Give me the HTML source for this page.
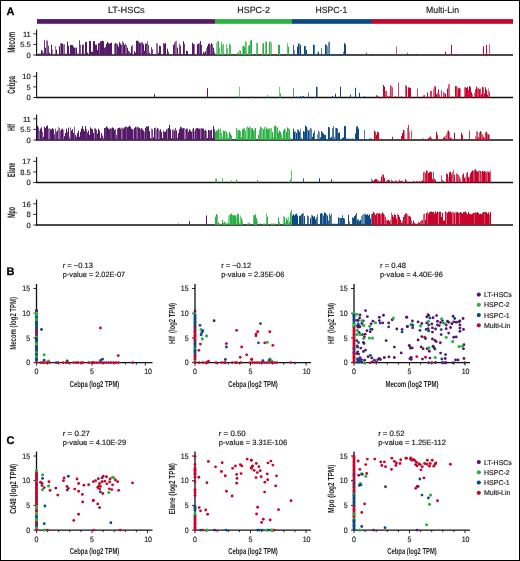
<!DOCTYPE html>
<html><head><meta charset="utf-8"><style>
html,body{margin:0;padding:0;background:#fff;}
svg{display:block;will-change:transform;}
text{font-family:"Liberation Sans",sans-serif;text-rendering:geometricPrecision;}
</style></head><body>
<svg width="520" height="561" viewBox="0 0 520 561" xmlns="http://www.w3.org/2000/svg" font-family="Liberation Sans, sans-serif">
<rect width="520" height="561" fill="#fff"/>
<rect x="0" y="0" width="520" height="1" fill="#000"/><rect x="0" y="560" width="520" height="1" fill="#000"/><rect x="0" y="0" width="1" height="561" fill="#000"/><rect x="519" y="0" width="1" height="561" fill="#000"/>
<text x="6.6" y="14.9" font-size="11" font-weight="bold" fill="#000" stroke="#000" stroke-width="0.25">A</text>
<text x="6.5" y="275.3" font-size="11" font-weight="bold" fill="#000" stroke="#000" stroke-width="0.25">B</text>
<text x="6.5" y="443.6" font-size="11" font-weight="bold" fill="#000" stroke="#000" stroke-width="0.25">C</text>
<rect x="37" y="19.1" width="178" height="4.7" fill="#56196a"/>
<rect x="215" y="19.1" width="77" height="4.7" fill="#2ab142"/>
<rect x="292" y="19.1" width="80" height="4.7" fill="#0a4984"/>
<rect x="372" y="19.1" width="141" height="4.7" fill="#c6052d"/>
<text x="107.9" y="13.4" font-size="9" text-anchor="start" font-weight="normal" textLength="36.85" lengthAdjust="spacingAndGlyphs" fill="#231f20" stroke="#231f20" stroke-width="0.18" >LT-HSCs</text>
<text x="237.25" y="13.4" font-size="9" text-anchor="start" font-weight="normal" textLength="32.75" lengthAdjust="spacingAndGlyphs" fill="#231f20" stroke="#231f20" stroke-width="0.18" >HSPC-2</text>
<text x="315.6" y="13.4" font-size="9" text-anchor="start" font-weight="normal" textLength="31.65" lengthAdjust="spacingAndGlyphs" fill="#231f20" stroke="#231f20" stroke-width="0.18" >HSPC-1</text>
<text x="426" y="13.4" font-size="9" text-anchor="start" font-weight="normal" textLength="33" lengthAdjust="spacingAndGlyphs" fill="#231f20" stroke="#231f20" stroke-width="0.18" >Multi-Lin</text>
<line x1="36.6" y1="29.6" x2="36.6" y2="55.6" stroke="#111" stroke-width="1.1"/>
<line x1="36" y1="55.0" x2="513" y2="55.0" stroke="#111" stroke-width="1.5"/>
<line x1="33.3" y1="33.8" x2="36.6" y2="33.8" stroke="#111" stroke-width="0.9"/>
<text transform="translate(30.8,36.5) scale(1.0,1)" font-size="7.6" text-anchor="end" fill="#231f20" stroke="#231f20" stroke-width="0.18">11</text>
<line x1="33.3" y1="44.4" x2="36.6" y2="44.4" stroke="#111" stroke-width="0.9"/>
<text transform="translate(30.8,47.1) scale(1.0,1)" font-size="7.6" text-anchor="end" fill="#231f20" stroke="#231f20" stroke-width="0.18">5.5</text>
<line x1="33.3" y1="55.0" x2="36.6" y2="55.0" stroke="#111" stroke-width="0.9"/>
<text transform="translate(30.8,57.7) scale(1.0,1)" font-size="7.6" text-anchor="end" fill="#231f20" stroke="#231f20" stroke-width="0.18">0</text>
<text transform="translate(15.1,42.4) rotate(-90)" font-size="10.8" font-weight="bold" text-anchor="middle" textLength="20.8" lengthAdjust="spacingAndGlyphs" fill="#231f20" font-family="Liberation Sans, sans-serif">Mecom</text>
<line x1="36.6" y1="72.1" x2="36.6" y2="98.1" stroke="#111" stroke-width="1.1"/>
<line x1="36" y1="97.5" x2="513" y2="97.5" stroke="#111" stroke-width="1.5"/>
<line x1="33.3" y1="76.3" x2="36.6" y2="76.3" stroke="#111" stroke-width="0.9"/>
<text transform="translate(30.8,79.0) scale(1.0,1)" font-size="7.6" text-anchor="end" fill="#231f20" stroke="#231f20" stroke-width="0.18">10</text>
<line x1="33.3" y1="86.89999999999999" x2="36.6" y2="86.89999999999999" stroke="#111" stroke-width="0.9"/>
<text transform="translate(30.8,89.6) scale(1.0,1)" font-size="7.6" text-anchor="end" fill="#231f20" stroke="#231f20" stroke-width="0.18">5</text>
<line x1="33.3" y1="97.5" x2="36.6" y2="97.5" stroke="#111" stroke-width="0.9"/>
<text transform="translate(30.8,100.2) scale(1.0,1)" font-size="7.6" text-anchor="end" fill="#231f20" stroke="#231f20" stroke-width="0.18">0</text>
<text transform="translate(15.1,84.9) rotate(-90)" font-size="10.8" font-weight="bold" text-anchor="middle" textLength="17.8" lengthAdjust="spacingAndGlyphs" fill="#231f20" font-family="Liberation Sans, sans-serif">Cebpa</text>
<line x1="36.6" y1="114.6" x2="36.6" y2="140.6" stroke="#111" stroke-width="1.1"/>
<line x1="36" y1="140.0" x2="513" y2="140.0" stroke="#111" stroke-width="1.5"/>
<line x1="33.3" y1="118.8" x2="36.6" y2="118.8" stroke="#111" stroke-width="0.9"/>
<text transform="translate(30.8,121.5) scale(1.0,1)" font-size="7.6" text-anchor="end" fill="#231f20" stroke="#231f20" stroke-width="0.18">11</text>
<line x1="33.3" y1="129.4" x2="36.6" y2="129.4" stroke="#111" stroke-width="0.9"/>
<text transform="translate(30.8,132.1) scale(1.0,1)" font-size="7.6" text-anchor="end" fill="#231f20" stroke="#231f20" stroke-width="0.18">5.5</text>
<line x1="33.3" y1="140.0" x2="36.6" y2="140.0" stroke="#111" stroke-width="0.9"/>
<text transform="translate(30.8,142.7) scale(1.0,1)" font-size="7.6" text-anchor="end" fill="#231f20" stroke="#231f20" stroke-width="0.18">0</text>
<text transform="translate(15.1,127.4) rotate(-90)" font-size="10.8" font-weight="bold" text-anchor="middle" textLength="6.8" lengthAdjust="spacingAndGlyphs" fill="#231f20" font-family="Liberation Sans, sans-serif">Hlf</text>
<line x1="36.6" y1="157.1" x2="36.6" y2="183.1" stroke="#111" stroke-width="1.1"/>
<line x1="36" y1="182.5" x2="513" y2="182.5" stroke="#111" stroke-width="1.5"/>
<line x1="33.3" y1="161.3" x2="36.6" y2="161.3" stroke="#111" stroke-width="0.9"/>
<text transform="translate(30.8,164.0) scale(1.0,1)" font-size="7.6" text-anchor="end" fill="#231f20" stroke="#231f20" stroke-width="0.18">17</text>
<line x1="33.3" y1="171.9" x2="36.6" y2="171.9" stroke="#111" stroke-width="0.9"/>
<text transform="translate(30.8,174.6) scale(1.0,1)" font-size="7.6" text-anchor="end" fill="#231f20" stroke="#231f20" stroke-width="0.18">8.5</text>
<line x1="33.3" y1="182.5" x2="36.6" y2="182.5" stroke="#111" stroke-width="0.9"/>
<text transform="translate(30.8,185.2) scale(1.0,1)" font-size="7.6" text-anchor="end" fill="#231f20" stroke="#231f20" stroke-width="0.18">0</text>
<text transform="translate(15.1,169.9) rotate(-90)" font-size="10.8" font-weight="bold" text-anchor="middle" textLength="14.3" lengthAdjust="spacingAndGlyphs" fill="#231f20" font-family="Liberation Sans, sans-serif">Elane</text>
<line x1="36.6" y1="199.6" x2="36.6" y2="225.6" stroke="#111" stroke-width="1.1"/>
<line x1="36" y1="225.0" x2="513" y2="225.0" stroke="#111" stroke-width="1.5"/>
<line x1="33.3" y1="203.8" x2="36.6" y2="203.8" stroke="#111" stroke-width="0.9"/>
<text transform="translate(30.8,206.5) scale(1.0,1)" font-size="7.6" text-anchor="end" fill="#231f20" stroke="#231f20" stroke-width="0.18">16</text>
<line x1="33.3" y1="214.4" x2="36.6" y2="214.4" stroke="#111" stroke-width="0.9"/>
<text transform="translate(30.8,217.1) scale(1.0,1)" font-size="7.6" text-anchor="end" fill="#231f20" stroke="#231f20" stroke-width="0.18">8</text>
<line x1="33.3" y1="225.0" x2="36.6" y2="225.0" stroke="#111" stroke-width="0.9"/>
<text transform="translate(30.8,227.7) scale(1.0,1)" font-size="7.6" text-anchor="end" fill="#231f20" stroke="#231f20" stroke-width="0.18">0</text>
<text transform="translate(15.1,212.4) rotate(-90)" font-size="10.8" font-weight="bold" text-anchor="middle" textLength="10.8" lengthAdjust="spacingAndGlyphs" fill="#231f20" font-family="Liberation Sans, sans-serif">Mpo</text>
<line x1="36.5" y1="284.0" x2="36.5" y2="363.1" stroke="#111" stroke-width="1.3"/>
<line x1="36.0" y1="362.6" x2="152.5" y2="362.6" stroke="#111" stroke-width="1.4"/>
<line x1="33.5" y1="362.6" x2="36.5" y2="362.6" stroke="#111" stroke-width="0.9"/>
<text transform="translate(30.1,365.35) scale(0.9,1)" font-size="7.8" text-anchor="end" fill="#231f20" stroke="#231f20" stroke-width="0.18">0</text>
<line x1="33.5" y1="337.90000000000003" x2="36.5" y2="337.90000000000003" stroke="#111" stroke-width="0.9"/>
<text transform="translate(30.1,340.65000000000003) scale(0.9,1)" font-size="7.8" text-anchor="end" fill="#231f20" stroke="#231f20" stroke-width="0.18">5</text>
<line x1="33.5" y1="313.20000000000005" x2="36.5" y2="313.20000000000005" stroke="#111" stroke-width="0.9"/>
<text transform="translate(30.1,315.95000000000005) scale(0.9,1)" font-size="7.8" text-anchor="end" fill="#231f20" stroke="#231f20" stroke-width="0.18">10</text>
<line x1="33.5" y1="288.5" x2="36.5" y2="288.5" stroke="#111" stroke-width="0.9"/>
<text transform="translate(30.1,291.25) scale(0.9,1)" font-size="7.8" text-anchor="end" fill="#231f20" stroke="#231f20" stroke-width="0.18">15</text>
<line x1="36.5" y1="362.6" x2="36.5" y2="365.6" stroke="#111" stroke-width="0.9"/>
<text transform="translate(36.5,374.3) scale(0.9,1)" font-size="7.8" text-anchor="middle" fill="#231f20" stroke="#231f20" stroke-width="0.18">0</text>
<line x1="47.6" y1="362.6" x2="47.6" y2="364.6" stroke="#111" stroke-width="0.9"/>
<line x1="58.7" y1="362.6" x2="58.7" y2="364.6" stroke="#111" stroke-width="0.9"/>
<line x1="69.8" y1="362.6" x2="69.8" y2="364.6" stroke="#111" stroke-width="0.9"/>
<line x1="80.9" y1="362.6" x2="80.9" y2="364.6" stroke="#111" stroke-width="0.9"/>
<line x1="92.0" y1="362.6" x2="92.0" y2="365.6" stroke="#111" stroke-width="0.9"/>
<text transform="translate(92.0,374.3) scale(0.9,1)" font-size="7.8" text-anchor="middle" fill="#231f20" stroke="#231f20" stroke-width="0.18">5</text>
<line x1="103.1" y1="362.6" x2="103.1" y2="364.6" stroke="#111" stroke-width="0.9"/>
<line x1="114.2" y1="362.6" x2="114.2" y2="364.6" stroke="#111" stroke-width="0.9"/>
<line x1="125.3" y1="362.6" x2="125.3" y2="364.6" stroke="#111" stroke-width="0.9"/>
<line x1="136.39999999999998" y1="362.6" x2="136.39999999999998" y2="364.6" stroke="#111" stroke-width="0.9"/>
<line x1="145.3" y1="362.6" x2="145.3" y2="365.6" stroke="#111" stroke-width="0.9"/>
<text transform="translate(148.1,374.3) scale(0.9,1)" font-size="7.8" text-anchor="middle" fill="#231f20" stroke="#231f20" stroke-width="0.18">10</text>
<text x="94.5" y="386.5" font-size="8.6" text-anchor="middle" font-weight="bold" textLength="49.5" lengthAdjust="spacingAndGlyphs" fill="#231f20" >Cebpa (log2 TPM)</text>
<text transform="translate(16.3,323.4) rotate(-90)" font-size="8.8" font-weight="bold" text-anchor="middle" textLength="52.6" lengthAdjust="spacingAndGlyphs" fill="#231f20" font-family="Liberation Sans, sans-serif">Mecom (log2 TPM)</text>
<text x="62.7" y="268.20000000000005" font-size="7.6" text-anchor="start" font-weight="normal" textLength="30.2" lengthAdjust="spacingAndGlyphs" fill="#231f20" stroke="#231f20" stroke-width="0.18" >r = −0.13</text>
<text x="62.7" y="277.20000000000005" font-size="7.6" text-anchor="start" font-weight="normal" textLength="62.4" lengthAdjust="spacingAndGlyphs" fill="#231f20" stroke="#231f20" stroke-width="0.18" >p-value = 2.02E-07</text>
<line x1="195" y1="284.0" x2="195" y2="363.1" stroke="#111" stroke-width="1.3"/>
<line x1="194.5" y1="362.6" x2="311" y2="362.6" stroke="#111" stroke-width="1.4"/>
<line x1="192" y1="362.6" x2="195" y2="362.6" stroke="#111" stroke-width="0.9"/>
<text transform="translate(188.6,365.35) scale(0.9,1)" font-size="7.8" text-anchor="end" fill="#231f20" stroke="#231f20" stroke-width="0.18">0</text>
<line x1="192" y1="337.90000000000003" x2="195" y2="337.90000000000003" stroke="#111" stroke-width="0.9"/>
<text transform="translate(188.6,340.65000000000003) scale(0.9,1)" font-size="7.8" text-anchor="end" fill="#231f20" stroke="#231f20" stroke-width="0.18">5</text>
<line x1="192" y1="313.20000000000005" x2="195" y2="313.20000000000005" stroke="#111" stroke-width="0.9"/>
<text transform="translate(188.6,315.95000000000005) scale(0.9,1)" font-size="7.8" text-anchor="end" fill="#231f20" stroke="#231f20" stroke-width="0.18">10</text>
<line x1="192" y1="288.5" x2="195" y2="288.5" stroke="#111" stroke-width="0.9"/>
<text transform="translate(188.6,291.25) scale(0.9,1)" font-size="7.8" text-anchor="end" fill="#231f20" stroke="#231f20" stroke-width="0.18">15</text>
<line x1="195.0" y1="362.6" x2="195.0" y2="365.6" stroke="#111" stroke-width="0.9"/>
<text transform="translate(195.0,374.3) scale(0.9,1)" font-size="7.8" text-anchor="middle" fill="#231f20" stroke="#231f20" stroke-width="0.18">0</text>
<line x1="206.1" y1="362.6" x2="206.1" y2="364.6" stroke="#111" stroke-width="0.9"/>
<line x1="217.2" y1="362.6" x2="217.2" y2="364.6" stroke="#111" stroke-width="0.9"/>
<line x1="228.3" y1="362.6" x2="228.3" y2="364.6" stroke="#111" stroke-width="0.9"/>
<line x1="239.4" y1="362.6" x2="239.4" y2="364.6" stroke="#111" stroke-width="0.9"/>
<line x1="250.5" y1="362.6" x2="250.5" y2="365.6" stroke="#111" stroke-width="0.9"/>
<text transform="translate(250.5,374.3) scale(0.9,1)" font-size="7.8" text-anchor="middle" fill="#231f20" stroke="#231f20" stroke-width="0.18">5</text>
<line x1="261.6" y1="362.6" x2="261.6" y2="364.6" stroke="#111" stroke-width="0.9"/>
<line x1="272.7" y1="362.6" x2="272.7" y2="364.6" stroke="#111" stroke-width="0.9"/>
<line x1="283.8" y1="362.6" x2="283.8" y2="364.6" stroke="#111" stroke-width="0.9"/>
<line x1="294.9" y1="362.6" x2="294.9" y2="364.6" stroke="#111" stroke-width="0.9"/>
<line x1="306.0" y1="362.6" x2="306.0" y2="365.6" stroke="#111" stroke-width="0.9"/>
<text transform="translate(306.6,374.3) scale(0.9,1)" font-size="7.8" text-anchor="middle" fill="#231f20" stroke="#231f20" stroke-width="0.18">10</text>
<text x="253" y="386.5" font-size="8.6" text-anchor="middle" font-weight="bold" textLength="49.5" lengthAdjust="spacingAndGlyphs" fill="#231f20" >Cebpa (log2 TPM)</text>
<text transform="translate(174.8,323.4) rotate(-90)" font-size="8.8" font-weight="bold" text-anchor="middle" textLength="41" lengthAdjust="spacingAndGlyphs" fill="#231f20" font-family="Liberation Sans, sans-serif">Hlf (log2 TPM)</text>
<text x="221.15" y="268.20000000000005" font-size="7.6" text-anchor="start" font-weight="normal" textLength="30.1" lengthAdjust="spacingAndGlyphs" fill="#231f20" stroke="#231f20" stroke-width="0.18" >r = −0.12</text>
<text x="221.15" y="277.20000000000005" font-size="7.6" text-anchor="start" font-weight="normal" textLength="63.2" lengthAdjust="spacingAndGlyphs" fill="#231f20" stroke="#231f20" stroke-width="0.18" >p-value = 2.35E-06</text>
<line x1="354.0" y1="284.0" x2="354.0" y2="363.1" stroke="#111" stroke-width="1.3"/>
<line x1="353.5" y1="362.6" x2="470.0" y2="362.6" stroke="#111" stroke-width="1.4"/>
<line x1="351.0" y1="362.6" x2="354.0" y2="362.6" stroke="#111" stroke-width="0.9"/>
<text transform="translate(347.6,365.35) scale(0.9,1)" font-size="7.8" text-anchor="end" fill="#231f20" stroke="#231f20" stroke-width="0.18">0</text>
<line x1="351.0" y1="337.90000000000003" x2="354.0" y2="337.90000000000003" stroke="#111" stroke-width="0.9"/>
<text transform="translate(347.6,340.65000000000003) scale(0.9,1)" font-size="7.8" text-anchor="end" fill="#231f20" stroke="#231f20" stroke-width="0.18">5</text>
<line x1="351.0" y1="313.20000000000005" x2="354.0" y2="313.20000000000005" stroke="#111" stroke-width="0.9"/>
<text transform="translate(347.6,315.95000000000005) scale(0.9,1)" font-size="7.8" text-anchor="end" fill="#231f20" stroke="#231f20" stroke-width="0.18">10</text>
<line x1="351.0" y1="288.5" x2="354.0" y2="288.5" stroke="#111" stroke-width="0.9"/>
<text transform="translate(347.6,291.25) scale(0.9,1)" font-size="7.8" text-anchor="end" fill="#231f20" stroke="#231f20" stroke-width="0.18">15</text>
<line x1="354.0" y1="362.6" x2="354.0" y2="365.6" stroke="#111" stroke-width="0.9"/>
<text transform="translate(354.0,374.3) scale(0.9,1)" font-size="7.8" text-anchor="middle" fill="#231f20" stroke="#231f20" stroke-width="0.18">0</text>
<line x1="365.1" y1="362.6" x2="365.1" y2="364.6" stroke="#111" stroke-width="0.9"/>
<line x1="376.2" y1="362.6" x2="376.2" y2="364.6" stroke="#111" stroke-width="0.9"/>
<line x1="387.3" y1="362.6" x2="387.3" y2="364.6" stroke="#111" stroke-width="0.9"/>
<line x1="398.4" y1="362.6" x2="398.4" y2="364.6" stroke="#111" stroke-width="0.9"/>
<line x1="409.5" y1="362.6" x2="409.5" y2="365.6" stroke="#111" stroke-width="0.9"/>
<text transform="translate(409.5,374.3) scale(0.9,1)" font-size="7.8" text-anchor="middle" fill="#231f20" stroke="#231f20" stroke-width="0.18">5</text>
<line x1="420.6" y1="362.6" x2="420.6" y2="364.6" stroke="#111" stroke-width="0.9"/>
<line x1="431.7" y1="362.6" x2="431.7" y2="364.6" stroke="#111" stroke-width="0.9"/>
<line x1="442.8" y1="362.6" x2="442.8" y2="364.6" stroke="#111" stroke-width="0.9"/>
<line x1="453.9" y1="362.6" x2="453.9" y2="364.6" stroke="#111" stroke-width="0.9"/>
<line x1="465.0" y1="362.6" x2="465.0" y2="365.6" stroke="#111" stroke-width="0.9"/>
<text transform="translate(465.6,374.3) scale(0.9,1)" font-size="7.8" text-anchor="middle" fill="#231f20" stroke="#231f20" stroke-width="0.18">10</text>
<text x="412.0" y="386.5" font-size="8.6" text-anchor="middle" font-weight="bold" textLength="53.1" lengthAdjust="spacingAndGlyphs" fill="#231f20" >Mecom (log2 TPM)</text>
<text transform="translate(333.8,323.4) rotate(-90)" font-size="8.8" font-weight="bold" text-anchor="middle" textLength="41" lengthAdjust="spacingAndGlyphs" fill="#231f20" font-family="Liberation Sans, sans-serif">Hlf (log2 TPM)</text>
<text x="380" y="268.20000000000005" font-size="7.6" text-anchor="start" font-weight="normal" textLength="26" lengthAdjust="spacingAndGlyphs" fill="#231f20" stroke="#231f20" stroke-width="0.18" >r = 0.48</text>
<text x="380" y="277.20000000000005" font-size="7.6" text-anchor="start" font-weight="normal" textLength="62.8" lengthAdjust="spacingAndGlyphs" fill="#231f20" stroke="#231f20" stroke-width="0.18" >p-value = 4.40E-96</text>
<circle cx="478.8" cy="294.6" r="2.1" fill="#56196a"/>
<text x="484" y="297.0" font-size="7" text-anchor="start" font-weight="normal" fill="#231f20" stroke="#231f20" stroke-width="0.18" >LT-HSCs</text>
<circle cx="478.8" cy="304.85" r="2.1" fill="#2ab142"/>
<text x="484" y="307.25" font-size="7" text-anchor="start" font-weight="normal" fill="#231f20" stroke="#231f20" stroke-width="0.18" >HSPC-2</text>
<circle cx="478.8" cy="315.1" r="2.1" fill="#0a4984"/>
<text x="484" y="317.5" font-size="7" text-anchor="start" font-weight="normal" fill="#231f20" stroke="#231f20" stroke-width="0.18" >HSPC-1</text>
<circle cx="478.8" cy="325.35" r="2.1" fill="#c6052d"/>
<text x="484" y="327.75" font-size="7" text-anchor="start" font-weight="normal" fill="#231f20" stroke="#231f20" stroke-width="0.18" >Multi-Lin</text>
<line x1="36.5" y1="451.5" x2="36.5" y2="530.6" stroke="#111" stroke-width="1.3"/>
<line x1="36.0" y1="530.1" x2="152.5" y2="530.1" stroke="#111" stroke-width="1.4"/>
<line x1="33.5" y1="530.1" x2="36.5" y2="530.1" stroke="#111" stroke-width="0.9"/>
<text transform="translate(30.1,532.85) scale(0.9,1)" font-size="7.8" text-anchor="end" fill="#231f20" stroke="#231f20" stroke-width="0.18">0</text>
<line x1="33.5" y1="505.40000000000003" x2="36.5" y2="505.40000000000003" stroke="#111" stroke-width="0.9"/>
<text transform="translate(30.1,508.15000000000003) scale(0.9,1)" font-size="7.8" text-anchor="end" fill="#231f20" stroke="#231f20" stroke-width="0.18">5</text>
<line x1="33.5" y1="480.70000000000005" x2="36.5" y2="480.70000000000005" stroke="#111" stroke-width="0.9"/>
<text transform="translate(30.1,483.45000000000005) scale(0.9,1)" font-size="7.8" text-anchor="end" fill="#231f20" stroke="#231f20" stroke-width="0.18">10</text>
<line x1="33.5" y1="456.0" x2="36.5" y2="456.0" stroke="#111" stroke-width="0.9"/>
<text transform="translate(30.1,458.75) scale(0.9,1)" font-size="7.8" text-anchor="end" fill="#231f20" stroke="#231f20" stroke-width="0.18">15</text>
<line x1="36.5" y1="530.1" x2="36.5" y2="533.1" stroke="#111" stroke-width="0.9"/>
<text transform="translate(36.5,541.8000000000001) scale(0.9,1)" font-size="7.8" text-anchor="middle" fill="#231f20" stroke="#231f20" stroke-width="0.18">0</text>
<line x1="47.6" y1="530.1" x2="47.6" y2="532.1" stroke="#111" stroke-width="0.9"/>
<line x1="58.7" y1="530.1" x2="58.7" y2="532.1" stroke="#111" stroke-width="0.9"/>
<line x1="69.8" y1="530.1" x2="69.8" y2="532.1" stroke="#111" stroke-width="0.9"/>
<line x1="80.9" y1="530.1" x2="80.9" y2="532.1" stroke="#111" stroke-width="0.9"/>
<line x1="92.0" y1="530.1" x2="92.0" y2="533.1" stroke="#111" stroke-width="0.9"/>
<text transform="translate(92.0,541.8000000000001) scale(0.9,1)" font-size="7.8" text-anchor="middle" fill="#231f20" stroke="#231f20" stroke-width="0.18">5</text>
<line x1="103.1" y1="530.1" x2="103.1" y2="532.1" stroke="#111" stroke-width="0.9"/>
<line x1="114.2" y1="530.1" x2="114.2" y2="532.1" stroke="#111" stroke-width="0.9"/>
<line x1="125.3" y1="530.1" x2="125.3" y2="532.1" stroke="#111" stroke-width="0.9"/>
<line x1="136.39999999999998" y1="530.1" x2="136.39999999999998" y2="532.1" stroke="#111" stroke-width="0.9"/>
<line x1="147.5" y1="530.1" x2="147.5" y2="533.1" stroke="#111" stroke-width="0.9"/>
<text transform="translate(148.1,541.8000000000001) scale(0.9,1)" font-size="7.8" text-anchor="middle" fill="#231f20" stroke="#231f20" stroke-width="0.18">10</text>
<text x="94.5" y="554.0" font-size="8.6" text-anchor="middle" font-weight="bold" textLength="49.5" lengthAdjust="spacingAndGlyphs" fill="#231f20" >Cebpa (log2 TPM)</text>
<text transform="translate(16.3,488.8) rotate(-90)" font-size="8.8" font-weight="bold" text-anchor="middle" textLength="50" lengthAdjust="spacingAndGlyphs" fill="#231f20" font-family="Liberation Sans, sans-serif">Cd48 (log2 TPM)</text>
<text x="62.7" y="435.70000000000005" font-size="7.6" text-anchor="start" font-weight="normal" textLength="27.4" lengthAdjust="spacingAndGlyphs" fill="#231f20" stroke="#231f20" stroke-width="0.18" >r = 0.27</text>
<text x="62.7" y="444.70000000000005" font-size="7.6" text-anchor="start" font-weight="normal" textLength="63.4" lengthAdjust="spacingAndGlyphs" fill="#231f20" stroke="#231f20" stroke-width="0.18" >p-value = 4.10E-29</text>
<line x1="195" y1="451.5" x2="195" y2="530.6" stroke="#111" stroke-width="1.3"/>
<line x1="194.5" y1="530.1" x2="311" y2="530.1" stroke="#111" stroke-width="1.4"/>
<line x1="192" y1="530.1" x2="195" y2="530.1" stroke="#111" stroke-width="0.9"/>
<text transform="translate(188.6,532.85) scale(0.9,1)" font-size="7.8" text-anchor="end" fill="#231f20" stroke="#231f20" stroke-width="0.18">0</text>
<line x1="192" y1="505.40000000000003" x2="195" y2="505.40000000000003" stroke="#111" stroke-width="0.9"/>
<text transform="translate(188.6,508.15000000000003) scale(0.9,1)" font-size="7.8" text-anchor="end" fill="#231f20" stroke="#231f20" stroke-width="0.18">5</text>
<line x1="192" y1="480.70000000000005" x2="195" y2="480.70000000000005" stroke="#111" stroke-width="0.9"/>
<text transform="translate(188.6,483.45000000000005) scale(0.9,1)" font-size="7.8" text-anchor="end" fill="#231f20" stroke="#231f20" stroke-width="0.18">10</text>
<line x1="192" y1="456.0" x2="195" y2="456.0" stroke="#111" stroke-width="0.9"/>
<text transform="translate(188.6,458.75) scale(0.9,1)" font-size="7.8" text-anchor="end" fill="#231f20" stroke="#231f20" stroke-width="0.18">15</text>
<line x1="195.0" y1="530.1" x2="195.0" y2="533.1" stroke="#111" stroke-width="0.9"/>
<text transform="translate(195.0,541.8000000000001) scale(0.9,1)" font-size="7.8" text-anchor="middle" fill="#231f20" stroke="#231f20" stroke-width="0.18">0</text>
<line x1="206.1" y1="530.1" x2="206.1" y2="532.1" stroke="#111" stroke-width="0.9"/>
<line x1="217.2" y1="530.1" x2="217.2" y2="532.1" stroke="#111" stroke-width="0.9"/>
<line x1="228.3" y1="530.1" x2="228.3" y2="532.1" stroke="#111" stroke-width="0.9"/>
<line x1="239.4" y1="530.1" x2="239.4" y2="532.1" stroke="#111" stroke-width="0.9"/>
<line x1="250.5" y1="530.1" x2="250.5" y2="533.1" stroke="#111" stroke-width="0.9"/>
<text transform="translate(250.5,541.8000000000001) scale(0.9,1)" font-size="7.8" text-anchor="middle" fill="#231f20" stroke="#231f20" stroke-width="0.18">5</text>
<line x1="261.6" y1="530.1" x2="261.6" y2="532.1" stroke="#111" stroke-width="0.9"/>
<line x1="272.7" y1="530.1" x2="272.7" y2="532.1" stroke="#111" stroke-width="0.9"/>
<line x1="283.8" y1="530.1" x2="283.8" y2="532.1" stroke="#111" stroke-width="0.9"/>
<line x1="294.9" y1="530.1" x2="294.9" y2="532.1" stroke="#111" stroke-width="0.9"/>
<line x1="306.0" y1="530.1" x2="306.0" y2="533.1" stroke="#111" stroke-width="0.9"/>
<text transform="translate(306.6,541.8000000000001) scale(0.9,1)" font-size="7.8" text-anchor="middle" fill="#231f20" stroke="#231f20" stroke-width="0.18">10</text>
<text x="253" y="554.0" font-size="8.6" text-anchor="middle" font-weight="bold" textLength="49.5" lengthAdjust="spacingAndGlyphs" fill="#231f20" >Cebpa (log2 TPM)</text>
<text transform="translate(174.8,488.8) rotate(-90)" font-size="8.8" font-weight="bold" text-anchor="middle" textLength="51.6" lengthAdjust="spacingAndGlyphs" fill="#231f20" font-family="Liberation Sans, sans-serif">Elane (log2 TPM)</text>
<text x="218.8" y="435.70000000000005" font-size="7.6" text-anchor="start" font-weight="normal" textLength="26.9" lengthAdjust="spacingAndGlyphs" fill="#231f20" stroke="#231f20" stroke-width="0.18" >r = 0.50</text>
<text x="218.8" y="444.70000000000005" font-size="7.6" text-anchor="start" font-weight="normal" textLength="68.3" lengthAdjust="spacingAndGlyphs" fill="#231f20" stroke="#231f20" stroke-width="0.18" >p-value = 3.31E-106</text>
<line x1="354.0" y1="451.5" x2="354.0" y2="530.6" stroke="#111" stroke-width="1.3"/>
<line x1="353.5" y1="530.1" x2="470.0" y2="530.1" stroke="#111" stroke-width="1.4"/>
<line x1="351.0" y1="530.1" x2="354.0" y2="530.1" stroke="#111" stroke-width="0.9"/>
<text transform="translate(347.6,532.85) scale(0.9,1)" font-size="7.8" text-anchor="end" fill="#231f20" stroke="#231f20" stroke-width="0.18">0</text>
<line x1="351.0" y1="505.40000000000003" x2="354.0" y2="505.40000000000003" stroke="#111" stroke-width="0.9"/>
<text transform="translate(347.6,508.15000000000003) scale(0.9,1)" font-size="7.8" text-anchor="end" fill="#231f20" stroke="#231f20" stroke-width="0.18">5</text>
<line x1="351.0" y1="480.70000000000005" x2="354.0" y2="480.70000000000005" stroke="#111" stroke-width="0.9"/>
<text transform="translate(347.6,483.45000000000005) scale(0.9,1)" font-size="7.8" text-anchor="end" fill="#231f20" stroke="#231f20" stroke-width="0.18">10</text>
<line x1="351.0" y1="456.0" x2="354.0" y2="456.0" stroke="#111" stroke-width="0.9"/>
<text transform="translate(347.6,458.75) scale(0.9,1)" font-size="7.8" text-anchor="end" fill="#231f20" stroke="#231f20" stroke-width="0.18">15</text>
<line x1="354.0" y1="530.1" x2="354.0" y2="533.1" stroke="#111" stroke-width="0.9"/>
<text transform="translate(354.0,541.8000000000001) scale(0.9,1)" font-size="7.8" text-anchor="middle" fill="#231f20" stroke="#231f20" stroke-width="0.18">0</text>
<line x1="365.1" y1="530.1" x2="365.1" y2="532.1" stroke="#111" stroke-width="0.9"/>
<line x1="376.2" y1="530.1" x2="376.2" y2="532.1" stroke="#111" stroke-width="0.9"/>
<line x1="387.3" y1="530.1" x2="387.3" y2="532.1" stroke="#111" stroke-width="0.9"/>
<line x1="398.4" y1="530.1" x2="398.4" y2="532.1" stroke="#111" stroke-width="0.9"/>
<line x1="409.5" y1="530.1" x2="409.5" y2="533.1" stroke="#111" stroke-width="0.9"/>
<text transform="translate(409.5,541.8000000000001) scale(0.9,1)" font-size="7.8" text-anchor="middle" fill="#231f20" stroke="#231f20" stroke-width="0.18">5</text>
<line x1="420.6" y1="530.1" x2="420.6" y2="532.1" stroke="#111" stroke-width="0.9"/>
<line x1="431.7" y1="530.1" x2="431.7" y2="532.1" stroke="#111" stroke-width="0.9"/>
<line x1="442.8" y1="530.1" x2="442.8" y2="532.1" stroke="#111" stroke-width="0.9"/>
<line x1="453.9" y1="530.1" x2="453.9" y2="532.1" stroke="#111" stroke-width="0.9"/>
<line x1="465.0" y1="530.1" x2="465.0" y2="533.1" stroke="#111" stroke-width="0.9"/>
<text transform="translate(465.6,541.8000000000001) scale(0.9,1)" font-size="7.8" text-anchor="middle" fill="#231f20" stroke="#231f20" stroke-width="0.18">10</text>
<text x="412.0" y="554.0" font-size="8.6" text-anchor="middle" font-weight="bold" textLength="49.5" lengthAdjust="spacingAndGlyphs" fill="#231f20" >Cebpa (log2 TPM)</text>
<text transform="translate(333.8,488.8) rotate(-90)" font-size="8.8" font-weight="bold" text-anchor="middle" textLength="48.3" lengthAdjust="spacingAndGlyphs" fill="#231f20" font-family="Liberation Sans, sans-serif">Mpo (log2 TPM)</text>
<text x="378.15" y="435.70000000000005" font-size="7.6" text-anchor="start" font-weight="normal" textLength="26.5" lengthAdjust="spacingAndGlyphs" fill="#231f20" stroke="#231f20" stroke-width="0.18" >r = 0.52</text>
<text x="378.15" y="444.70000000000005" font-size="7.6" text-anchor="start" font-weight="normal" textLength="67.8" lengthAdjust="spacingAndGlyphs" fill="#231f20" stroke="#231f20" stroke-width="0.18" >p-value = 1.25E-112</text>
<circle cx="478.8" cy="462.1" r="2.1" fill="#56196a"/>
<text x="484" y="464.5" font-size="7" text-anchor="start" font-weight="normal" fill="#231f20" stroke="#231f20" stroke-width="0.18" >LT-HSCs</text>
<circle cx="478.8" cy="472.35" r="2.1" fill="#2ab142"/>
<text x="484" y="474.75" font-size="7" text-anchor="start" font-weight="normal" fill="#231f20" stroke="#231f20" stroke-width="0.18" >HSPC-2</text>
<circle cx="478.8" cy="482.6" r="2.1" fill="#0a4984"/>
<text x="484" y="485.0" font-size="7" text-anchor="start" font-weight="normal" fill="#231f20" stroke="#231f20" stroke-width="0.18" >HSPC-1</text>
<circle cx="478.8" cy="492.85" r="2.1" fill="#c6052d"/>
<text x="484" y="495.25" font-size="7" text-anchor="start" font-weight="normal" fill="#231f20" stroke="#231f20" stroke-width="0.18" >Multi-Lin</text>
<rect x="38" y="53.70" width="1" height="1.30" fill="#56196a" opacity="1.00"/>
<rect x="39" y="53.70" width="1" height="1.30" fill="#56196a" opacity="0.82"/>
<rect x="40" y="53.70" width="1" height="1.30" fill="#56196a" opacity="0.86"/>
<rect x="41" y="50.20" width="1" height="4.80" fill="#56196a" opacity="1.00"/>
<rect x="42" y="50.70" width="1" height="4.30" fill="#56196a" opacity="0.76"/>
<rect x="43" y="52.70" width="1" height="2.30" fill="#56196a" opacity="0.71"/>
<rect x="44" y="40.20" width="1" height="14.80" fill="#56196a" opacity="0.88"/>
<rect x="45" y="47.70" width="1" height="7.30" fill="#56196a" opacity="1.00"/>
<rect x="46" y="40.20" width="1" height="14.80" fill="#56196a" opacity="0.57"/>
<rect x="47" y="40.70" width="1" height="14.30" fill="#56196a" opacity="0.78"/>
<rect x="48" y="45.70" width="1" height="9.30" fill="#56196a" opacity="0.84"/>
<rect x="49" y="52.70" width="1" height="2.30" fill="#56196a" opacity="1.00"/>
<rect x="51" y="44.70" width="1" height="10.30" fill="#56196a" opacity="1.00"/>
<rect x="52" y="49.70" width="1" height="5.30" fill="#56196a" opacity="0.56"/>
<rect x="55" y="46.20" width="1" height="8.80" fill="#56196a" opacity="0.61"/>
<rect x="56" y="49.70" width="1" height="5.30" fill="#56196a" opacity="1.00"/>
<rect x="59" y="46.20" width="1" height="8.80" fill="#56196a" opacity="1.00"/>
<rect x="60" y="43.20" width="1" height="11.80" fill="#56196a" opacity="0.60"/>
<rect x="61" y="43.20" width="1" height="11.80" fill="#56196a" opacity="1.00"/>
<rect x="62" y="43.70" width="1" height="11.30" fill="#56196a" opacity="1.00"/>
<rect x="63" y="44.30" width="1" height="10.70" fill="#56196a" opacity="0.58"/>
<rect x="64" y="44.30" width="1" height="10.70" fill="#56196a" opacity="0.74"/>
<rect x="65" y="53.70" width="1" height="1.30" fill="#56196a" opacity="0.84"/>
<rect x="66" y="53.70" width="1" height="1.30" fill="#56196a" opacity="0.65"/>
<rect x="67" y="41.70" width="1" height="13.30" fill="#56196a" opacity="1.00"/>
<rect x="68" y="45.70" width="1" height="9.30" fill="#56196a" opacity="1.00"/>
<rect x="69" y="53.70" width="1" height="1.30" fill="#56196a" opacity="0.89"/>
<rect x="70" y="44.95" width="1" height="10.05" fill="#56196a" opacity="1.00"/>
<rect x="71" y="44.95" width="1" height="10.05" fill="#56196a" opacity="1.00"/>
<rect x="72" y="44.95" width="1" height="10.05" fill="#56196a" opacity="1.00"/>
<rect x="73" y="46.70" width="1" height="8.30" fill="#56196a" opacity="1.00"/>
<rect x="74" y="47.70" width="1" height="7.30" fill="#56196a" opacity="1.00"/>
<rect x="75" y="47.70" width="1" height="7.30" fill="#56196a" opacity="0.64"/>
<rect x="76" y="47.70" width="1" height="7.30" fill="#56196a" opacity="1.00"/>
<rect x="77" y="53.70" width="1" height="1.30" fill="#56196a" opacity="1.00"/>
<rect x="78" y="53.70" width="1" height="1.30" fill="#56196a" opacity="1.00"/>
<rect x="79" y="40.20" width="1" height="14.80" fill="#56196a" opacity="0.88"/>
<rect x="80" y="44.70" width="1" height="10.30" fill="#56196a" opacity="0.73"/>
<rect x="81" y="53.70" width="1" height="1.30" fill="#56196a" opacity="0.79"/>
<rect x="82" y="44.70" width="1" height="10.30" fill="#56196a" opacity="1.00"/>
<rect x="83" y="44.70" width="1" height="10.30" fill="#56196a" opacity="0.82"/>
<rect x="84" y="53.70" width="1" height="1.30" fill="#56196a" opacity="0.83"/>
<rect x="85" y="42.10" width="1" height="12.90" fill="#56196a" opacity="1.00"/>
<rect x="86" y="42.10" width="1" height="12.90" fill="#56196a" opacity="1.00"/>
<rect x="87" y="52.70" width="1" height="2.30" fill="#56196a" opacity="1.00"/>
<rect x="88" y="53.70" width="1" height="1.30" fill="#56196a" opacity="0.57"/>
<rect x="89" y="40.95" width="1" height="14.05" fill="#56196a" opacity="1.00"/>
<rect x="90" y="40.95" width="1" height="14.05" fill="#56196a" opacity="1.00"/>
<rect x="91" y="51.70" width="1" height="3.30" fill="#56196a" opacity="1.00"/>
<rect x="92" y="51.70" width="1" height="3.30" fill="#56196a" opacity="1.00"/>
<rect x="93" y="41.20" width="1" height="13.80" fill="#56196a" opacity="1.00"/>
<rect x="94" y="41.20" width="1" height="13.80" fill="#56196a" opacity="1.00"/>
<rect x="95" y="44.70" width="1" height="10.30" fill="#56196a" opacity="1.00"/>
<rect x="96" y="44.70" width="1" height="10.30" fill="#56196a" opacity="1.00"/>
<rect x="97" y="49.95" width="1" height="5.05" fill="#56196a" opacity="1.00"/>
<rect x="98" y="43.10" width="1" height="11.90" fill="#56196a" opacity="1.00"/>
<rect x="99" y="43.10" width="1" height="11.90" fill="#56196a" opacity="0.76"/>
<rect x="100" y="41.20" width="1" height="13.80" fill="#56196a" opacity="1.00"/>
<rect x="101" y="41.20" width="1" height="13.80" fill="#56196a" opacity="1.00"/>
<rect x="102" y="40.70" width="1" height="14.30" fill="#56196a" opacity="1.00"/>
<rect x="103" y="41.20" width="1" height="13.80" fill="#56196a" opacity="1.00"/>
<rect x="104" y="47.70" width="1" height="7.30" fill="#56196a" opacity="1.00"/>
<rect x="105" y="46.70" width="1" height="8.30" fill="#56196a" opacity="0.90"/>
<rect x="106" y="43.70" width="1" height="11.30" fill="#56196a" opacity="1.00"/>
<rect x="107" y="41.70" width="1" height="13.30" fill="#56196a" opacity="1.00"/>
<rect x="108" y="43.10" width="1" height="11.90" fill="#56196a" opacity="1.00"/>
<rect x="109" y="43.70" width="1" height="11.30" fill="#56196a" opacity="1.00"/>
<rect x="110" y="43.10" width="1" height="11.90" fill="#56196a" opacity="1.00"/>
<rect x="111" y="42.70" width="1" height="12.30" fill="#56196a" opacity="1.00"/>
<rect x="114" y="43.70" width="1" height="11.30" fill="#56196a" opacity="0.61"/>
<rect x="115" y="43.10" width="1" height="11.90" fill="#56196a" opacity="1.00"/>
<rect x="116" y="43.45" width="1" height="11.55" fill="#56196a" opacity="0.73"/>
<rect x="117" y="44.30" width="1" height="10.70" fill="#56196a" opacity="1.00"/>
<rect x="118" y="46.70" width="1" height="8.30" fill="#56196a" opacity="1.00"/>
<rect x="119" y="42.20" width="1" height="12.80" fill="#56196a" opacity="1.00"/>
<rect x="120" y="43.70" width="1" height="11.30" fill="#56196a" opacity="1.00"/>
<rect x="121" y="44.95" width="1" height="10.05" fill="#56196a" opacity="0.85"/>
<rect x="122" y="40.95" width="1" height="14.05" fill="#56196a" opacity="0.64"/>
<rect x="123" y="42.70" width="1" height="12.30" fill="#56196a" opacity="1.00"/>
<rect x="124" y="44.95" width="1" height="10.05" fill="#56196a" opacity="1.00"/>
<rect x="125" y="43.70" width="1" height="11.30" fill="#56196a" opacity="0.74"/>
<rect x="126" y="44.95" width="1" height="10.05" fill="#56196a" opacity="0.67"/>
<rect x="127" y="47.70" width="1" height="7.30" fill="#56196a" opacity="1.00"/>
<rect x="128" y="50.70" width="1" height="4.30" fill="#56196a" opacity="0.89"/>
<rect x="129" y="51.70" width="1" height="3.30" fill="#56196a" opacity="0.83"/>
<rect x="130" y="52.70" width="1" height="2.30" fill="#56196a" opacity="0.81"/>
<rect x="131" y="46.20" width="1" height="8.80" fill="#56196a" opacity="1.00"/>
<rect x="132" y="44.95" width="1" height="10.05" fill="#56196a" opacity="0.67"/>
<rect x="134" y="51.20" width="1" height="3.80" fill="#56196a" opacity="1.00"/>
<rect x="135" y="52.70" width="1" height="2.30" fill="#56196a" opacity="1.00"/>
<rect x="136" y="40.70" width="1" height="14.30" fill="#56196a" opacity="1.00"/>
<rect x="137" y="40.70" width="1" height="14.30" fill="#56196a" opacity="1.00"/>
<rect x="138" y="41.20" width="1" height="13.80" fill="#56196a" opacity="0.88"/>
<rect x="139" y="42.70" width="1" height="12.30" fill="#56196a" opacity="1.00"/>
<rect x="140" y="43.10" width="1" height="11.90" fill="#56196a" opacity="0.90"/>
<rect x="141" y="41.70" width="1" height="13.30" fill="#56196a" opacity="0.68"/>
<rect x="142" y="42.70" width="1" height="12.30" fill="#56196a" opacity="1.00"/>
<rect x="143" y="44.30" width="1" height="10.70" fill="#56196a" opacity="1.00"/>
<rect x="144" y="50.70" width="1" height="4.30" fill="#56196a" opacity="1.00"/>
<rect x="145" y="43.70" width="1" height="11.30" fill="#56196a" opacity="1.00"/>
<rect x="146" y="43.45" width="1" height="11.55" fill="#56196a" opacity="0.87"/>
<rect x="147" y="41.20" width="1" height="13.80" fill="#56196a" opacity="0.72"/>
<rect x="148" y="44.95" width="1" height="10.05" fill="#56196a" opacity="0.83"/>
<rect x="149" y="52.70" width="1" height="2.30" fill="#56196a" opacity="1.00"/>
<rect x="151" y="47.20" width="1" height="7.80" fill="#56196a" opacity="0.87"/>
<rect x="152" y="49.30" width="1" height="5.70" fill="#56196a" opacity="0.81"/>
<rect x="156" y="43.10" width="1" height="11.90" fill="#56196a" opacity="0.61"/>
<rect x="157" y="43.45" width="1" height="11.55" fill="#56196a" opacity="0.67"/>
<rect x="158" y="52.70" width="1" height="2.30" fill="#56196a" opacity="0.89"/>
<rect x="159" y="45.70" width="1" height="9.30" fill="#56196a" opacity="1.00"/>
<rect x="160" y="46.20" width="1" height="8.80" fill="#56196a" opacity="1.00"/>
<rect x="163" y="43.10" width="1" height="11.90" fill="#56196a" opacity="0.80"/>
<rect x="164" y="43.70" width="1" height="11.30" fill="#56196a" opacity="1.00"/>
<rect x="165" y="43.10" width="1" height="11.90" fill="#56196a" opacity="1.00"/>
<rect x="167" y="48.70" width="1" height="6.30" fill="#56196a" opacity="1.00"/>
<rect x="168" y="51.70" width="1" height="3.30" fill="#56196a" opacity="0.83"/>
<rect x="173" y="44.95" width="1" height="10.05" fill="#56196a" opacity="1.00"/>
<rect x="174" y="42.70" width="1" height="12.30" fill="#56196a" opacity="0.89"/>
<rect x="175" y="41.20" width="1" height="13.80" fill="#56196a" opacity="0.67"/>
<rect x="176" y="40.70" width="1" height="14.30" fill="#56196a" opacity="0.60"/>
<rect x="177" y="47.70" width="1" height="7.30" fill="#56196a" opacity="1.00"/>
<rect x="179" y="43.70" width="1" height="11.30" fill="#56196a" opacity="0.78"/>
<rect x="180" y="45.70" width="1" height="9.30" fill="#56196a" opacity="0.88"/>
<rect x="183" y="41.20" width="1" height="13.80" fill="#56196a" opacity="1.00"/>
<rect x="184" y="43.70" width="1" height="11.30" fill="#56196a" opacity="0.84"/>
<rect x="186" y="50.70" width="1" height="4.30" fill="#56196a" opacity="1.00"/>
<rect x="187" y="51.20" width="1" height="3.80" fill="#56196a" opacity="1.00"/>
<rect x="192" y="42.70" width="1" height="12.30" fill="#56196a" opacity="1.00"/>
<rect x="193" y="44.30" width="1" height="10.70" fill="#56196a" opacity="1.00"/>
<rect x="194" y="44.30" width="1" height="10.70" fill="#56196a" opacity="0.64"/>
<rect x="197" y="44.30" width="1" height="10.70" fill="#56196a" opacity="1.00"/>
<rect x="198" y="43.70" width="1" height="11.30" fill="#56196a" opacity="1.00"/>
<rect x="199" y="43.10" width="1" height="11.90" fill="#56196a" opacity="0.67"/>
<rect x="200" y="41.20" width="1" height="13.80" fill="#56196a" opacity="1.00"/>
<rect x="201" y="44.95" width="1" height="10.05" fill="#56196a" opacity="0.87"/>
<rect x="203" y="51.70" width="1" height="3.30" fill="#56196a" opacity="1.00"/>
<rect x="204" y="52.70" width="1" height="2.30" fill="#56196a" opacity="0.73"/>
<rect x="205" y="51.20" width="1" height="3.80" fill="#56196a" opacity="1.00"/>
<rect x="206" y="48.10" width="1" height="6.90" fill="#56196a" opacity="0.56"/>
<rect x="207" y="46.20" width="1" height="8.80" fill="#56196a" opacity="1.00"/>
<rect x="208" y="43.70" width="1" height="11.30" fill="#56196a" opacity="1.00"/>
<rect x="209" y="43.70" width="1" height="11.30" fill="#56196a" opacity="1.00"/>
<rect x="210" y="44.95" width="1" height="10.05" fill="#56196a" opacity="0.61"/>
<rect x="211" y="43.10" width="1" height="11.90" fill="#56196a" opacity="1.00"/>
<rect x="212" y="44.30" width="1" height="10.70" fill="#56196a" opacity="0.74"/>
<rect x="213" y="47.70" width="1" height="7.30" fill="#56196a" opacity="1.00"/>
<rect x="214" y="51.70" width="1" height="3.30" fill="#56196a" opacity="0.74"/>
<rect x="216" y="42.70" width="1" height="12.30" fill="#2ab142" opacity="0.59"/>
<rect x="217" y="40.70" width="1" height="14.30" fill="#2ab142" opacity="0.64"/>
<rect x="218" y="41.20" width="1" height="13.80" fill="#2ab142" opacity="1.00"/>
<rect x="219" y="47.70" width="1" height="7.30" fill="#2ab142" opacity="0.73"/>
<rect x="221" y="41.70" width="1" height="13.30" fill="#2ab142" opacity="0.82"/>
<rect x="222" y="44.70" width="1" height="10.30" fill="#2ab142" opacity="0.71"/>
<rect x="223" y="43.70" width="1" height="11.30" fill="#2ab142" opacity="0.73"/>
<rect x="226" y="44.30" width="1" height="10.70" fill="#2ab142" opacity="0.79"/>
<rect x="227" y="48.10" width="1" height="6.90" fill="#2ab142" opacity="0.74"/>
<rect x="229" y="43.70" width="1" height="11.30" fill="#2ab142" opacity="0.88"/>
<rect x="230" y="44.95" width="1" height="10.05" fill="#2ab142" opacity="0.86"/>
<rect x="237" y="51.70" width="1" height="3.30" fill="#2ab142" opacity="0.64"/>
<rect x="238" y="52.70" width="1" height="2.30" fill="#2ab142" opacity="0.88"/>
<rect x="239" y="49.95" width="1" height="5.05" fill="#2ab142" opacity="0.60"/>
<rect x="240" y="50.70" width="1" height="4.30" fill="#2ab142" opacity="1.00"/>
<rect x="242" y="46.20" width="1" height="8.80" fill="#2ab142" opacity="0.58"/>
<rect x="243" y="45.70" width="1" height="9.30" fill="#2ab142" opacity="1.00"/>
<rect x="244" y="46.70" width="1" height="8.30" fill="#2ab142" opacity="1.00"/>
<rect x="245" y="41.20" width="1" height="13.80" fill="#2ab142" opacity="0.82"/>
<rect x="246" y="41.70" width="1" height="13.30" fill="#2ab142" opacity="0.60"/>
<rect x="248" y="45.70" width="1" height="9.30" fill="#2ab142" opacity="0.78"/>
<rect x="249" y="44.95" width="1" height="10.05" fill="#2ab142" opacity="1.00"/>
<rect x="250" y="40.70" width="1" height="14.30" fill="#2ab142" opacity="0.89"/>
<rect x="251" y="39.95" width="1" height="15.05" fill="#2ab142" opacity="1.00"/>
<rect x="256" y="42.70" width="1" height="12.30" fill="#2ab142" opacity="0.69"/>
<rect x="257" y="43.10" width="1" height="11.90" fill="#2ab142" opacity="0.90"/>
<rect x="262" y="43.70" width="1" height="11.30" fill="#2ab142" opacity="0.61"/>
<rect x="263" y="43.10" width="1" height="11.90" fill="#2ab142" opacity="1.00"/>
<rect x="265" y="41.70" width="1" height="13.30" fill="#2ab142" opacity="0.67"/>
<rect x="266" y="41.70" width="1" height="13.30" fill="#2ab142" opacity="1.00"/>
<rect x="269" y="41.70" width="1" height="13.30" fill="#2ab142" opacity="1.00"/>
<rect x="270" y="40.95" width="1" height="14.05" fill="#2ab142" opacity="0.56"/>
<rect x="271" y="42.70" width="1" height="12.30" fill="#2ab142" opacity="0.70"/>
<rect x="278" y="44.95" width="1" height="10.05" fill="#2ab142" opacity="1.00"/>
<rect x="279" y="44.95" width="1" height="10.05" fill="#2ab142" opacity="1.00"/>
<rect x="287" y="43.10" width="1" height="11.90" fill="#2ab142" opacity="0.73"/>
<rect x="288" y="46.70" width="1" height="8.30" fill="#2ab142" opacity="1.00"/>
<rect x="293" y="44.95" width="1" height="10.05" fill="#0a4984" opacity="0.83"/>
<rect x="294" y="49.95" width="1" height="5.05" fill="#0a4984" opacity="0.59"/>
<rect x="297" y="46.70" width="1" height="8.30" fill="#0a4984" opacity="1.00"/>
<rect x="298" y="43.45" width="1" height="11.55" fill="#0a4984" opacity="1.00"/>
<rect x="299" y="43.45" width="1" height="11.55" fill="#0a4984" opacity="0.64"/>
<rect x="300" y="44.95" width="1" height="10.05" fill="#0a4984" opacity="1.00"/>
<rect x="304" y="45.95" width="1" height="9.05" fill="#0a4984" opacity="1.00"/>
<rect x="305" y="46.20" width="1" height="8.80" fill="#0a4984" opacity="0.84"/>
<rect x="306" y="49.95" width="1" height="5.05" fill="#0a4984" opacity="1.00"/>
<rect x="313" y="44.70" width="1" height="10.30" fill="#0a4984" opacity="1.00"/>
<rect x="314" y="44.95" width="1" height="10.05" fill="#0a4984" opacity="0.75"/>
<rect x="317" y="52.70" width="1" height="2.30" fill="#0a4984" opacity="0.58"/>
<rect x="318" y="51.70" width="1" height="3.30" fill="#0a4984" opacity="1.00"/>
<rect x="321" y="48.10" width="1" height="6.90" fill="#0a4984" opacity="0.70"/>
<rect x="325" y="44.30" width="1" height="10.70" fill="#0a4984" opacity="1.00"/>
<rect x="326" y="44.95" width="1" height="10.05" fill="#0a4984" opacity="0.77"/>
<rect x="327" y="46.20" width="1" height="8.80" fill="#0a4984" opacity="0.58"/>
<rect x="328" y="42.20" width="1" height="12.80" fill="#0a4984" opacity="0.57"/>
<rect x="329" y="41.70" width="1" height="13.30" fill="#0a4984" opacity="0.71"/>
<rect x="330" y="54.50" width="1" height="0.50" fill="#0a4984" opacity="1.00"/>
<rect x="331" y="54.50" width="1" height="0.50" fill="#0a4984" opacity="0.87"/>
<rect x="332" y="54.50" width="1" height="0.50" fill="#0a4984" opacity="1.00"/>
<rect x="333" y="54.50" width="1" height="0.50" fill="#0a4984" opacity="1.00"/>
<rect x="334" y="54.50" width="1" height="0.50" fill="#0a4984" opacity="1.00"/>
<rect x="335" y="54.50" width="1" height="0.50" fill="#0a4984" opacity="1.00"/>
<rect x="336" y="54.50" width="1" height="0.50" fill="#0a4984" opacity="1.00"/>
<rect x="337" y="54.50" width="1" height="0.50" fill="#0a4984" opacity="1.00"/>
<rect x="338" y="54.50" width="1" height="0.50" fill="#0a4984" opacity="1.00"/>
<rect x="339" y="54.50" width="1" height="0.50" fill="#0a4984" opacity="1.00"/>
<rect x="340" y="54.50" width="1" height="0.50" fill="#0a4984" opacity="1.00"/>
<rect x="341" y="54.50" width="1" height="0.50" fill="#0a4984" opacity="1.00"/>
<rect x="342" y="54.50" width="1" height="0.50" fill="#0a4984" opacity="0.65"/>
<rect x="343" y="51.70" width="1" height="3.30" fill="#0a4984" opacity="0.61"/>
<rect x="344" y="43.10" width="1" height="11.90" fill="#0a4984" opacity="1.00"/>
<rect x="345" y="44.30" width="1" height="10.70" fill="#0a4984" opacity="1.00"/>
<rect x="346" y="54.60" width="1" height="0.40" fill="#0a4984" opacity="1.00"/>
<rect x="348" y="54.60" width="1" height="0.40" fill="#0a4984" opacity="1.00"/>
<rect x="350" y="54.60" width="1" height="0.40" fill="#0a4984" opacity="0.74"/>
<rect x="352" y="54.60" width="1" height="0.40" fill="#0a4984" opacity="1.00"/>
<rect x="354" y="54.60" width="1" height="0.40" fill="#0a4984" opacity="0.88"/>
<rect x="356" y="54.60" width="1" height="0.40" fill="#0a4984" opacity="1.00"/>
<rect x="358" y="54.60" width="1" height="0.40" fill="#0a4984" opacity="0.70"/>
<rect x="366" y="52.70" width="1" height="2.30" fill="#0a4984" opacity="0.84"/>
<rect x="371" y="53.90" width="1" height="1.10" fill="#0a4984" opacity="1.00"/>
<rect x="372" y="53.90" width="1" height="1.10" fill="#c6052d" opacity="0.79"/>
<rect x="396" y="46.45" width="1" height="8.55" fill="#c6052d" opacity="0.67"/>
<rect x="407" y="52.70" width="1" height="2.30" fill="#c6052d" opacity="0.80"/>
<rect x="416" y="53.70" width="1" height="1.30" fill="#c6052d" opacity="0.69"/>
<rect x="445" y="51.70" width="1" height="3.30" fill="#c6052d" opacity="1.00"/>
<rect x="451" y="44.95" width="1" height="10.05" fill="#c6052d" opacity="1.00"/>
<rect x="483" y="46.20" width="1" height="8.80" fill="#c6052d" opacity="1.00"/>
<rect x="486" y="44.95" width="1" height="10.05" fill="#c6052d" opacity="1.00"/>
<rect x="489" y="44.30" width="1" height="10.70" fill="#c6052d" opacity="0.64"/>
<rect x="154" y="94.25" width="1" height="3.25" fill="#56196a" opacity="1.00"/>
<rect x="207" y="88.25" width="1" height="9.25" fill="#56196a" opacity="1.00"/>
<rect x="237" y="96.25" width="1" height="1.25" fill="#2ab142" opacity="0.85"/>
<rect x="239" y="86.75" width="1" height="10.75" fill="#2ab142" opacity="0.65"/>
<rect x="251" y="96.25" width="1" height="1.25" fill="#2ab142" opacity="1.00"/>
<rect x="267" y="95.25" width="1" height="2.25" fill="#2ab142" opacity="1.00"/>
<rect x="270" y="96.25" width="1" height="1.25" fill="#2ab142" opacity="0.61"/>
<rect x="279" y="86.75" width="1" height="10.75" fill="#2ab142" opacity="0.64"/>
<rect x="280" y="93.25" width="1" height="4.25" fill="#2ab142" opacity="0.89"/>
<rect x="293" y="88.25" width="1" height="9.25" fill="#0a4984" opacity="0.64"/>
<rect x="296" y="96.25" width="1" height="1.25" fill="#0a4984" opacity="0.66"/>
<rect x="300" y="96.25" width="1" height="1.25" fill="#0a4984" opacity="1.00"/>
<rect x="302" y="96.25" width="1" height="1.25" fill="#0a4984" opacity="1.00"/>
<rect x="303" y="96.25" width="1" height="1.25" fill="#0a4984" opacity="1.00"/>
<rect x="308" y="92.50" width="1" height="5.00" fill="#0a4984" opacity="0.73"/>
<rect x="316" y="86.65" width="1" height="10.85" fill="#0a4984" opacity="1.00"/>
<rect x="317" y="87.00" width="1" height="10.50" fill="#0a4984" opacity="0.55"/>
<rect x="332" y="96.00" width="1" height="1.50" fill="#0a4984" opacity="1.00"/>
<rect x="335" y="93.75" width="1" height="3.75" fill="#0a4984" opacity="1.00"/>
<rect x="340" y="86.65" width="1" height="10.85" fill="#0a4984" opacity="1.00"/>
<rect x="350" y="94.50" width="1" height="3.00" fill="#0a4984" opacity="1.00"/>
<rect x="355" y="87.85" width="1" height="9.65" fill="#0a4984" opacity="1.00"/>
<rect x="359" y="92.85" width="1" height="4.65" fill="#0a4984" opacity="1.00"/>
<rect x="364" y="96.25" width="1" height="1.25" fill="#0a4984" opacity="1.00"/>
<rect x="376" y="95.00" width="1" height="2.50" fill="#c6052d" opacity="0.74"/>
<rect x="377" y="95.75" width="1" height="1.75" fill="#c6052d" opacity="0.78"/>
<rect x="378" y="96.45" width="1" height="1.05" fill="#c6052d" opacity="0.86"/>
<rect x="383" y="85.00" width="1" height="12.50" fill="#c6052d" opacity="1.00"/>
<rect x="384" y="86.65" width="1" height="10.85" fill="#c6052d" opacity="1.00"/>
<rect x="385" y="90.75" width="1" height="6.75" fill="#c6052d" opacity="0.60"/>
<rect x="386" y="91.00" width="1" height="6.50" fill="#c6052d" opacity="0.78"/>
<rect x="387" y="96.25" width="1" height="1.25" fill="#c6052d" opacity="1.00"/>
<rect x="389" y="96.00" width="1" height="1.50" fill="#c6052d" opacity="0.86"/>
<rect x="390" y="85.35" width="1" height="12.15" fill="#c6052d" opacity="0.81"/>
<rect x="391" y="86.00" width="1" height="11.50" fill="#c6052d" opacity="0.60"/>
<rect x="392" y="87.25" width="1" height="10.25" fill="#c6052d" opacity="0.73"/>
<rect x="395" y="96.00" width="1" height="1.50" fill="#c6052d" opacity="0.83"/>
<rect x="398" y="82.65" width="1" height="14.85" fill="#c6052d" opacity="0.75"/>
<rect x="401" y="96.25" width="1" height="1.25" fill="#c6052d" opacity="0.79"/>
<rect x="405" y="84.75" width="1" height="12.75" fill="#c6052d" opacity="0.63"/>
<rect x="406" y="86.00" width="1" height="11.50" fill="#c6052d" opacity="1.00"/>
<rect x="408" y="87.25" width="1" height="10.25" fill="#c6052d" opacity="1.00"/>
<rect x="409" y="87.85" width="1" height="9.65" fill="#c6052d" opacity="1.00"/>
<rect x="410" y="87.85" width="1" height="9.65" fill="#c6052d" opacity="1.00"/>
<rect x="417" y="88.50" width="1" height="9.00" fill="#c6052d" opacity="0.75"/>
<rect x="423" y="95.35" width="1" height="2.15" fill="#c6052d" opacity="0.77"/>
<rect x="424" y="95.00" width="1" height="2.50" fill="#c6052d" opacity="0.72"/>
<rect x="427" y="92.50" width="1" height="5.00" fill="#c6052d" opacity="1.00"/>
<rect x="430" y="91.00" width="1" height="6.50" fill="#c6052d" opacity="0.81"/>
<rect x="431" y="90.75" width="1" height="6.75" fill="#c6052d" opacity="0.74"/>
<rect x="433" y="88.50" width="1" height="9.00" fill="#c6052d" opacity="0.57"/>
<rect x="434" y="85.75" width="1" height="11.75" fill="#c6052d" opacity="0.64"/>
<rect x="435" y="86.65" width="1" height="10.85" fill="#c6052d" opacity="1.00"/>
<rect x="436" y="94.25" width="1" height="3.25" fill="#c6052d" opacity="1.00"/>
<rect x="437" y="92.85" width="1" height="4.65" fill="#c6052d" opacity="0.62"/>
<rect x="438" y="89.25" width="1" height="8.25" fill="#c6052d" opacity="0.89"/>
<rect x="439" y="94.25" width="1" height="3.25" fill="#c6052d" opacity="0.68"/>
<rect x="441" y="90.35" width="1" height="7.15" fill="#c6052d" opacity="0.79"/>
<rect x="443" y="92.00" width="1" height="5.50" fill="#c6052d" opacity="0.77"/>
<rect x="444" y="92.85" width="1" height="4.65" fill="#c6052d" opacity="0.58"/>
<rect x="445" y="93.75" width="1" height="3.75" fill="#c6052d" opacity="1.00"/>
<rect x="447" y="88.50" width="1" height="9.00" fill="#c6052d" opacity="1.00"/>
<rect x="448" y="84.50" width="1" height="13.00" fill="#c6052d" opacity="0.66"/>
<rect x="449" y="83.50" width="1" height="14.00" fill="#c6052d" opacity="0.55"/>
<rect x="452" y="96.45" width="1" height="1.05" fill="#c6052d" opacity="1.00"/>
<rect x="455" y="86.00" width="1" height="11.50" fill="#c6052d" opacity="1.00"/>
<rect x="456" y="86.00" width="1" height="11.50" fill="#c6052d" opacity="0.79"/>
<rect x="457" y="87.25" width="1" height="10.25" fill="#c6052d" opacity="0.65"/>
<rect x="458" y="88.50" width="1" height="9.00" fill="#c6052d" opacity="1.00"/>
<rect x="459" y="87.85" width="1" height="9.65" fill="#c6052d" opacity="1.00"/>
<rect x="460" y="88.50" width="1" height="9.00" fill="#c6052d" opacity="0.59"/>
<rect x="464" y="87.25" width="1" height="10.25" fill="#c6052d" opacity="0.62"/>
<rect x="465" y="87.25" width="1" height="10.25" fill="#c6052d" opacity="0.88"/>
<rect x="466" y="87.85" width="1" height="9.65" fill="#c6052d" opacity="1.00"/>
<rect x="467" y="87.00" width="1" height="10.50" fill="#c6052d" opacity="1.00"/>
<rect x="468" y="89.75" width="1" height="7.75" fill="#c6052d" opacity="0.89"/>
<rect x="469" y="86.00" width="1" height="11.50" fill="#c6052d" opacity="1.00"/>
<rect x="470" y="87.25" width="1" height="10.25" fill="#c6052d" opacity="1.00"/>
<rect x="471" y="92.25" width="1" height="5.25" fill="#c6052d" opacity="1.00"/>
<rect x="472" y="94.25" width="1" height="3.25" fill="#c6052d" opacity="0.62"/>
<rect x="474" y="92.85" width="1" height="4.65" fill="#c6052d" opacity="0.60"/>
<rect x="475" y="89.25" width="1" height="8.25" fill="#c6052d" opacity="0.88"/>
<rect x="476" y="86.65" width="1" height="10.85" fill="#c6052d" opacity="1.00"/>
<rect x="477" y="88.50" width="1" height="9.00" fill="#c6052d" opacity="0.73"/>
<rect x="478" y="87.85" width="1" height="9.65" fill="#c6052d" opacity="0.80"/>
<rect x="479" y="89.25" width="1" height="8.25" fill="#c6052d" opacity="1.00"/>
<rect x="480" y="88.50" width="1" height="9.00" fill="#c6052d" opacity="0.72"/>
<rect x="481" y="94.25" width="1" height="3.25" fill="#c6052d" opacity="1.00"/>
<rect x="482" y="87.00" width="1" height="10.50" fill="#c6052d" opacity="1.00"/>
<rect x="483" y="87.25" width="1" height="10.25" fill="#c6052d" opacity="0.71"/>
<rect x="484" y="93.50" width="1" height="4.00" fill="#c6052d" opacity="1.00"/>
<rect x="485" y="87.25" width="1" height="10.25" fill="#c6052d" opacity="1.00"/>
<rect x="486" y="89.75" width="1" height="7.75" fill="#c6052d" opacity="1.00"/>
<rect x="487" y="94.75" width="1" height="2.75" fill="#c6052d" opacity="1.00"/>
<rect x="488" y="88.50" width="1" height="9.00" fill="#c6052d" opacity="0.55"/>
<rect x="489" y="91.65" width="1" height="5.85" fill="#c6052d" opacity="0.84"/>
<rect x="37" y="125.50" width="1" height="14.50" fill="#56196a" opacity="1.00"/>
<rect x="38" y="127.38" width="1" height="12.62" fill="#56196a" opacity="0.80"/>
<rect x="39" y="130.50" width="1" height="9.50" fill="#56196a" opacity="0.65"/>
<rect x="40" y="128.62" width="1" height="11.38" fill="#56196a" opacity="1.00"/>
<rect x="41" y="127.38" width="1" height="12.62" fill="#56196a" opacity="1.00"/>
<rect x="42" y="131.75" width="1" height="8.25" fill="#56196a" opacity="0.76"/>
<rect x="43" y="136.75" width="1" height="3.25" fill="#56196a" opacity="1.00"/>
<rect x="44" y="126.75" width="1" height="13.25" fill="#56196a" opacity="1.00"/>
<rect x="45" y="128.00" width="1" height="12.00" fill="#56196a" opacity="1.00"/>
<rect x="46" y="126.12" width="1" height="13.88" fill="#56196a" opacity="1.00"/>
<rect x="47" y="125.50" width="1" height="14.50" fill="#56196a" opacity="1.00"/>
<rect x="48" y="128.62" width="1" height="11.38" fill="#56196a" opacity="0.65"/>
<rect x="49" y="128.00" width="1" height="12.00" fill="#56196a" opacity="0.64"/>
<rect x="50" y="129.25" width="1" height="10.75" fill="#56196a" opacity="1.00"/>
<rect x="51" y="129.25" width="1" height="10.75" fill="#56196a" opacity="1.00"/>
<rect x="52" y="128.00" width="1" height="12.00" fill="#56196a" opacity="1.00"/>
<rect x="53" y="129.25" width="1" height="10.75" fill="#56196a" opacity="1.00"/>
<rect x="54" y="134.25" width="1" height="5.75" fill="#56196a" opacity="0.86"/>
<rect x="55" y="128.62" width="1" height="11.38" fill="#56196a" opacity="0.77"/>
<rect x="56" y="131.75" width="1" height="8.25" fill="#56196a" opacity="0.88"/>
<rect x="57" y="130.50" width="1" height="9.50" fill="#56196a" opacity="1.00"/>
<rect x="58" y="126.75" width="1" height="13.25" fill="#56196a" opacity="0.57"/>
<rect x="59" y="128.00" width="1" height="12.00" fill="#56196a" opacity="0.71"/>
<rect x="60" y="130.50" width="1" height="9.50" fill="#56196a" opacity="0.78"/>
<rect x="61" y="129.25" width="1" height="10.75" fill="#56196a" opacity="1.00"/>
<rect x="62" y="128.62" width="1" height="11.38" fill="#56196a" opacity="1.00"/>
<rect x="63" y="129.88" width="1" height="10.12" fill="#56196a" opacity="0.59"/>
<rect x="64" y="136.12" width="1" height="3.88" fill="#56196a" opacity="1.00"/>
<rect x="65" y="133.00" width="1" height="7.00" fill="#56196a" opacity="1.00"/>
<rect x="66" y="128.62" width="1" height="11.38" fill="#56196a" opacity="1.00"/>
<rect x="67" y="131.75" width="1" height="8.25" fill="#56196a" opacity="0.89"/>
<rect x="68" y="127.75" width="1" height="12.25" fill="#56196a" opacity="1.00"/>
<rect x="69" y="136.75" width="1" height="3.25" fill="#56196a" opacity="0.66"/>
<rect x="70" y="127.38" width="1" height="12.62" fill="#56196a" opacity="0.69"/>
<rect x="71" y="130.50" width="1" height="9.50" fill="#56196a" opacity="1.00"/>
<rect x="72" y="129.25" width="1" height="10.75" fill="#56196a" opacity="1.00"/>
<rect x="73" y="133.00" width="1" height="7.00" fill="#56196a" opacity="1.00"/>
<rect x="74" y="126.75" width="1" height="13.25" fill="#56196a" opacity="0.72"/>
<rect x="75" y="134.88" width="1" height="5.12" fill="#56196a" opacity="1.00"/>
<rect x="76" y="136.75" width="1" height="3.25" fill="#56196a" opacity="0.90"/>
<rect x="77" y="133.00" width="1" height="7.00" fill="#56196a" opacity="1.00"/>
<rect x="78" y="130.50" width="1" height="9.50" fill="#56196a" opacity="1.00"/>
<rect x="79" y="136.75" width="1" height="3.25" fill="#56196a" opacity="1.00"/>
<rect x="80" y="131.75" width="1" height="8.25" fill="#56196a" opacity="1.00"/>
<rect x="81" y="128.62" width="1" height="11.38" fill="#56196a" opacity="1.00"/>
<rect x="82" y="126.12" width="1" height="13.88" fill="#56196a" opacity="1.00"/>
<rect x="83" y="129.25" width="1" height="10.75" fill="#56196a" opacity="1.00"/>
<rect x="84" y="131.12" width="1" height="8.88" fill="#56196a" opacity="1.00"/>
<rect x="85" y="126.12" width="1" height="13.88" fill="#56196a" opacity="1.00"/>
<rect x="86" y="129.25" width="1" height="10.75" fill="#56196a" opacity="0.81"/>
<rect x="87" y="132.38" width="1" height="7.62" fill="#56196a" opacity="1.00"/>
<rect x="88" y="130.50" width="1" height="9.50" fill="#56196a" opacity="1.00"/>
<rect x="89" y="134.88" width="1" height="5.12" fill="#56196a" opacity="1.00"/>
<rect x="90" y="127.38" width="1" height="12.62" fill="#56196a" opacity="1.00"/>
<rect x="91" y="128.62" width="1" height="11.38" fill="#56196a" opacity="1.00"/>
<rect x="92" y="129.25" width="1" height="10.75" fill="#56196a" opacity="1.00"/>
<rect x="93" y="133.00" width="1" height="7.00" fill="#56196a" opacity="1.00"/>
<rect x="94" y="128.00" width="1" height="12.00" fill="#56196a" opacity="0.59"/>
<rect x="95" y="128.62" width="1" height="11.38" fill="#56196a" opacity="1.00"/>
<rect x="96" y="129.88" width="1" height="10.12" fill="#56196a" opacity="0.85"/>
<rect x="97" y="133.62" width="1" height="6.38" fill="#56196a" opacity="1.00"/>
<rect x="98" y="128.62" width="1" height="11.38" fill="#56196a" opacity="1.00"/>
<rect x="99" y="130.50" width="1" height="9.50" fill="#56196a" opacity="1.00"/>
<rect x="100" y="138.00" width="1" height="2.00" fill="#56196a" opacity="1.00"/>
<rect x="101" y="133.00" width="1" height="7.00" fill="#56196a" opacity="1.00"/>
<rect x="102" y="135.50" width="1" height="4.50" fill="#56196a" opacity="0.85"/>
<rect x="103" y="137.38" width="1" height="2.62" fill="#56196a" opacity="0.56"/>
<rect x="104" y="128.00" width="1" height="12.00" fill="#56196a" opacity="1.00"/>
<rect x="105" y="127.75" width="1" height="12.25" fill="#56196a" opacity="0.86"/>
<rect x="106" y="126.50" width="1" height="13.50" fill="#56196a" opacity="1.00"/>
<rect x="107" y="127.38" width="1" height="12.62" fill="#56196a" opacity="1.00"/>
<rect x="108" y="128.62" width="1" height="11.38" fill="#56196a" opacity="1.00"/>
<rect x="109" y="129.25" width="1" height="10.75" fill="#56196a" opacity="1.00"/>
<rect x="110" y="128.00" width="1" height="12.00" fill="#56196a" opacity="0.84"/>
<rect x="111" y="128.62" width="1" height="11.38" fill="#56196a" opacity="0.89"/>
<rect x="112" y="127.38" width="1" height="12.62" fill="#56196a" opacity="1.00"/>
<rect x="113" y="128.00" width="1" height="12.00" fill="#56196a" opacity="1.00"/>
<rect x="114" y="129.88" width="1" height="10.12" fill="#56196a" opacity="1.00"/>
<rect x="115" y="129.25" width="1" height="10.75" fill="#56196a" opacity="0.79"/>
<rect x="116" y="134.88" width="1" height="5.12" fill="#56196a" opacity="0.80"/>
<rect x="117" y="128.62" width="1" height="11.38" fill="#56196a" opacity="0.82"/>
<rect x="118" y="128.00" width="1" height="12.00" fill="#56196a" opacity="1.00"/>
<rect x="119" y="127.75" width="1" height="12.25" fill="#56196a" opacity="1.00"/>
<rect x="120" y="128.62" width="1" height="11.38" fill="#56196a" opacity="1.00"/>
<rect x="121" y="127.38" width="1" height="12.62" fill="#56196a" opacity="0.63"/>
<rect x="122" y="128.00" width="1" height="12.00" fill="#56196a" opacity="0.78"/>
<rect x="123" y="128.62" width="1" height="11.38" fill="#56196a" opacity="1.00"/>
<rect x="124" y="127.38" width="1" height="12.62" fill="#56196a" opacity="1.00"/>
<rect x="125" y="126.75" width="1" height="13.25" fill="#56196a" opacity="1.00"/>
<rect x="126" y="126.50" width="1" height="13.50" fill="#56196a" opacity="0.79"/>
<rect x="127" y="127.38" width="1" height="12.62" fill="#56196a" opacity="1.00"/>
<rect x="128" y="126.75" width="1" height="13.25" fill="#56196a" opacity="1.00"/>
<rect x="129" y="125.50" width="1" height="14.50" fill="#56196a" opacity="1.00"/>
<rect x="130" y="126.75" width="1" height="13.25" fill="#56196a" opacity="1.00"/>
<rect x="131" y="128.62" width="1" height="11.38" fill="#56196a" opacity="1.00"/>
<rect x="132" y="129.25" width="1" height="10.75" fill="#56196a" opacity="1.00"/>
<rect x="133" y="129.88" width="1" height="10.12" fill="#56196a" opacity="0.55"/>
<rect x="134" y="128.00" width="1" height="12.00" fill="#56196a" opacity="1.00"/>
<rect x="135" y="126.75" width="1" height="13.25" fill="#56196a" opacity="1.00"/>
<rect x="136" y="127.38" width="1" height="12.62" fill="#56196a" opacity="0.78"/>
<rect x="137" y="126.50" width="1" height="13.50" fill="#56196a" opacity="0.72"/>
<rect x="138" y="127.38" width="1" height="12.62" fill="#56196a" opacity="1.00"/>
<rect x="139" y="128.00" width="1" height="12.00" fill="#56196a" opacity="1.00"/>
<rect x="140" y="129.25" width="1" height="10.75" fill="#56196a" opacity="0.80"/>
<rect x="141" y="128.00" width="1" height="12.00" fill="#56196a" opacity="1.00"/>
<rect x="142" y="129.25" width="1" height="10.75" fill="#56196a" opacity="1.00"/>
<rect x="143" y="130.50" width="1" height="9.50" fill="#56196a" opacity="1.00"/>
<rect x="144" y="131.75" width="1" height="8.25" fill="#56196a" opacity="0.70"/>
<rect x="145" y="127.75" width="1" height="12.25" fill="#56196a" opacity="1.00"/>
<rect x="146" y="126.12" width="1" height="13.88" fill="#56196a" opacity="0.87"/>
<rect x="147" y="126.75" width="1" height="13.25" fill="#56196a" opacity="1.00"/>
<rect x="148" y="126.12" width="1" height="13.88" fill="#56196a" opacity="1.00"/>
<rect x="149" y="131.12" width="1" height="8.88" fill="#56196a" opacity="1.00"/>
<rect x="150" y="138.00" width="1" height="2.00" fill="#56196a" opacity="1.00"/>
<rect x="151" y="128.62" width="1" height="11.38" fill="#56196a" opacity="0.62"/>
<rect x="152" y="129.25" width="1" height="10.75" fill="#56196a" opacity="0.81"/>
<rect x="153" y="137.38" width="1" height="2.62" fill="#56196a" opacity="1.00"/>
<rect x="154" y="128.00" width="1" height="12.00" fill="#56196a" opacity="1.00"/>
<rect x="155" y="127.38" width="1" height="12.62" fill="#56196a" opacity="0.66"/>
<rect x="156" y="129.25" width="1" height="10.75" fill="#56196a" opacity="0.63"/>
<rect x="157" y="128.00" width="1" height="12.00" fill="#56196a" opacity="1.00"/>
<rect x="158" y="128.62" width="1" height="11.38" fill="#56196a" opacity="0.65"/>
<rect x="159" y="130.50" width="1" height="9.50" fill="#56196a" opacity="0.72"/>
<rect x="160" y="129.25" width="1" height="10.75" fill="#56196a" opacity="1.00"/>
<rect x="161" y="131.75" width="1" height="8.25" fill="#56196a" opacity="1.00"/>
<rect x="162" y="138.00" width="1" height="2.00" fill="#56196a" opacity="1.00"/>
<rect x="163" y="130.50" width="1" height="9.50" fill="#56196a" opacity="0.88"/>
<rect x="164" y="131.75" width="1" height="8.25" fill="#56196a" opacity="1.00"/>
<rect x="165" y="131.75" width="1" height="8.25" fill="#56196a" opacity="1.00"/>
<rect x="166" y="129.25" width="1" height="10.75" fill="#56196a" opacity="1.00"/>
<rect x="167" y="128.62" width="1" height="11.38" fill="#56196a" opacity="0.60"/>
<rect x="168" y="128.00" width="1" height="12.00" fill="#56196a" opacity="1.00"/>
<rect x="169" y="124.88" width="1" height="15.12" fill="#56196a" opacity="1.00"/>
<rect x="170" y="129.25" width="1" height="10.75" fill="#56196a" opacity="1.00"/>
<rect x="171" y="138.00" width="1" height="2.00" fill="#56196a" opacity="0.86"/>
<rect x="172" y="129.88" width="1" height="10.12" fill="#56196a" opacity="0.90"/>
<rect x="173" y="129.25" width="1" height="10.75" fill="#56196a" opacity="0.67"/>
<rect x="174" y="130.50" width="1" height="9.50" fill="#56196a" opacity="1.00"/>
<rect x="175" y="128.00" width="1" height="12.00" fill="#56196a" opacity="0.81"/>
<rect x="176" y="130.50" width="1" height="9.50" fill="#56196a" opacity="1.00"/>
<rect x="177" y="137.38" width="1" height="2.62" fill="#56196a" opacity="0.68"/>
<rect x="178" y="133.00" width="1" height="7.00" fill="#56196a" opacity="1.00"/>
<rect x="179" y="129.25" width="1" height="10.75" fill="#56196a" opacity="1.00"/>
<rect x="180" y="126.75" width="1" height="13.25" fill="#56196a" opacity="1.00"/>
<rect x="181" y="127.38" width="1" height="12.62" fill="#56196a" opacity="1.00"/>
<rect x="182" y="128.62" width="1" height="11.38" fill="#56196a" opacity="1.00"/>
<rect x="183" y="128.00" width="1" height="12.00" fill="#56196a" opacity="1.00"/>
<rect x="184" y="128.00" width="1" height="12.00" fill="#56196a" opacity="0.59"/>
<rect x="185" y="129.25" width="1" height="10.75" fill="#56196a" opacity="0.62"/>
<rect x="186" y="128.62" width="1" height="11.38" fill="#56196a" opacity="1.00"/>
<rect x="187" y="128.62" width="1" height="11.38" fill="#56196a" opacity="0.84"/>
<rect x="188" y="131.75" width="1" height="8.25" fill="#56196a" opacity="1.00"/>
<rect x="189" y="129.25" width="1" height="10.75" fill="#56196a" opacity="1.00"/>
<rect x="190" y="130.50" width="1" height="9.50" fill="#56196a" opacity="1.00"/>
<rect x="191" y="131.75" width="1" height="8.25" fill="#56196a" opacity="1.00"/>
<rect x="192" y="129.25" width="1" height="10.75" fill="#56196a" opacity="0.62"/>
<rect x="193" y="128.00" width="1" height="12.00" fill="#56196a" opacity="1.00"/>
<rect x="194" y="131.12" width="1" height="8.88" fill="#56196a" opacity="0.56"/>
<rect x="195" y="129.25" width="1" height="10.75" fill="#56196a" opacity="1.00"/>
<rect x="196" y="128.00" width="1" height="12.00" fill="#56196a" opacity="0.82"/>
<rect x="197" y="128.00" width="1" height="12.00" fill="#56196a" opacity="1.00"/>
<rect x="198" y="128.62" width="1" height="11.38" fill="#56196a" opacity="1.00"/>
<rect x="199" y="128.62" width="1" height="11.38" fill="#56196a" opacity="1.00"/>
<rect x="200" y="128.62" width="1" height="11.38" fill="#56196a" opacity="0.64"/>
<rect x="201" y="128.00" width="1" height="12.00" fill="#56196a" opacity="0.86"/>
<rect x="202" y="128.62" width="1" height="11.38" fill="#56196a" opacity="1.00"/>
<rect x="203" y="128.62" width="1" height="11.38" fill="#56196a" opacity="1.00"/>
<rect x="204" y="130.50" width="1" height="9.50" fill="#56196a" opacity="0.77"/>
<rect x="205" y="129.88" width="1" height="10.12" fill="#56196a" opacity="1.00"/>
<rect x="206" y="131.12" width="1" height="8.88" fill="#56196a" opacity="0.66"/>
<rect x="207" y="138.00" width="1" height="2.00" fill="#56196a" opacity="1.00"/>
<rect x="208" y="129.88" width="1" height="10.12" fill="#56196a" opacity="1.00"/>
<rect x="209" y="130.50" width="1" height="9.50" fill="#56196a" opacity="0.87"/>
<rect x="210" y="130.25" width="1" height="9.75" fill="#56196a" opacity="0.88"/>
<rect x="211" y="129.88" width="1" height="10.12" fill="#56196a" opacity="1.00"/>
<rect x="212" y="138.00" width="1" height="2.00" fill="#56196a" opacity="1.00"/>
<rect x="213" y="126.12" width="1" height="13.88" fill="#56196a" opacity="1.00"/>
<rect x="214" y="129.25" width="1" height="10.75" fill="#56196a" opacity="0.88"/>
<rect x="215" y="131.75" width="1" height="8.25" fill="#2ab142" opacity="1.00"/>
<rect x="216" y="130.50" width="1" height="9.50" fill="#2ab142" opacity="1.00"/>
<rect x="217" y="130.50" width="1" height="9.50" fill="#2ab142" opacity="1.00"/>
<rect x="218" y="128.62" width="1" height="11.38" fill="#2ab142" opacity="1.00"/>
<rect x="219" y="129.88" width="1" height="10.12" fill="#2ab142" opacity="0.61"/>
<rect x="220" y="128.62" width="1" height="11.38" fill="#2ab142" opacity="0.81"/>
<rect x="221" y="133.00" width="1" height="7.00" fill="#2ab142" opacity="0.82"/>
<rect x="222" y="136.75" width="1" height="3.25" fill="#2ab142" opacity="0.66"/>
<rect x="223" y="130.50" width="1" height="9.50" fill="#2ab142" opacity="1.00"/>
<rect x="224" y="131.12" width="1" height="8.88" fill="#2ab142" opacity="1.00"/>
<rect x="225" y="130.50" width="1" height="9.50" fill="#2ab142" opacity="0.58"/>
<rect x="226" y="131.75" width="1" height="8.25" fill="#2ab142" opacity="1.00"/>
<rect x="227" y="133.62" width="1" height="6.38" fill="#2ab142" opacity="0.64"/>
<rect x="228" y="138.00" width="1" height="2.00" fill="#2ab142" opacity="1.00"/>
<rect x="229" y="131.75" width="1" height="8.25" fill="#2ab142" opacity="1.00"/>
<rect x="230" y="133.62" width="1" height="6.38" fill="#2ab142" opacity="1.00"/>
<rect x="231" y="135.50" width="1" height="4.50" fill="#2ab142" opacity="1.00"/>
<rect x="236" y="128.00" width="1" height="12.00" fill="#2ab142" opacity="0.86"/>
<rect x="237" y="129.25" width="1" height="10.75" fill="#2ab142" opacity="0.64"/>
<rect x="238" y="130.50" width="1" height="9.50" fill="#2ab142" opacity="1.00"/>
<rect x="239" y="129.88" width="1" height="10.12" fill="#2ab142" opacity="1.00"/>
<rect x="240" y="131.12" width="1" height="8.88" fill="#2ab142" opacity="0.80"/>
<rect x="241" y="137.38" width="1" height="2.62" fill="#2ab142" opacity="1.00"/>
<rect x="242" y="129.25" width="1" height="10.75" fill="#2ab142" opacity="1.00"/>
<rect x="243" y="128.62" width="1" height="11.38" fill="#2ab142" opacity="1.00"/>
<rect x="244" y="128.00" width="1" height="12.00" fill="#2ab142" opacity="0.79"/>
<rect x="245" y="130.50" width="1" height="9.50" fill="#2ab142" opacity="0.85"/>
<rect x="246" y="127.38" width="1" height="12.62" fill="#2ab142" opacity="0.59"/>
<rect x="247" y="126.12" width="1" height="13.88" fill="#2ab142" opacity="0.65"/>
<rect x="248" y="128.00" width="1" height="12.00" fill="#2ab142" opacity="1.00"/>
<rect x="249" y="126.75" width="1" height="13.25" fill="#2ab142" opacity="1.00"/>
<rect x="250" y="127.38" width="1" height="12.62" fill="#2ab142" opacity="0.62"/>
<rect x="251" y="128.62" width="1" height="11.38" fill="#2ab142" opacity="1.00"/>
<rect x="252" y="128.00" width="1" height="12.00" fill="#2ab142" opacity="1.00"/>
<rect x="253" y="130.50" width="1" height="9.50" fill="#2ab142" opacity="1.00"/>
<rect x="254" y="129.25" width="1" height="10.75" fill="#2ab142" opacity="0.75"/>
<rect x="255" y="128.00" width="1" height="12.00" fill="#2ab142" opacity="1.00"/>
<rect x="258" y="134.88" width="1" height="5.12" fill="#2ab142" opacity="1.00"/>
<rect x="259" y="129.88" width="1" height="10.12" fill="#2ab142" opacity="0.73"/>
<rect x="260" y="126.75" width="1" height="13.25" fill="#2ab142" opacity="1.00"/>
<rect x="261" y="127.38" width="1" height="12.62" fill="#2ab142" opacity="0.78"/>
<rect x="262" y="128.00" width="1" height="12.00" fill="#2ab142" opacity="0.59"/>
<rect x="263" y="129.25" width="1" height="10.75" fill="#2ab142" opacity="1.00"/>
<rect x="264" y="126.75" width="1" height="13.25" fill="#2ab142" opacity="0.84"/>
<rect x="265" y="128.62" width="1" height="11.38" fill="#2ab142" opacity="0.56"/>
<rect x="266" y="127.38" width="1" height="12.62" fill="#2ab142" opacity="1.00"/>
<rect x="267" y="129.25" width="1" height="10.75" fill="#2ab142" opacity="1.00"/>
<rect x="268" y="128.62" width="1" height="11.38" fill="#2ab142" opacity="1.00"/>
<rect x="269" y="128.00" width="1" height="12.00" fill="#2ab142" opacity="0.75"/>
<rect x="270" y="128.62" width="1" height="11.38" fill="#2ab142" opacity="0.68"/>
<rect x="271" y="128.00" width="1" height="12.00" fill="#2ab142" opacity="0.71"/>
<rect x="272" y="131.75" width="1" height="8.25" fill="#2ab142" opacity="1.00"/>
<rect x="273" y="137.38" width="1" height="2.62" fill="#2ab142" opacity="0.88"/>
<rect x="274" y="126.12" width="1" height="13.88" fill="#2ab142" opacity="1.00"/>
<rect x="275" y="125.50" width="1" height="14.50" fill="#2ab142" opacity="1.00"/>
<rect x="276" y="126.75" width="1" height="13.25" fill="#2ab142" opacity="0.63"/>
<rect x="277" y="127.38" width="1" height="12.62" fill="#2ab142" opacity="1.00"/>
<rect x="278" y="133.00" width="1" height="7.00" fill="#2ab142" opacity="1.00"/>
<rect x="279" y="130.50" width="1" height="9.50" fill="#2ab142" opacity="1.00"/>
<rect x="280" y="131.75" width="1" height="8.25" fill="#2ab142" opacity="1.00"/>
<rect x="281" y="134.25" width="1" height="5.75" fill="#2ab142" opacity="0.78"/>
<rect x="282" y="138.00" width="1" height="2.00" fill="#2ab142" opacity="1.00"/>
<rect x="283" y="130.50" width="1" height="9.50" fill="#2ab142" opacity="1.00"/>
<rect x="284" y="128.62" width="1" height="11.38" fill="#2ab142" opacity="1.00"/>
<rect x="285" y="129.25" width="1" height="10.75" fill="#2ab142" opacity="0.61"/>
<rect x="286" y="131.75" width="1" height="8.25" fill="#2ab142" opacity="1.00"/>
<rect x="287" y="127.38" width="1" height="12.62" fill="#2ab142" opacity="1.00"/>
<rect x="288" y="128.00" width="1" height="12.00" fill="#2ab142" opacity="0.74"/>
<rect x="289" y="129.25" width="1" height="10.75" fill="#2ab142" opacity="1.00"/>
<rect x="290" y="138.00" width="1" height="2.00" fill="#2ab142" opacity="1.00"/>
<rect x="293" y="128.62" width="1" height="11.38" fill="#0a4984" opacity="1.00"/>
<rect x="294" y="131.75" width="1" height="8.25" fill="#0a4984" opacity="1.00"/>
<rect x="295" y="131.12" width="1" height="8.88" fill="#0a4984" opacity="0.58"/>
<rect x="296" y="133.00" width="1" height="7.00" fill="#0a4984" opacity="1.00"/>
<rect x="297" y="129.25" width="1" height="10.75" fill="#0a4984" opacity="0.69"/>
<rect x="298" y="129.88" width="1" height="10.12" fill="#0a4984" opacity="1.00"/>
<rect x="299" y="131.75" width="1" height="8.25" fill="#0a4984" opacity="1.00"/>
<rect x="300" y="128.62" width="1" height="11.38" fill="#0a4984" opacity="0.66"/>
<rect x="301" y="137.38" width="1" height="2.62" fill="#0a4984" opacity="0.68"/>
<rect x="303" y="131.12" width="1" height="8.88" fill="#0a4984" opacity="1.00"/>
<rect x="304" y="131.75" width="1" height="8.25" fill="#0a4984" opacity="0.90"/>
<rect x="305" y="125.50" width="1" height="14.50" fill="#0a4984" opacity="1.00"/>
<rect x="306" y="126.75" width="1" height="13.25" fill="#0a4984" opacity="1.00"/>
<rect x="307" y="129.25" width="1" height="10.75" fill="#0a4984" opacity="0.62"/>
<rect x="308" y="130.50" width="1" height="9.50" fill="#0a4984" opacity="1.00"/>
<rect x="309" y="129.88" width="1" height="10.12" fill="#0a4984" opacity="0.70"/>
<rect x="310" y="128.00" width="1" height="12.00" fill="#0a4984" opacity="0.69"/>
<rect x="311" y="128.62" width="1" height="11.38" fill="#0a4984" opacity="0.71"/>
<rect x="312" y="136.75" width="1" height="3.25" fill="#0a4984" opacity="1.00"/>
<rect x="313" y="133.00" width="1" height="7.00" fill="#0a4984" opacity="1.00"/>
<rect x="314" y="130.50" width="1" height="9.50" fill="#0a4984" opacity="0.77"/>
<rect x="317" y="134.25" width="1" height="5.75" fill="#0a4984" opacity="0.58"/>
<rect x="318" y="130.50" width="1" height="9.50" fill="#0a4984" opacity="0.68"/>
<rect x="319" y="131.75" width="1" height="8.25" fill="#0a4984" opacity="0.60"/>
<rect x="320" y="137.38" width="1" height="2.62" fill="#0a4984" opacity="1.00"/>
<rect x="321" y="131.12" width="1" height="8.88" fill="#0a4984" opacity="0.87"/>
<rect x="322" y="132.38" width="1" height="7.62" fill="#0a4984" opacity="1.00"/>
<rect x="323" y="133.62" width="1" height="6.38" fill="#0a4984" opacity="1.00"/>
<rect x="324" y="134.88" width="1" height="5.12" fill="#0a4984" opacity="0.89"/>
<rect x="325" y="134.88" width="1" height="5.12" fill="#0a4984" opacity="1.00"/>
<rect x="328" y="127.00" width="1" height="13.00" fill="#0a4984" opacity="1.00"/>
<rect x="329" y="127.38" width="1" height="12.62" fill="#0a4984" opacity="0.89"/>
<rect x="330" y="138.00" width="1" height="2.00" fill="#0a4984" opacity="1.00"/>
<rect x="331" y="136.75" width="1" height="3.25" fill="#0a4984" opacity="1.00"/>
<rect x="332" y="128.00" width="1" height="12.00" fill="#0a4984" opacity="0.69"/>
<rect x="333" y="126.12" width="1" height="13.88" fill="#0a4984" opacity="0.77"/>
<rect x="334" y="136.75" width="1" height="3.25" fill="#0a4984" opacity="0.61"/>
<rect x="335" y="127.75" width="1" height="12.25" fill="#0a4984" opacity="0.63"/>
<rect x="336" y="128.00" width="1" height="12.00" fill="#0a4984" opacity="1.00"/>
<rect x="337" y="128.62" width="1" height="11.38" fill="#0a4984" opacity="0.84"/>
<rect x="338" y="133.00" width="1" height="7.00" fill="#0a4984" opacity="1.00"/>
<rect x="339" y="132.38" width="1" height="7.62" fill="#0a4984" opacity="1.00"/>
<rect x="342" y="138.00" width="1" height="2.00" fill="#0a4984" opacity="1.00"/>
<rect x="343" y="137.38" width="1" height="2.62" fill="#0a4984" opacity="1.00"/>
<rect x="344" y="126.12" width="1" height="13.88" fill="#0a4984" opacity="1.00"/>
<rect x="345" y="126.12" width="1" height="13.88" fill="#0a4984" opacity="1.00"/>
<rect x="346" y="138.70" width="1" height="1.30" fill="#0a4984" opacity="1.00"/>
<rect x="347" y="138.70" width="1" height="1.30" fill="#0a4984" opacity="0.86"/>
<rect x="348" y="138.70" width="1" height="1.30" fill="#0a4984" opacity="1.00"/>
<rect x="349" y="138.70" width="1" height="1.30" fill="#0a4984" opacity="1.00"/>
<rect x="350" y="138.70" width="1" height="1.30" fill="#0a4984" opacity="0.56"/>
<rect x="351" y="138.70" width="1" height="1.30" fill="#0a4984" opacity="0.59"/>
<rect x="352" y="138.70" width="1" height="1.30" fill="#0a4984" opacity="1.00"/>
<rect x="353" y="138.70" width="1" height="1.30" fill="#0a4984" opacity="0.77"/>
<rect x="355" y="133.62" width="1" height="6.38" fill="#0a4984" opacity="1.00"/>
<rect x="356" y="126.75" width="1" height="13.25" fill="#0a4984" opacity="1.00"/>
<rect x="357" y="126.12" width="1" height="13.88" fill="#0a4984" opacity="1.00"/>
<rect x="358" y="128.62" width="1" height="11.38" fill="#0a4984" opacity="1.00"/>
<rect x="364" y="129.88" width="1" height="10.12" fill="#0a4984" opacity="0.71"/>
<rect x="369" y="138.62" width="1" height="1.38" fill="#0a4984" opacity="1.00"/>
<rect x="370" y="138.62" width="1" height="1.38" fill="#0a4984" opacity="1.00"/>
<rect x="371" y="138.62" width="1" height="1.38" fill="#0a4984" opacity="0.72"/>
<rect x="374" y="130.50" width="1" height="9.50" fill="#c6052d" opacity="1.00"/>
<rect x="375" y="131.75" width="1" height="8.25" fill="#c6052d" opacity="0.82"/>
<rect x="376" y="134.88" width="1" height="5.12" fill="#c6052d" opacity="1.00"/>
<rect x="377" y="131.75" width="1" height="8.25" fill="#c6052d" opacity="1.00"/>
<rect x="378" y="132.38" width="1" height="7.62" fill="#c6052d" opacity="1.00"/>
<rect x="381" y="138.62" width="1" height="1.38" fill="#c6052d" opacity="1.00"/>
<rect x="392" y="136.75" width="1" height="3.25" fill="#c6052d" opacity="1.00"/>
<rect x="401" y="136.12" width="1" height="3.88" fill="#c6052d" opacity="1.00"/>
<rect x="402" y="133.00" width="1" height="7.00" fill="#c6052d" opacity="1.00"/>
<rect x="403" y="129.88" width="1" height="10.12" fill="#c6052d" opacity="1.00"/>
<rect x="404" y="130.50" width="1" height="9.50" fill="#c6052d" opacity="0.56"/>
<rect x="407" y="128.00" width="1" height="12.00" fill="#c6052d" opacity="0.58"/>
<rect x="408" y="124.88" width="1" height="15.12" fill="#c6052d" opacity="0.82"/>
<rect x="409" y="131.75" width="1" height="8.25" fill="#c6052d" opacity="0.57"/>
<rect x="411" y="130.50" width="1" height="9.50" fill="#c6052d" opacity="0.68"/>
<rect x="422" y="138.62" width="1" height="1.38" fill="#c6052d" opacity="0.60"/>
<rect x="423" y="138.62" width="1" height="1.38" fill="#c6052d" opacity="0.90"/>
<rect x="428" y="138.00" width="1" height="2.00" fill="#c6052d" opacity="0.84"/>
<rect x="429" y="137.38" width="1" height="2.62" fill="#c6052d" opacity="1.00"/>
<rect x="430" y="136.12" width="1" height="3.88" fill="#c6052d" opacity="0.72"/>
<rect x="431" y="138.00" width="1" height="2.00" fill="#c6052d" opacity="0.87"/>
<rect x="436" y="131.75" width="1" height="8.25" fill="#c6052d" opacity="1.00"/>
<rect x="437" y="134.88" width="1" height="5.12" fill="#c6052d" opacity="0.88"/>
<rect x="443" y="138.00" width="1" height="2.00" fill="#c6052d" opacity="1.00"/>
<rect x="444" y="136.75" width="1" height="3.25" fill="#c6052d" opacity="1.00"/>
<rect x="445" y="136.12" width="1" height="3.88" fill="#c6052d" opacity="0.61"/>
<rect x="446" y="133.62" width="1" height="6.38" fill="#c6052d" opacity="0.65"/>
<rect x="447" y="131.12" width="1" height="8.88" fill="#c6052d" opacity="0.60"/>
<rect x="448" y="130.50" width="1" height="9.50" fill="#c6052d" opacity="1.00"/>
<rect x="449" y="131.75" width="1" height="8.25" fill="#c6052d" opacity="0.62"/>
<rect x="450" y="137.38" width="1" height="2.62" fill="#c6052d" opacity="1.00"/>
<rect x="451" y="138.00" width="1" height="2.00" fill="#c6052d" opacity="0.66"/>
<rect x="454" y="132.75" width="1" height="7.25" fill="#c6052d" opacity="1.00"/>
<rect x="461" y="132.75" width="1" height="7.25" fill="#c6052d" opacity="1.00"/>
<rect x="462" y="134.88" width="1" height="5.12" fill="#c6052d" opacity="1.00"/>
<rect x="469" y="130.50" width="1" height="9.50" fill="#c6052d" opacity="0.79"/>
<rect x="475" y="136.12" width="1" height="3.88" fill="#c6052d" opacity="0.61"/>
<rect x="476" y="131.12" width="1" height="8.88" fill="#c6052d" opacity="0.59"/>
<rect x="477" y="131.75" width="1" height="8.25" fill="#c6052d" opacity="0.77"/>
<rect x="478" y="137.38" width="1" height="2.62" fill="#c6052d" opacity="1.00"/>
<rect x="479" y="132.38" width="1" height="7.62" fill="#c6052d" opacity="0.74"/>
<rect x="480" y="131.12" width="1" height="8.88" fill="#c6052d" opacity="1.00"/>
<rect x="481" y="131.75" width="1" height="8.25" fill="#c6052d" opacity="0.59"/>
<rect x="482" y="134.25" width="1" height="5.75" fill="#c6052d" opacity="0.77"/>
<rect x="483" y="136.75" width="1" height="3.25" fill="#c6052d" opacity="1.00"/>
<rect x="484" y="137.38" width="1" height="2.62" fill="#c6052d" opacity="0.64"/>
<rect x="485" y="132.38" width="1" height="7.62" fill="#c6052d" opacity="0.75"/>
<rect x="486" y="131.75" width="1" height="8.25" fill="#c6052d" opacity="1.00"/>
<rect x="487" y="133.62" width="1" height="6.38" fill="#c6052d" opacity="0.70"/>
<rect x="488" y="134.25" width="1" height="5.75" fill="#c6052d" opacity="1.00"/>
<rect x="489" y="134.88" width="1" height="5.12" fill="#c6052d" opacity="0.57"/>
<rect x="215" y="178.75" width="1" height="3.75" fill="#2ab142" opacity="0.64"/>
<rect x="216" y="178.75" width="1" height="3.75" fill="#2ab142" opacity="0.89"/>
<rect x="222" y="178.00" width="1" height="4.50" fill="#2ab142" opacity="0.78"/>
<rect x="231" y="180.50" width="1" height="2.00" fill="#2ab142" opacity="1.00"/>
<rect x="236" y="179.50" width="1" height="3.00" fill="#2ab142" opacity="1.00"/>
<rect x="257" y="180.00" width="1" height="2.50" fill="#2ab142" opacity="1.00"/>
<rect x="290" y="179.50" width="1" height="3.00" fill="#2ab142" opacity="1.00"/>
<rect x="291" y="170.00" width="1" height="12.50" fill="#2ab142" opacity="0.70"/>
<rect x="303" y="178.25" width="1" height="4.25" fill="#0a4984" opacity="0.86"/>
<rect x="319" y="178.25" width="1" height="4.25" fill="#0a4984" opacity="1.00"/>
<rect x="331" y="179.25" width="1" height="3.25" fill="#0a4984" opacity="1.00"/>
<rect x="371" y="178.25" width="1" height="4.25" fill="#0a4984" opacity="0.56"/>
<rect x="372" y="180.38" width="1" height="2.12" fill="#c6052d" opacity="1.00"/>
<rect x="373" y="181.00" width="1" height="1.50" fill="#c6052d" opacity="1.00"/>
<rect x="374" y="179.75" width="1" height="2.75" fill="#c6052d" opacity="1.00"/>
<rect x="375" y="179.12" width="1" height="3.38" fill="#c6052d" opacity="1.00"/>
<rect x="376" y="179.12" width="1" height="3.38" fill="#c6052d" opacity="1.00"/>
<rect x="377" y="179.75" width="1" height="2.75" fill="#c6052d" opacity="0.76"/>
<rect x="378" y="181.00" width="1" height="1.50" fill="#c6052d" opacity="1.00"/>
<rect x="380" y="180.38" width="1" height="2.12" fill="#c6052d" opacity="0.72"/>
<rect x="381" y="176.62" width="1" height="5.88" fill="#c6052d" opacity="1.00"/>
<rect x="382" y="174.12" width="1" height="8.38" fill="#c6052d" opacity="0.64"/>
<rect x="383" y="174.75" width="1" height="7.75" fill="#c6052d" opacity="1.00"/>
<rect x="384" y="177.88" width="1" height="4.62" fill="#c6052d" opacity="1.00"/>
<rect x="386" y="181.00" width="1" height="1.50" fill="#c6052d" opacity="0.85"/>
<rect x="387" y="179.75" width="1" height="2.75" fill="#c6052d" opacity="0.69"/>
<rect x="388" y="179.75" width="1" height="2.75" fill="#c6052d" opacity="1.00"/>
<rect x="389" y="180.38" width="1" height="2.12" fill="#c6052d" opacity="1.00"/>
<rect x="391" y="179.75" width="1" height="2.75" fill="#c6052d" opacity="0.75"/>
<rect x="392" y="181.00" width="1" height="1.50" fill="#c6052d" opacity="1.00"/>
<rect x="393" y="181.00" width="1" height="1.50" fill="#c6052d" opacity="0.71"/>
<rect x="395" y="180.38" width="1" height="2.12" fill="#c6052d" opacity="0.81"/>
<rect x="396" y="181.00" width="1" height="1.50" fill="#c6052d" opacity="1.00"/>
<rect x="398" y="180.38" width="1" height="2.12" fill="#c6052d" opacity="0.57"/>
<rect x="399" y="179.75" width="1" height="2.75" fill="#c6052d" opacity="0.69"/>
<rect x="400" y="181.00" width="1" height="1.50" fill="#c6052d" opacity="1.00"/>
<rect x="401" y="181.00" width="1" height="1.50" fill="#c6052d" opacity="1.00"/>
<rect x="402" y="180.38" width="1" height="2.12" fill="#c6052d" opacity="0.55"/>
<rect x="405" y="179.12" width="1" height="3.38" fill="#c6052d" opacity="0.88"/>
<rect x="406" y="180.38" width="1" height="2.12" fill="#c6052d" opacity="1.00"/>
<rect x="413" y="181.00" width="1" height="1.50" fill="#c6052d" opacity="1.00"/>
<rect x="414" y="181.62" width="1" height="0.88" fill="#c6052d" opacity="0.73"/>
<rect x="416" y="181.00" width="1" height="1.50" fill="#c6052d" opacity="0.83"/>
<rect x="417" y="181.62" width="1" height="0.88" fill="#c6052d" opacity="1.00"/>
<rect x="419" y="181.00" width="1" height="1.50" fill="#c6052d" opacity="1.00"/>
<rect x="421" y="181.00" width="1" height="1.50" fill="#c6052d" opacity="1.00"/>
<rect x="422" y="180.38" width="1" height="2.12" fill="#c6052d" opacity="1.00"/>
<rect x="423" y="172.25" width="1" height="10.25" fill="#c6052d" opacity="0.82"/>
<rect x="424" y="171.62" width="1" height="10.88" fill="#c6052d" opacity="0.55"/>
<rect x="425" y="172.88" width="1" height="9.62" fill="#c6052d" opacity="0.81"/>
<rect x="426" y="170.38" width="1" height="12.12" fill="#c6052d" opacity="1.00"/>
<rect x="427" y="171.00" width="1" height="11.50" fill="#c6052d" opacity="0.71"/>
<rect x="428" y="172.88" width="1" height="9.62" fill="#c6052d" opacity="1.00"/>
<rect x="429" y="172.25" width="1" height="10.25" fill="#c6052d" opacity="1.00"/>
<rect x="430" y="171.62" width="1" height="10.88" fill="#c6052d" opacity="1.00"/>
<rect x="431" y="172.25" width="1" height="10.25" fill="#c6052d" opacity="1.00"/>
<rect x="432" y="179.12" width="1" height="3.38" fill="#c6052d" opacity="1.00"/>
<rect x="433" y="171.62" width="1" height="10.88" fill="#c6052d" opacity="0.79"/>
<rect x="434" y="178.50" width="1" height="4.00" fill="#c6052d" opacity="0.80"/>
<rect x="435" y="179.75" width="1" height="2.75" fill="#c6052d" opacity="1.00"/>
<rect x="441" y="175.38" width="1" height="7.12" fill="#c6052d" opacity="0.70"/>
<rect x="442" y="179.75" width="1" height="2.75" fill="#c6052d" opacity="0.73"/>
<rect x="443" y="181.00" width="1" height="1.50" fill="#c6052d" opacity="1.00"/>
<rect x="446" y="173.50" width="1" height="9.00" fill="#c6052d" opacity="0.89"/>
<rect x="447" y="174.12" width="1" height="8.38" fill="#c6052d" opacity="1.00"/>
<rect x="448" y="177.25" width="1" height="5.25" fill="#c6052d" opacity="0.56"/>
<rect x="449" y="172.25" width="1" height="10.25" fill="#c6052d" opacity="1.00"/>
<rect x="450" y="171.62" width="1" height="10.88" fill="#c6052d" opacity="1.00"/>
<rect x="451" y="174.12" width="1" height="8.38" fill="#c6052d" opacity="0.88"/>
<rect x="452" y="172.25" width="1" height="10.25" fill="#c6052d" opacity="0.66"/>
<rect x="453" y="169.75" width="1" height="12.75" fill="#c6052d" opacity="0.66"/>
<rect x="454" y="174.75" width="1" height="7.75" fill="#c6052d" opacity="1.00"/>
<rect x="456" y="173.50" width="1" height="9.00" fill="#c6052d" opacity="0.77"/>
<rect x="457" y="174.12" width="1" height="8.38" fill="#c6052d" opacity="0.78"/>
<rect x="458" y="174.75" width="1" height="7.75" fill="#c6052d" opacity="0.71"/>
<rect x="459" y="176.62" width="1" height="5.88" fill="#c6052d" opacity="0.79"/>
<rect x="460" y="179.12" width="1" height="3.38" fill="#c6052d" opacity="0.70"/>
<rect x="462" y="174.75" width="1" height="7.75" fill="#c6052d" opacity="0.75"/>
<rect x="463" y="173.50" width="1" height="9.00" fill="#c6052d" opacity="1.00"/>
<rect x="464" y="177.88" width="1" height="4.62" fill="#c6052d" opacity="1.00"/>
<rect x="465" y="176.62" width="1" height="5.88" fill="#c6052d" opacity="0.58"/>
<rect x="466" y="172.88" width="1" height="9.62" fill="#c6052d" opacity="0.60"/>
<rect x="467" y="172.25" width="1" height="10.25" fill="#c6052d" opacity="1.00"/>
<rect x="468" y="177.25" width="1" height="5.25" fill="#c6052d" opacity="1.00"/>
<rect x="469" y="176.62" width="1" height="5.88" fill="#c6052d" opacity="0.67"/>
<rect x="470" y="173.50" width="1" height="9.00" fill="#c6052d" opacity="1.00"/>
<rect x="471" y="171.62" width="1" height="10.88" fill="#c6052d" opacity="1.00"/>
<rect x="472" y="170.38" width="1" height="12.12" fill="#c6052d" opacity="1.00"/>
<rect x="473" y="171.00" width="1" height="11.50" fill="#c6052d" opacity="0.77"/>
<rect x="474" y="169.75" width="1" height="12.75" fill="#c6052d" opacity="0.81"/>
<rect x="475" y="169.12" width="1" height="13.38" fill="#c6052d" opacity="1.00"/>
<rect x="476" y="171.00" width="1" height="11.50" fill="#c6052d" opacity="1.00"/>
<rect x="477" y="171.62" width="1" height="10.88" fill="#c6052d" opacity="1.00"/>
<rect x="478" y="171.00" width="1" height="11.50" fill="#c6052d" opacity="0.84"/>
<rect x="479" y="170.38" width="1" height="12.12" fill="#c6052d" opacity="0.57"/>
<rect x="480" y="171.00" width="1" height="11.50" fill="#c6052d" opacity="0.87"/>
<rect x="481" y="171.62" width="1" height="10.88" fill="#c6052d" opacity="0.59"/>
<rect x="482" y="171.00" width="1" height="11.50" fill="#c6052d" opacity="1.00"/>
<rect x="483" y="171.62" width="1" height="10.88" fill="#c6052d" opacity="1.00"/>
<rect x="484" y="171.00" width="1" height="11.50" fill="#c6052d" opacity="1.00"/>
<rect x="485" y="171.62" width="1" height="10.88" fill="#c6052d" opacity="0.83"/>
<rect x="486" y="172.25" width="1" height="10.25" fill="#c6052d" opacity="0.84"/>
<rect x="487" y="171.00" width="1" height="11.50" fill="#c6052d" opacity="0.65"/>
<rect x="488" y="171.62" width="1" height="10.88" fill="#c6052d" opacity="1.00"/>
<rect x="489" y="172.25" width="1" height="10.25" fill="#c6052d" opacity="1.00"/>
<rect x="490" y="170.38" width="1" height="12.12" fill="#c6052d" opacity="0.62"/>
<rect x="178" y="223.62" width="1" height="1.38" fill="#56196a" opacity="1.00"/>
<rect x="189" y="221.12" width="1" height="3.88" fill="#56196a" opacity="1.00"/>
<rect x="206" y="215.50" width="1" height="9.50" fill="#56196a" opacity="1.00"/>
<rect x="215" y="216.75" width="1" height="8.25" fill="#2ab142" opacity="1.00"/>
<rect x="216" y="214.00" width="1" height="11.00" fill="#2ab142" opacity="1.00"/>
<rect x="217" y="214.88" width="1" height="10.12" fill="#2ab142" opacity="0.68"/>
<rect x="218" y="222.38" width="1" height="2.62" fill="#2ab142" opacity="1.00"/>
<rect x="219" y="223.62" width="1" height="1.38" fill="#2ab142" opacity="0.73"/>
<rect x="220" y="223.62" width="1" height="1.38" fill="#2ab142" opacity="0.77"/>
<rect x="222" y="219.88" width="1" height="5.12" fill="#2ab142" opacity="1.00"/>
<rect x="223" y="223.00" width="1" height="2.00" fill="#2ab142" opacity="1.00"/>
<rect x="224" y="221.75" width="1" height="3.25" fill="#2ab142" opacity="1.00"/>
<rect x="225" y="222.38" width="1" height="2.62" fill="#2ab142" opacity="0.67"/>
<rect x="226" y="223.62" width="1" height="1.38" fill="#2ab142" opacity="0.74"/>
<rect x="227" y="223.00" width="1" height="2.00" fill="#2ab142" opacity="1.00"/>
<rect x="228" y="215.50" width="1" height="9.50" fill="#2ab142" opacity="0.58"/>
<rect x="229" y="214.88" width="1" height="10.12" fill="#2ab142" opacity="0.61"/>
<rect x="230" y="214.25" width="1" height="10.75" fill="#2ab142" opacity="1.00"/>
<rect x="231" y="213.62" width="1" height="11.38" fill="#2ab142" opacity="1.00"/>
<rect x="232" y="214.88" width="1" height="10.12" fill="#2ab142" opacity="0.89"/>
<rect x="233" y="215.50" width="1" height="9.50" fill="#2ab142" opacity="1.00"/>
<rect x="234" y="214.88" width="1" height="10.12" fill="#2ab142" opacity="1.00"/>
<rect x="235" y="215.50" width="1" height="9.50" fill="#2ab142" opacity="1.00"/>
<rect x="236" y="216.75" width="1" height="8.25" fill="#2ab142" opacity="0.61"/>
<rect x="237" y="213.62" width="1" height="11.38" fill="#2ab142" opacity="1.00"/>
<rect x="238" y="214.25" width="1" height="10.75" fill="#2ab142" opacity="1.00"/>
<rect x="239" y="222.38" width="1" height="2.62" fill="#2ab142" opacity="0.64"/>
<rect x="240" y="215.50" width="1" height="9.50" fill="#2ab142" opacity="0.65"/>
<rect x="241" y="218.00" width="1" height="7.00" fill="#2ab142" opacity="1.00"/>
<rect x="242" y="220.50" width="1" height="4.50" fill="#2ab142" opacity="0.72"/>
<rect x="247" y="223.62" width="1" height="1.38" fill="#2ab142" opacity="1.00"/>
<rect x="248" y="223.00" width="1" height="2.00" fill="#2ab142" opacity="0.58"/>
<rect x="249" y="222.38" width="1" height="2.62" fill="#2ab142" opacity="0.79"/>
<rect x="253" y="214.88" width="1" height="10.12" fill="#2ab142" opacity="0.77"/>
<rect x="254" y="215.50" width="1" height="9.50" fill="#2ab142" opacity="1.00"/>
<rect x="255" y="214.25" width="1" height="10.75" fill="#2ab142" opacity="1.00"/>
<rect x="256" y="218.00" width="1" height="7.00" fill="#2ab142" opacity="1.00"/>
<rect x="257" y="220.50" width="1" height="4.50" fill="#2ab142" opacity="0.58"/>
<rect x="260" y="223.00" width="1" height="2.00" fill="#2ab142" opacity="0.56"/>
<rect x="263" y="223.62" width="1" height="1.38" fill="#2ab142" opacity="1.00"/>
<rect x="264" y="223.62" width="1" height="1.38" fill="#2ab142" opacity="1.00"/>
<rect x="266" y="213.62" width="1" height="11.38" fill="#2ab142" opacity="0.73"/>
<rect x="267" y="216.75" width="1" height="8.25" fill="#2ab142" opacity="1.00"/>
<rect x="270" y="223.62" width="1" height="1.38" fill="#2ab142" opacity="0.63"/>
<rect x="271" y="223.62" width="1" height="1.38" fill="#2ab142" opacity="1.00"/>
<rect x="272" y="223.62" width="1" height="1.38" fill="#2ab142" opacity="1.00"/>
<rect x="273" y="223.62" width="1" height="1.38" fill="#2ab142" opacity="0.81"/>
<rect x="274" y="223.62" width="1" height="1.38" fill="#2ab142" opacity="0.67"/>
<rect x="275" y="223.62" width="1" height="1.38" fill="#2ab142" opacity="1.00"/>
<rect x="278" y="217.38" width="1" height="7.62" fill="#2ab142" opacity="1.00"/>
<rect x="279" y="221.75" width="1" height="3.25" fill="#2ab142" opacity="0.78"/>
<rect x="283" y="216.12" width="1" height="8.88" fill="#2ab142" opacity="0.61"/>
<rect x="284" y="216.75" width="1" height="8.25" fill="#2ab142" opacity="1.00"/>
<rect x="285" y="221.75" width="1" height="3.25" fill="#2ab142" opacity="0.75"/>
<rect x="286" y="218.00" width="1" height="7.00" fill="#2ab142" opacity="1.00"/>
<rect x="287" y="219.88" width="1" height="5.12" fill="#2ab142" opacity="1.00"/>
<rect x="288" y="216.75" width="1" height="8.25" fill="#2ab142" opacity="0.63"/>
<rect x="289" y="221.75" width="1" height="3.25" fill="#2ab142" opacity="1.00"/>
<rect x="290" y="212.38" width="1" height="12.62" fill="#2ab142" opacity="1.00"/>
<rect x="291" y="209.88" width="1" height="15.12" fill="#2ab142" opacity="0.85"/>
<rect x="292" y="215.50" width="1" height="9.50" fill="#0a4984" opacity="1.00"/>
<rect x="293" y="214.25" width="1" height="10.75" fill="#0a4984" opacity="1.00"/>
<rect x="294" y="215.50" width="1" height="9.50" fill="#0a4984" opacity="1.00"/>
<rect x="295" y="214.25" width="1" height="10.75" fill="#0a4984" opacity="1.00"/>
<rect x="296" y="213.62" width="1" height="11.38" fill="#0a4984" opacity="1.00"/>
<rect x="297" y="215.50" width="1" height="9.50" fill="#0a4984" opacity="1.00"/>
<rect x="299" y="216.12" width="1" height="8.88" fill="#0a4984" opacity="1.00"/>
<rect x="300" y="215.50" width="1" height="9.50" fill="#0a4984" opacity="1.00"/>
<rect x="301" y="214.25" width="1" height="10.75" fill="#0a4984" opacity="0.81"/>
<rect x="302" y="213.62" width="1" height="11.38" fill="#0a4984" opacity="1.00"/>
<rect x="303" y="213.00" width="1" height="12.00" fill="#0a4984" opacity="0.59"/>
<rect x="304" y="216.12" width="1" height="8.88" fill="#0a4984" opacity="1.00"/>
<rect x="307" y="215.50" width="1" height="9.50" fill="#0a4984" opacity="0.83"/>
<rect x="308" y="216.12" width="1" height="8.88" fill="#0a4984" opacity="0.70"/>
<rect x="310" y="218.00" width="1" height="7.00" fill="#0a4984" opacity="1.00"/>
<rect x="311" y="214.88" width="1" height="10.12" fill="#0a4984" opacity="0.59"/>
<rect x="312" y="215.50" width="1" height="9.50" fill="#0a4984" opacity="1.00"/>
<rect x="313" y="216.75" width="1" height="8.25" fill="#0a4984" opacity="1.00"/>
<rect x="314" y="216.12" width="1" height="8.88" fill="#0a4984" opacity="1.00"/>
<rect x="315" y="219.25" width="1" height="5.75" fill="#0a4984" opacity="1.00"/>
<rect x="316" y="217.38" width="1" height="7.62" fill="#0a4984" opacity="0.79"/>
<rect x="317" y="214.25" width="1" height="10.75" fill="#0a4984" opacity="0.77"/>
<rect x="320" y="213.62" width="1" height="11.38" fill="#0a4984" opacity="1.00"/>
<rect x="321" y="213.00" width="1" height="12.00" fill="#0a4984" opacity="1.00"/>
<rect x="322" y="213.62" width="1" height="11.38" fill="#0a4984" opacity="0.69"/>
<rect x="323" y="215.50" width="1" height="9.50" fill="#0a4984" opacity="0.87"/>
<rect x="324" y="212.38" width="1" height="12.62" fill="#0a4984" opacity="1.00"/>
<rect x="325" y="213.00" width="1" height="12.00" fill="#0a4984" opacity="1.00"/>
<rect x="326" y="214.25" width="1" height="10.75" fill="#0a4984" opacity="0.70"/>
<rect x="327" y="215.50" width="1" height="9.50" fill="#0a4984" opacity="1.00"/>
<rect x="328" y="220.50" width="1" height="4.50" fill="#0a4984" opacity="0.86"/>
<rect x="329" y="213.62" width="1" height="11.38" fill="#0a4984" opacity="0.80"/>
<rect x="330" y="215.50" width="1" height="9.50" fill="#0a4984" opacity="0.79"/>
<rect x="331" y="213.62" width="1" height="11.38" fill="#0a4984" opacity="0.71"/>
<rect x="332" y="223.75" width="1" height="1.25" fill="#0a4984" opacity="1.00"/>
<rect x="333" y="223.75" width="1" height="1.25" fill="#0a4984" opacity="0.58"/>
<rect x="334" y="223.75" width="1" height="1.25" fill="#0a4984" opacity="1.00"/>
<rect x="335" y="223.75" width="1" height="1.25" fill="#0a4984" opacity="0.80"/>
<rect x="336" y="223.75" width="1" height="1.25" fill="#0a4984" opacity="0.64"/>
<rect x="337" y="223.75" width="1" height="1.25" fill="#0a4984" opacity="1.00"/>
<rect x="338" y="217.38" width="1" height="7.62" fill="#0a4984" opacity="1.00"/>
<rect x="339" y="217.75" width="1" height="7.25" fill="#0a4984" opacity="0.69"/>
<rect x="340" y="218.00" width="1" height="7.00" fill="#0a4984" opacity="0.88"/>
<rect x="341" y="218.00" width="1" height="7.00" fill="#0a4984" opacity="1.00"/>
<rect x="342" y="215.25" width="1" height="9.75" fill="#0a4984" opacity="0.82"/>
<rect x="343" y="218.00" width="1" height="7.00" fill="#0a4984" opacity="1.00"/>
<rect x="344" y="218.62" width="1" height="6.38" fill="#0a4984" opacity="0.89"/>
<rect x="348" y="214.88" width="1" height="10.12" fill="#0a4984" opacity="1.00"/>
<rect x="349" y="221.12" width="1" height="3.88" fill="#0a4984" opacity="0.61"/>
<rect x="352" y="217.38" width="1" height="7.62" fill="#0a4984" opacity="0.88"/>
<rect x="353" y="218.00" width="1" height="7.00" fill="#0a4984" opacity="1.00"/>
<rect x="354" y="216.12" width="1" height="8.88" fill="#0a4984" opacity="1.00"/>
<rect x="355" y="214.88" width="1" height="10.12" fill="#0a4984" opacity="1.00"/>
<rect x="356" y="213.00" width="1" height="12.00" fill="#0a4984" opacity="0.80"/>
<rect x="357" y="219.88" width="1" height="5.12" fill="#0a4984" opacity="1.00"/>
<rect x="358" y="219.25" width="1" height="5.75" fill="#0a4984" opacity="0.84"/>
<rect x="359" y="221.12" width="1" height="3.88" fill="#0a4984" opacity="1.00"/>
<rect x="360" y="219.88" width="1" height="5.12" fill="#0a4984" opacity="1.00"/>
<rect x="361" y="216.12" width="1" height="8.88" fill="#0a4984" opacity="0.62"/>
<rect x="362" y="214.88" width="1" height="10.12" fill="#0a4984" opacity="0.69"/>
<rect x="363" y="214.25" width="1" height="10.75" fill="#0a4984" opacity="0.59"/>
<rect x="364" y="213.62" width="1" height="11.38" fill="#0a4984" opacity="0.67"/>
<rect x="365" y="214.25" width="1" height="10.75" fill="#0a4984" opacity="1.00"/>
<rect x="366" y="214.88" width="1" height="10.12" fill="#0a4984" opacity="1.00"/>
<rect x="367" y="214.25" width="1" height="10.75" fill="#0a4984" opacity="1.00"/>
<rect x="368" y="215.50" width="1" height="9.50" fill="#0a4984" opacity="1.00"/>
<rect x="369" y="214.25" width="1" height="10.75" fill="#0a4984" opacity="1.00"/>
<rect x="370" y="218.62" width="1" height="6.38" fill="#0a4984" opacity="1.00"/>
<rect x="371" y="214.25" width="1" height="10.75" fill="#0a4984" opacity="0.67"/>
<rect x="372" y="213.62" width="1" height="11.38" fill="#c6052d" opacity="1.00"/>
<rect x="373" y="211.75" width="1" height="13.25" fill="#c6052d" opacity="1.00"/>
<rect x="374" y="213.00" width="1" height="12.00" fill="#c6052d" opacity="0.88"/>
<rect x="375" y="214.88" width="1" height="10.12" fill="#c6052d" opacity="1.00"/>
<rect x="376" y="213.62" width="1" height="11.38" fill="#c6052d" opacity="1.00"/>
<rect x="377" y="213.00" width="1" height="12.00" fill="#c6052d" opacity="0.69"/>
<rect x="378" y="213.62" width="1" height="11.38" fill="#c6052d" opacity="1.00"/>
<rect x="379" y="213.00" width="1" height="12.00" fill="#c6052d" opacity="1.00"/>
<rect x="380" y="214.25" width="1" height="10.75" fill="#c6052d" opacity="0.83"/>
<rect x="381" y="213.62" width="1" height="11.38" fill="#c6052d" opacity="0.71"/>
<rect x="382" y="212.38" width="1" height="12.62" fill="#c6052d" opacity="1.00"/>
<rect x="383" y="213.62" width="1" height="11.38" fill="#c6052d" opacity="1.00"/>
<rect x="384" y="214.88" width="1" height="10.12" fill="#c6052d" opacity="0.67"/>
<rect x="385" y="216.75" width="1" height="8.25" fill="#c6052d" opacity="0.84"/>
<rect x="386" y="219.88" width="1" height="5.12" fill="#c6052d" opacity="0.71"/>
<rect x="387" y="220.50" width="1" height="4.50" fill="#c6052d" opacity="1.00"/>
<rect x="388" y="219.88" width="1" height="5.12" fill="#c6052d" opacity="1.00"/>
<rect x="389" y="221.12" width="1" height="3.88" fill="#c6052d" opacity="1.00"/>
<rect x="390" y="219.88" width="1" height="5.12" fill="#c6052d" opacity="0.67"/>
<rect x="391" y="212.38" width="1" height="12.62" fill="#c6052d" opacity="0.64"/>
<rect x="392" y="214.88" width="1" height="10.12" fill="#c6052d" opacity="1.00"/>
<rect x="393" y="216.75" width="1" height="8.25" fill="#c6052d" opacity="1.00"/>
<rect x="394" y="214.25" width="1" height="10.75" fill="#c6052d" opacity="1.00"/>
<rect x="395" y="214.88" width="1" height="10.12" fill="#c6052d" opacity="1.00"/>
<rect x="396" y="218.62" width="1" height="6.38" fill="#c6052d" opacity="1.00"/>
<rect x="397" y="213.62" width="1" height="11.38" fill="#c6052d" opacity="0.65"/>
<rect x="398" y="214.88" width="1" height="10.12" fill="#c6052d" opacity="1.00"/>
<rect x="399" y="216.75" width="1" height="8.25" fill="#c6052d" opacity="1.00"/>
<rect x="400" y="219.88" width="1" height="5.12" fill="#c6052d" opacity="1.00"/>
<rect x="401" y="223.00" width="1" height="2.00" fill="#c6052d" opacity="1.00"/>
<rect x="402" y="221.12" width="1" height="3.88" fill="#c6052d" opacity="0.78"/>
<rect x="403" y="216.75" width="1" height="8.25" fill="#c6052d" opacity="1.00"/>
<rect x="404" y="214.88" width="1" height="10.12" fill="#c6052d" opacity="0.85"/>
<rect x="405" y="213.62" width="1" height="11.38" fill="#c6052d" opacity="1.00"/>
<rect x="406" y="213.00" width="1" height="12.00" fill="#c6052d" opacity="0.87"/>
<rect x="407" y="214.25" width="1" height="10.75" fill="#c6052d" opacity="0.60"/>
<rect x="408" y="215.50" width="1" height="9.50" fill="#c6052d" opacity="0.77"/>
<rect x="409" y="216.12" width="1" height="8.88" fill="#c6052d" opacity="1.00"/>
<rect x="410" y="216.75" width="1" height="8.25" fill="#c6052d" opacity="1.00"/>
<rect x="411" y="220.50" width="1" height="4.50" fill="#c6052d" opacity="0.78"/>
<rect x="412" y="223.62" width="1" height="1.38" fill="#c6052d" opacity="1.00"/>
<rect x="413" y="220.50" width="1" height="4.50" fill="#c6052d" opacity="1.00"/>
<rect x="414" y="223.00" width="1" height="2.00" fill="#c6052d" opacity="1.00"/>
<rect x="415" y="223.62" width="1" height="1.38" fill="#c6052d" opacity="1.00"/>
<rect x="416" y="223.62" width="1" height="1.38" fill="#c6052d" opacity="0.67"/>
<rect x="417" y="223.62" width="1" height="1.38" fill="#c6052d" opacity="1.00"/>
<rect x="418" y="221.75" width="1" height="3.25" fill="#c6052d" opacity="0.83"/>
<rect x="419" y="223.00" width="1" height="2.00" fill="#c6052d" opacity="1.00"/>
<rect x="420" y="221.12" width="1" height="3.88" fill="#c6052d" opacity="0.76"/>
<rect x="421" y="220.50" width="1" height="4.50" fill="#c6052d" opacity="0.78"/>
<rect x="422" y="219.88" width="1" height="5.12" fill="#c6052d" opacity="0.83"/>
<rect x="423" y="214.25" width="1" height="10.75" fill="#c6052d" opacity="0.62"/>
<rect x="424" y="213.62" width="1" height="11.38" fill="#c6052d" opacity="0.74"/>
<rect x="425" y="219.88" width="1" height="5.12" fill="#c6052d" opacity="1.00"/>
<rect x="426" y="213.00" width="1" height="12.00" fill="#c6052d" opacity="1.00"/>
<rect x="427" y="211.75" width="1" height="13.25" fill="#c6052d" opacity="0.74"/>
<rect x="428" y="213.62" width="1" height="11.38" fill="#c6052d" opacity="1.00"/>
<rect x="429" y="212.38" width="1" height="12.62" fill="#c6052d" opacity="1.00"/>
<rect x="430" y="211.75" width="1" height="13.25" fill="#c6052d" opacity="1.00"/>
<rect x="431" y="211.50" width="1" height="13.50" fill="#c6052d" opacity="1.00"/>
<rect x="432" y="212.00" width="1" height="13.00" fill="#c6052d" opacity="1.00"/>
<rect x="433" y="212.00" width="1" height="13.00" fill="#c6052d" opacity="1.00"/>
<rect x="434" y="213.62" width="1" height="11.38" fill="#c6052d" opacity="1.00"/>
<rect x="435" y="211.50" width="1" height="13.50" fill="#c6052d" opacity="1.00"/>
<rect x="436" y="212.75" width="1" height="12.25" fill="#c6052d" opacity="1.00"/>
<rect x="437" y="211.50" width="1" height="13.50" fill="#c6052d" opacity="1.00"/>
<rect x="438" y="212.00" width="1" height="13.00" fill="#c6052d" opacity="0.55"/>
<rect x="439" y="211.75" width="1" height="13.25" fill="#c6052d" opacity="1.00"/>
<rect x="440" y="211.75" width="1" height="13.25" fill="#c6052d" opacity="1.00"/>
<rect x="441" y="216.75" width="1" height="8.25" fill="#c6052d" opacity="1.00"/>
<rect x="442" y="212.75" width="1" height="12.25" fill="#c6052d" opacity="1.00"/>
<rect x="443" y="220.50" width="1" height="4.50" fill="#c6052d" opacity="1.00"/>
<rect x="444" y="220.50" width="1" height="4.50" fill="#c6052d" opacity="1.00"/>
<rect x="445" y="211.50" width="1" height="13.50" fill="#c6052d" opacity="1.00"/>
<rect x="446" y="212.00" width="1" height="13.00" fill="#c6052d" opacity="0.58"/>
<rect x="447" y="212.75" width="1" height="12.25" fill="#c6052d" opacity="1.00"/>
<rect x="448" y="211.50" width="1" height="13.50" fill="#c6052d" opacity="1.00"/>
<rect x="449" y="211.75" width="1" height="13.25" fill="#c6052d" opacity="1.00"/>
<rect x="450" y="211.50" width="1" height="13.50" fill="#c6052d" opacity="1.00"/>
<rect x="451" y="212.75" width="1" height="12.25" fill="#c6052d" opacity="1.00"/>
<rect x="452" y="211.50" width="1" height="13.50" fill="#c6052d" opacity="0.67"/>
<rect x="453" y="212.38" width="1" height="12.62" fill="#c6052d" opacity="0.73"/>
<rect x="454" y="213.00" width="1" height="12.00" fill="#c6052d" opacity="1.00"/>
<rect x="455" y="211.75" width="1" height="13.25" fill="#c6052d" opacity="0.56"/>
<rect x="456" y="212.38" width="1" height="12.62" fill="#c6052d" opacity="1.00"/>
<rect x="457" y="212.00" width="1" height="13.00" fill="#c6052d" opacity="1.00"/>
<rect x="458" y="213.00" width="1" height="12.00" fill="#c6052d" opacity="1.00"/>
<rect x="459" y="212.38" width="1" height="12.62" fill="#c6052d" opacity="0.68"/>
<rect x="460" y="212.00" width="1" height="13.00" fill="#c6052d" opacity="1.00"/>
<rect x="461" y="212.75" width="1" height="12.25" fill="#c6052d" opacity="1.00"/>
<rect x="462" y="213.62" width="1" height="11.38" fill="#c6052d" opacity="1.00"/>
<rect x="463" y="212.00" width="1" height="13.00" fill="#c6052d" opacity="1.00"/>
<rect x="464" y="212.00" width="1" height="13.00" fill="#c6052d" opacity="1.00"/>
<rect x="465" y="211.50" width="1" height="13.50" fill="#c6052d" opacity="1.00"/>
<rect x="466" y="212.75" width="1" height="12.25" fill="#c6052d" opacity="1.00"/>
<rect x="467" y="214.25" width="1" height="10.75" fill="#c6052d" opacity="1.00"/>
<rect x="468" y="211.75" width="1" height="13.25" fill="#c6052d" opacity="1.00"/>
<rect x="469" y="213.62" width="1" height="11.38" fill="#c6052d" opacity="1.00"/>
<rect x="470" y="214.25" width="1" height="10.75" fill="#c6052d" opacity="1.00"/>
<rect x="471" y="214.25" width="1" height="10.75" fill="#c6052d" opacity="1.00"/>
<rect x="472" y="213.62" width="1" height="11.38" fill="#c6052d" opacity="1.00"/>
<rect x="473" y="213.00" width="1" height="12.00" fill="#c6052d" opacity="1.00"/>
<rect x="474" y="212.75" width="1" height="12.25" fill="#c6052d" opacity="0.78"/>
<rect x="475" y="212.38" width="1" height="12.62" fill="#c6052d" opacity="1.00"/>
<rect x="476" y="212.75" width="1" height="12.25" fill="#c6052d" opacity="1.00"/>
<rect x="477" y="212.00" width="1" height="13.00" fill="#c6052d" opacity="1.00"/>
<rect x="478" y="213.00" width="1" height="12.00" fill="#c6052d" opacity="1.00"/>
<rect x="479" y="214.25" width="1" height="10.75" fill="#c6052d" opacity="1.00"/>
<rect x="480" y="213.62" width="1" height="11.38" fill="#c6052d" opacity="1.00"/>
<rect x="481" y="214.25" width="1" height="10.75" fill="#c6052d" opacity="1.00"/>
<rect x="482" y="213.00" width="1" height="12.00" fill="#c6052d" opacity="1.00"/>
<rect x="483" y="212.00" width="1" height="13.00" fill="#c6052d" opacity="1.00"/>
<rect x="484" y="212.00" width="1" height="13.00" fill="#c6052d" opacity="0.74"/>
<rect x="485" y="211.75" width="1" height="13.25" fill="#c6052d" opacity="1.00"/>
<rect x="486" y="212.38" width="1" height="12.62" fill="#c6052d" opacity="1.00"/>
<rect x="487" y="213.62" width="1" height="11.38" fill="#c6052d" opacity="1.00"/>
<rect x="488" y="212.38" width="1" height="12.62" fill="#c6052d" opacity="1.00"/>
<rect x="489" y="214.25" width="1" height="10.75" fill="#c6052d" opacity="0.76"/>
<rect x="490" y="211.75" width="1" height="13.25" fill="#c6052d" opacity="1.00"/>
<circle cx="36.50" cy="310.24" r="1.42" fill="#56196a"/>
<circle cx="36.50" cy="311.57" r="1.42" fill="#56196a"/>
<circle cx="36.50" cy="313.20" r="1.55" fill="#2ab142"/>
<circle cx="36.50" cy="314.53" r="1.55" fill="#2ab142"/>
<circle cx="36.50" cy="315.87" r="1.55" fill="#2ab142"/>
<circle cx="36.50" cy="317.15" r="1.42" fill="#0a4984"/>
<circle cx="36.50" cy="318.49" r="1.42" fill="#0a4984"/>
<circle cx="36.50" cy="319.13" r="1.55" fill="#2ab142"/>
<circle cx="36.50" cy="320.46" r="1.55" fill="#2ab142"/>
<circle cx="36.50" cy="321.80" r="1.55" fill="#2ab142"/>
<circle cx="36.50" cy="322.09" r="1.42" fill="#0a4984"/>
<circle cx="36.50" cy="323.43" r="1.42" fill="#0a4984"/>
<circle cx="36.50" cy="324.76" r="1.42" fill="#0a4984"/>
<circle cx="36.50" cy="326.09" r="1.42" fill="#0a4984"/>
<circle cx="36.50" cy="327.43" r="1.42" fill="#0a4984"/>
<circle cx="36.50" cy="328.76" r="1.42" fill="#0a4984"/>
<circle cx="36.50" cy="330.00" r="1.42" fill="#c6052d"/>
<circle cx="36.50" cy="331.33" r="1.42" fill="#c6052d"/>
<circle cx="36.50" cy="331.97" r="1.42" fill="#0a4984"/>
<circle cx="36.50" cy="333.45" r="1.42" fill="#c6052d"/>
<circle cx="36.50" cy="334.79" r="1.42" fill="#c6052d"/>
<circle cx="36.50" cy="335.68" r="1.42" fill="#0a4984"/>
<circle cx="36.50" cy="337.01" r="1.55" fill="#2ab142"/>
<circle cx="36.50" cy="338.39" r="1.42" fill="#56196a"/>
<circle cx="36.50" cy="339.73" r="1.42" fill="#56196a"/>
<circle cx="36.50" cy="340.12" r="1.42" fill="#0a4984"/>
<circle cx="36.50" cy="341.46" r="1.42" fill="#0a4984"/>
<circle cx="36.50" cy="342.79" r="1.42" fill="#0a4984"/>
<circle cx="36.50" cy="343.58" r="1.55" fill="#2ab142"/>
<circle cx="36.50" cy="344.91" r="1.55" fill="#2ab142"/>
<circle cx="36.50" cy="346.25" r="1.55" fill="#2ab142"/>
<circle cx="36.50" cy="346.55" r="1.42" fill="#0a4984"/>
<circle cx="36.50" cy="347.88" r="1.42" fill="#0a4984"/>
<circle cx="36.50" cy="349.02" r="1.42" fill="#56196a"/>
<circle cx="36.50" cy="350.25" r="1.42" fill="#0a4984"/>
<circle cx="36.50" cy="351.58" r="1.42" fill="#0a4984"/>
<circle cx="36.50" cy="352.47" r="1.55" fill="#2ab142"/>
<circle cx="36.50" cy="353.81" r="1.55" fill="#2ab142"/>
<circle cx="36.50" cy="354.45" r="1.42" fill="#0a4984"/>
<circle cx="36.50" cy="355.78" r="1.42" fill="#0a4984"/>
<circle cx="36.50" cy="356.67" r="1.55" fill="#2ab142"/>
<circle cx="36.50" cy="358.01" r="1.55" fill="#2ab142"/>
<circle cx="36.50" cy="358.90" r="1.42" fill="#0a4984"/>
<circle cx="36.50" cy="360.23" r="1.42" fill="#0a4984"/>
<circle cx="36.50" cy="362.60" r="1.42" fill="#c6052d"/>
<circle cx="44.12" cy="354.70" r="1.55" fill="#2ab142"/>
<circle cx="48.54" cy="360.97" r="1.55" fill="#2ab142"/>
<circle cx="41.47" cy="329.50" r="1.42" fill="#0a4984"/>
<circle cx="44.12" cy="360.13" r="1.42" fill="#0a4984"/>
<circle cx="67.22" cy="360.97" r="1.42" fill="#0a4984"/>
<circle cx="56.28" cy="362.60" r="1.42" fill="#0a4984"/>
<circle cx="100.59" cy="360.38" r="1.42" fill="#0a4984"/>
<circle cx="102.47" cy="359.14" r="1.42" fill="#0a4984"/>
<circle cx="40.59" cy="362.60" r="1.42" fill="#c6052d"/>
<circle cx="42.47" cy="362.60" r="1.42" fill="#c6052d"/>
<circle cx="44.35" cy="362.60" r="1.42" fill="#c6052d"/>
<circle cx="46.89" cy="362.60" r="1.42" fill="#c6052d"/>
<circle cx="49.43" cy="362.60" r="1.42" fill="#c6052d"/>
<circle cx="58.16" cy="362.60" r="1.42" fill="#c6052d"/>
<circle cx="63.13" cy="362.60" r="1.42" fill="#c6052d"/>
<circle cx="66.22" cy="362.60" r="1.42" fill="#c6052d"/>
<circle cx="68.10" cy="362.60" r="1.42" fill="#c6052d"/>
<circle cx="73.74" cy="362.60" r="1.42" fill="#c6052d"/>
<circle cx="76.28" cy="362.60" r="1.42" fill="#c6052d"/>
<circle cx="78.16" cy="362.60" r="1.42" fill="#c6052d"/>
<circle cx="81.25" cy="362.60" r="1.42" fill="#c6052d"/>
<circle cx="83.13" cy="362.60" r="1.42" fill="#c6052d"/>
<circle cx="88.77" cy="362.60" r="1.42" fill="#c6052d"/>
<circle cx="93.08" cy="362.60" r="1.42" fill="#c6052d"/>
<circle cx="100.37" cy="328.02" r="1.42" fill="#c6052d"/>
<circle cx="118.27" cy="355.59" r="1.42" fill="#c6052d"/>
<circle cx="132.75" cy="362.60" r="1.42" fill="#c6052d"/>
<circle cx="91.75" cy="362.60" r="1.42" fill="#c6052d"/>
<circle cx="94.18" cy="362.60" r="1.42" fill="#c6052d"/>
<circle cx="96.61" cy="362.60" r="1.42" fill="#c6052d"/>
<circle cx="99.04" cy="362.60" r="1.42" fill="#c6052d"/>
<circle cx="101.47" cy="362.60" r="1.42" fill="#c6052d"/>
<circle cx="103.90" cy="362.60" r="1.42" fill="#c6052d"/>
<circle cx="106.34" cy="362.60" r="1.42" fill="#c6052d"/>
<circle cx="108.77" cy="362.60" r="1.42" fill="#c6052d"/>
<circle cx="111.20" cy="362.60" r="1.42" fill="#c6052d"/>
<circle cx="113.63" cy="362.60" r="1.42" fill="#c6052d"/>
<circle cx="116.06" cy="362.60" r="1.42" fill="#c6052d"/>
<circle cx="118.49" cy="362.60" r="1.42" fill="#c6052d"/>
<circle cx="195.00" cy="310.98" r="1.42" fill="#56196a"/>
<circle cx="195.00" cy="314.19" r="1.55" fill="#2ab142"/>
<circle cx="195.00" cy="315.67" r="1.42" fill="#0a4984"/>
<circle cx="195.00" cy="317.00" r="1.42" fill="#0a4984"/>
<circle cx="195.00" cy="318.34" r="1.42" fill="#0a4984"/>
<circle cx="195.00" cy="319.67" r="1.42" fill="#0a4984"/>
<circle cx="195.00" cy="321.01" r="1.42" fill="#0a4984"/>
<circle cx="195.00" cy="322.34" r="1.42" fill="#0a4984"/>
<circle cx="195.00" cy="323.67" r="1.42" fill="#0a4984"/>
<circle cx="195.00" cy="325.01" r="1.42" fill="#0a4984"/>
<circle cx="195.00" cy="326.34" r="1.42" fill="#0a4984"/>
<circle cx="195.00" cy="327.53" r="1.42" fill="#c6052d"/>
<circle cx="195.00" cy="328.86" r="1.42" fill="#c6052d"/>
<circle cx="195.00" cy="330.00" r="1.42" fill="#0a4984"/>
<circle cx="195.00" cy="331.23" r="1.42" fill="#c6052d"/>
<circle cx="195.00" cy="332.56" r="1.42" fill="#c6052d"/>
<circle cx="195.00" cy="333.90" r="1.42" fill="#c6052d"/>
<circle cx="195.00" cy="335.23" r="1.42" fill="#c6052d"/>
<circle cx="195.00" cy="336.57" r="1.42" fill="#c6052d"/>
<circle cx="195.00" cy="337.90" r="1.42" fill="#c6052d"/>
<circle cx="195.00" cy="339.23" r="1.42" fill="#c6052d"/>
<circle cx="195.00" cy="340.57" r="1.42" fill="#c6052d"/>
<circle cx="195.00" cy="342.10" r="1.42" fill="#0a4984"/>
<circle cx="195.00" cy="343.43" r="1.42" fill="#0a4984"/>
<circle cx="195.00" cy="344.77" r="1.42" fill="#0a4984"/>
<circle cx="195.00" cy="346.10" r="1.42" fill="#0a4984"/>
<circle cx="195.00" cy="347.43" r="1.42" fill="#0a4984"/>
<circle cx="195.00" cy="348.77" r="1.55" fill="#2ab142"/>
<circle cx="195.00" cy="350.10" r="1.42" fill="#0a4984"/>
<circle cx="195.00" cy="351.44" r="1.42" fill="#0a4984"/>
<circle cx="195.00" cy="352.77" r="1.42" fill="#0a4984"/>
<circle cx="195.00" cy="354.10" r="1.42" fill="#0a4984"/>
<circle cx="195.00" cy="355.44" r="1.42" fill="#c6052d"/>
<circle cx="195.00" cy="356.77" r="1.42" fill="#c6052d"/>
<circle cx="195.00" cy="358.10" r="1.42" fill="#c6052d"/>
<circle cx="195.00" cy="359.44" r="1.42" fill="#c6052d"/>
<circle cx="195.00" cy="361.61" r="1.55" fill="#2ab142"/>
<circle cx="195.00" cy="362.60" r="1.42" fill="#c6052d"/>
<circle cx="214.12" cy="320.71" r="1.42" fill="#56196a"/>
<circle cx="201.08" cy="329.50" r="1.55" fill="#2ab142"/>
<circle cx="206.60" cy="335.92" r="1.55" fill="#2ab142"/>
<circle cx="202.29" cy="338.89" r="1.55" fill="#2ab142"/>
<circle cx="267.27" cy="342.20" r="1.55" fill="#2ab142"/>
<circle cx="270.14" cy="359.09" r="1.55" fill="#2ab142"/>
<circle cx="271.69" cy="361.12" r="1.55" fill="#2ab142"/>
<circle cx="199.97" cy="325.35" r="1.42" fill="#0a4984"/>
<circle cx="202.85" cy="330.74" r="1.42" fill="#0a4984"/>
<circle cx="201.85" cy="332.61" r="1.42" fill="#0a4984"/>
<circle cx="201.08" cy="334.74" r="1.42" fill="#0a4984"/>
<circle cx="226.38" cy="346.99" r="1.42" fill="#0a4984"/>
<circle cx="225.39" cy="359.49" r="1.42" fill="#0a4984"/>
<circle cx="260.42" cy="323.57" r="1.42" fill="#0a4984"/>
<circle cx="258.43" cy="342.84" r="1.42" fill="#0a4984"/>
<circle cx="262.85" cy="360.72" r="1.42" fill="#0a4984"/>
<circle cx="269.15" cy="360.13" r="1.42" fill="#0a4984"/>
<circle cx="200.41" cy="344.08" r="1.42" fill="#c6052d"/>
<circle cx="198.87" cy="350.35" r="1.42" fill="#c6052d"/>
<circle cx="236.66" cy="330.34" r="1.42" fill="#c6052d"/>
<circle cx="226.38" cy="343.58" r="1.42" fill="#c6052d"/>
<circle cx="241.63" cy="346.99" r="1.42" fill="#c6052d"/>
<circle cx="240.19" cy="357.36" r="1.42" fill="#c6052d"/>
<circle cx="246.71" cy="354.84" r="1.42" fill="#c6052d"/>
<circle cx="251.69" cy="359.49" r="1.42" fill="#c6052d"/>
<circle cx="208.48" cy="361.12" r="1.42" fill="#c6052d"/>
<circle cx="199.09" cy="362.60" r="1.42" fill="#c6052d"/>
<circle cx="202.85" cy="362.60" r="1.42" fill="#c6052d"/>
<circle cx="205.94" cy="362.60" r="1.42" fill="#c6052d"/>
<circle cx="207.27" cy="362.60" r="1.42" fill="#c6052d"/>
<circle cx="216.00" cy="362.60" r="1.42" fill="#c6052d"/>
<circle cx="221.63" cy="362.60" r="1.42" fill="#c6052d"/>
<circle cx="224.17" cy="362.60" r="1.42" fill="#c6052d"/>
<circle cx="225.39" cy="362.60" r="1.42" fill="#c6052d"/>
<circle cx="232.24" cy="362.60" r="1.42" fill="#c6052d"/>
<circle cx="235.33" cy="362.60" r="1.42" fill="#c6052d"/>
<circle cx="236.66" cy="362.60" r="1.42" fill="#c6052d"/>
<circle cx="240.97" cy="362.60" r="1.42" fill="#c6052d"/>
<circle cx="257.65" cy="331.73" r="1.42" fill="#c6052d"/>
<circle cx="256.00" cy="334.10" r="1.42" fill="#c6052d"/>
<circle cx="256.00" cy="335.73" r="1.42" fill="#c6052d"/>
<circle cx="269.81" cy="331.73" r="1.42" fill="#c6052d"/>
<circle cx="264.73" cy="342.84" r="1.42" fill="#c6052d"/>
<circle cx="272.90" cy="345.36" r="1.42" fill="#c6052d"/>
<circle cx="251.69" cy="359.19" r="1.42" fill="#c6052d"/>
<circle cx="290.69" cy="362.60" r="1.42" fill="#c6052d"/>
<circle cx="249.92" cy="362.60" r="1.42" fill="#c6052d"/>
<circle cx="252.35" cy="362.60" r="1.42" fill="#c6052d"/>
<circle cx="254.78" cy="362.60" r="1.42" fill="#c6052d"/>
<circle cx="257.21" cy="362.60" r="1.42" fill="#c6052d"/>
<circle cx="259.64" cy="362.60" r="1.42" fill="#c6052d"/>
<circle cx="262.07" cy="362.60" r="1.42" fill="#c6052d"/>
<circle cx="264.50" cy="362.60" r="1.42" fill="#c6052d"/>
<circle cx="266.94" cy="362.60" r="1.42" fill="#c6052d"/>
<circle cx="269.37" cy="362.60" r="1.42" fill="#c6052d"/>
<circle cx="271.80" cy="362.60" r="1.42" fill="#c6052d"/>
<circle cx="274.23" cy="362.60" r="1.42" fill="#c6052d"/>
<circle cx="276.66" cy="362.60" r="1.42" fill="#c6052d"/>
<circle cx="354.00" cy="313.20" r="1.55" fill="#2ab142"/>
<circle cx="354.00" cy="314.53" r="1.55" fill="#2ab142"/>
<circle cx="354.00" cy="315.18" r="1.42" fill="#0a4984"/>
<circle cx="354.00" cy="316.51" r="1.42" fill="#0a4984"/>
<circle cx="354.00" cy="317.84" r="1.42" fill="#0a4984"/>
<circle cx="354.00" cy="319.18" r="1.42" fill="#0a4984"/>
<circle cx="354.00" cy="320.51" r="1.42" fill="#0a4984"/>
<circle cx="354.00" cy="321.85" r="1.42" fill="#0a4984"/>
<circle cx="354.00" cy="323.18" r="1.42" fill="#0a4984"/>
<circle cx="354.00" cy="324.07" r="1.55" fill="#2ab142"/>
<circle cx="354.00" cy="325.40" r="1.55" fill="#2ab142"/>
<circle cx="354.00" cy="326.74" r="1.55" fill="#2ab142"/>
<circle cx="354.00" cy="327.72" r="1.42" fill="#c6052d"/>
<circle cx="354.00" cy="329.06" r="1.42" fill="#c6052d"/>
<circle cx="354.00" cy="330.39" r="1.42" fill="#c6052d"/>
<circle cx="354.00" cy="331.73" r="1.42" fill="#c6052d"/>
<circle cx="354.00" cy="333.06" r="1.42" fill="#c6052d"/>
<circle cx="354.00" cy="334.39" r="1.42" fill="#c6052d"/>
<circle cx="354.00" cy="335.73" r="1.42" fill="#c6052d"/>
<circle cx="354.00" cy="337.06" r="1.42" fill="#c6052d"/>
<circle cx="354.00" cy="338.39" r="1.42" fill="#c6052d"/>
<circle cx="354.00" cy="339.73" r="1.42" fill="#c6052d"/>
<circle cx="354.00" cy="341.06" r="1.42" fill="#c6052d"/>
<circle cx="354.00" cy="342.40" r="1.42" fill="#c6052d"/>
<circle cx="354.00" cy="343.73" r="1.42" fill="#c6052d"/>
<circle cx="354.00" cy="345.06" r="1.42" fill="#c6052d"/>
<circle cx="354.00" cy="346.40" r="1.42" fill="#c6052d"/>
<circle cx="354.00" cy="347.73" r="1.42" fill="#c6052d"/>
<circle cx="354.00" cy="348.27" r="1.42" fill="#c6052d"/>
<circle cx="354.00" cy="349.61" r="1.42" fill="#0a4984"/>
<circle cx="354.00" cy="350.94" r="1.42" fill="#c6052d"/>
<circle cx="354.00" cy="352.28" r="1.42" fill="#0a4984"/>
<circle cx="354.00" cy="353.21" r="1.42" fill="#c6052d"/>
<circle cx="354.00" cy="354.55" r="1.42" fill="#c6052d"/>
<circle cx="354.00" cy="355.88" r="1.42" fill="#c6052d"/>
<circle cx="354.00" cy="357.22" r="1.42" fill="#c6052d"/>
<circle cx="354.00" cy="358.55" r="1.42" fill="#c6052d"/>
<circle cx="354.00" cy="359.88" r="1.42" fill="#c6052d"/>
<circle cx="354.00" cy="361.22" r="1.42" fill="#c6052d"/>
<circle cx="354.00" cy="362.55" r="1.42" fill="#c6052d"/>
<circle cx="365.57" cy="310.62" r="1.42" fill="#56196a"/>
<circle cx="379.32" cy="317.25" r="1.42" fill="#56196a"/>
<circle cx="383.45" cy="315.25" r="1.42" fill="#56196a"/>
<circle cx="392.20" cy="319.75" r="1.42" fill="#56196a"/>
<circle cx="406.57" cy="317.25" r="1.42" fill="#56196a"/>
<circle cx="382.70" cy="322.88" r="1.42" fill="#56196a"/>
<circle cx="379.32" cy="320.62" r="1.42" fill="#56196a"/>
<circle cx="388.70" cy="322.88" r="1.42" fill="#56196a"/>
<circle cx="396.82" cy="329.00" r="1.42" fill="#56196a"/>
<circle cx="402.07" cy="329.38" r="1.42" fill="#56196a"/>
<circle cx="407.20" cy="326.62" r="1.42" fill="#56196a"/>
<circle cx="364.32" cy="336.88" r="1.42" fill="#56196a"/>
<circle cx="386.20" cy="340.62" r="1.42" fill="#56196a"/>
<circle cx="394.32" cy="347.12" r="1.42" fill="#56196a"/>
<circle cx="409.32" cy="345.62" r="1.42" fill="#56196a"/>
<circle cx="410.57" cy="348.12" r="1.42" fill="#56196a"/>
<circle cx="401.20" cy="352.88" r="1.42" fill="#56196a"/>
<circle cx="384.32" cy="357.50" r="1.42" fill="#56196a"/>
<circle cx="388.95" cy="356.88" r="1.42" fill="#56196a"/>
<circle cx="394.32" cy="357.50" r="1.42" fill="#56196a"/>
<circle cx="409.95" cy="358.75" r="1.42" fill="#56196a"/>
<circle cx="406.82" cy="317.25" r="1.42" fill="#56196a"/>
<circle cx="407.45" cy="326.50" r="1.42" fill="#56196a"/>
<circle cx="412.70" cy="327.75" r="1.42" fill="#56196a"/>
<circle cx="412.45" cy="321.00" r="1.42" fill="#56196a"/>
<circle cx="418.07" cy="321.88" r="1.42" fill="#56196a"/>
<circle cx="421.82" cy="323.50" r="1.42" fill="#56196a"/>
<circle cx="426.82" cy="316.88" r="1.42" fill="#56196a"/>
<circle cx="428.07" cy="314.75" r="1.42" fill="#56196a"/>
<circle cx="428.70" cy="315.62" r="1.42" fill="#56196a"/>
<circle cx="433.07" cy="317.75" r="1.42" fill="#56196a"/>
<circle cx="436.57" cy="315.62" r="1.42" fill="#56196a"/>
<circle cx="426.82" cy="322.88" r="1.42" fill="#56196a"/>
<circle cx="431.82" cy="324.00" r="1.42" fill="#56196a"/>
<circle cx="426.20" cy="329.38" r="1.42" fill="#56196a"/>
<circle cx="428.07" cy="328.75" r="1.42" fill="#56196a"/>
<circle cx="432.45" cy="327.88" r="1.42" fill="#56196a"/>
<circle cx="432.45" cy="332.12" r="1.42" fill="#56196a"/>
<circle cx="435.57" cy="329.00" r="1.42" fill="#56196a"/>
<circle cx="437.45" cy="321.25" r="1.42" fill="#56196a"/>
<circle cx="437.45" cy="325.00" r="1.42" fill="#56196a"/>
<circle cx="439.32" cy="325.62" r="1.42" fill="#56196a"/>
<circle cx="440.57" cy="322.50" r="1.42" fill="#56196a"/>
<circle cx="442.45" cy="320.62" r="1.42" fill="#56196a"/>
<circle cx="446.20" cy="325.00" r="1.42" fill="#56196a"/>
<circle cx="447.45" cy="321.25" r="1.42" fill="#56196a"/>
<circle cx="448.70" cy="322.25" r="1.42" fill="#56196a"/>
<circle cx="446.20" cy="328.75" r="1.42" fill="#56196a"/>
<circle cx="448.70" cy="333.12" r="1.42" fill="#56196a"/>
<circle cx="441.20" cy="334.62" r="1.42" fill="#56196a"/>
<circle cx="450.57" cy="327.50" r="1.42" fill="#56196a"/>
<circle cx="453.07" cy="316.25" r="1.42" fill="#56196a"/>
<circle cx="451.82" cy="323.75" r="1.42" fill="#56196a"/>
<circle cx="453.70" cy="321.88" r="1.42" fill="#56196a"/>
<circle cx="456.20" cy="322.25" r="1.42" fill="#56196a"/>
<circle cx="458.70" cy="321.88" r="1.42" fill="#56196a"/>
<circle cx="459.95" cy="321.00" r="1.42" fill="#56196a"/>
<circle cx="459.95" cy="325.00" r="1.42" fill="#56196a"/>
<circle cx="463.07" cy="318.50" r="1.42" fill="#56196a"/>
<circle cx="459.95" cy="328.12" r="1.42" fill="#56196a"/>
<circle cx="463.45" cy="329.38" r="1.42" fill="#56196a"/>
<circle cx="459.95" cy="331.25" r="1.42" fill="#56196a"/>
<circle cx="421.82" cy="336.62" r="1.42" fill="#56196a"/>
<circle cx="425.57" cy="338.50" r="1.42" fill="#56196a"/>
<circle cx="418.07" cy="340.00" r="1.42" fill="#56196a"/>
<circle cx="432.45" cy="339.00" r="1.42" fill="#56196a"/>
<circle cx="434.95" cy="340.38" r="1.42" fill="#56196a"/>
<circle cx="436.20" cy="341.62" r="1.42" fill="#56196a"/>
<circle cx="440.32" cy="342.75" r="1.42" fill="#56196a"/>
<circle cx="453.70" cy="337.25" r="1.42" fill="#56196a"/>
<circle cx="456.20" cy="336.88" r="1.42" fill="#56196a"/>
<circle cx="409.32" cy="345.62" r="1.42" fill="#56196a"/>
<circle cx="410.57" cy="347.88" r="1.42" fill="#56196a"/>
<circle cx="412.20" cy="347.88" r="1.42" fill="#56196a"/>
<circle cx="421.20" cy="346.88" r="1.42" fill="#56196a"/>
<circle cx="423.07" cy="348.75" r="1.42" fill="#56196a"/>
<circle cx="427.20" cy="348.75" r="1.42" fill="#56196a"/>
<circle cx="429.32" cy="351.25" r="1.42" fill="#56196a"/>
<circle cx="433.07" cy="346.25" r="1.42" fill="#56196a"/>
<circle cx="433.95" cy="347.50" r="1.42" fill="#56196a"/>
<circle cx="463.95" cy="344.75" r="1.42" fill="#56196a"/>
<circle cx="463.45" cy="348.75" r="1.42" fill="#56196a"/>
<circle cx="440.57" cy="353.12" r="1.42" fill="#56196a"/>
<circle cx="445.57" cy="354.62" r="1.42" fill="#56196a"/>
<circle cx="411.20" cy="357.50" r="1.42" fill="#56196a"/>
<circle cx="411.20" cy="359.38" r="1.42" fill="#56196a"/>
<circle cx="422.45" cy="359.12" r="1.42" fill="#56196a"/>
<circle cx="429.95" cy="358.12" r="1.42" fill="#56196a"/>
<circle cx="445.20" cy="358.50" r="1.42" fill="#56196a"/>
<circle cx="455.57" cy="360.00" r="1.42" fill="#56196a"/>
<circle cx="458.07" cy="360.00" r="1.42" fill="#56196a"/>
<circle cx="463.95" cy="358.50" r="1.42" fill="#56196a"/>
<circle cx="435.57" cy="362.50" r="1.42" fill="#56196a"/>
<circle cx="442.45" cy="362.50" r="1.42" fill="#56196a"/>
<circle cx="444.95" cy="362.75" r="1.42" fill="#56196a"/>
<circle cx="446.20" cy="362.75" r="1.42" fill="#56196a"/>
<circle cx="453.07" cy="362.75" r="1.42" fill="#56196a"/>
<circle cx="464.70" cy="362.75" r="1.42" fill="#56196a"/>
<circle cx="360.05" cy="315.00" r="1.42" fill="#56196a"/>
<circle cx="367.40" cy="316.60" r="1.42" fill="#56196a"/>
<circle cx="359.60" cy="318.00" r="1.42" fill="#56196a"/>
<circle cx="356.80" cy="320.30" r="1.42" fill="#56196a"/>
<circle cx="358.20" cy="320.50" r="1.42" fill="#56196a"/>
<circle cx="363.30" cy="320.80" r="1.42" fill="#56196a"/>
<circle cx="373.00" cy="321.20" r="1.42" fill="#56196a"/>
<circle cx="371.10" cy="323.80" r="1.42" fill="#56196a"/>
<circle cx="357.30" cy="325.80" r="1.42" fill="#56196a"/>
<circle cx="359.10" cy="325.80" r="1.42" fill="#56196a"/>
<circle cx="358.20" cy="327.20" r="1.42" fill="#56196a"/>
<circle cx="360.00" cy="326.80" r="1.42" fill="#56196a"/>
<circle cx="372.00" cy="329.30" r="1.42" fill="#56196a"/>
<circle cx="367.00" cy="330.70" r="1.42" fill="#56196a"/>
<circle cx="370.20" cy="331.80" r="1.42" fill="#56196a"/>
<circle cx="362.40" cy="334.60" r="1.42" fill="#56196a"/>
<circle cx="365.10" cy="334.20" r="1.42" fill="#56196a"/>
<circle cx="356.80" cy="340.60" r="1.42" fill="#56196a"/>
<circle cx="363.45" cy="342.30" r="1.42" fill="#56196a"/>
<circle cx="364.00" cy="343.50" r="1.42" fill="#56196a"/>
<circle cx="360.85" cy="348.10" r="1.42" fill="#56196a"/>
<circle cx="363.45" cy="351.50" r="1.42" fill="#56196a"/>
<circle cx="365.50" cy="350.10" r="1.42" fill="#56196a"/>
<circle cx="357.70" cy="351.80" r="1.42" fill="#56196a"/>
<circle cx="356.80" cy="353.60" r="1.42" fill="#56196a"/>
<circle cx="358.55" cy="354.10" r="1.42" fill="#56196a"/>
<circle cx="368.10" cy="356.70" r="1.42" fill="#56196a"/>
<circle cx="371.80" cy="357.90" r="1.42" fill="#56196a"/>
<circle cx="360.00" cy="357.60" r="1.42" fill="#56196a"/>
<circle cx="361.40" cy="359.60" r="1.42" fill="#56196a"/>
<circle cx="364.60" cy="360.20" r="1.42" fill="#56196a"/>
<circle cx="374.40" cy="360.20" r="1.42" fill="#56196a"/>
<circle cx="377.90" cy="359.60" r="1.42" fill="#56196a"/>
<circle cx="379.30" cy="358.50" r="1.42" fill="#56196a"/>
<circle cx="380.50" cy="359.60" r="1.42" fill="#56196a"/>
<circle cx="372.40" cy="361.90" r="1.42" fill="#56196a"/>
<circle cx="376.40" cy="361.90" r="1.42" fill="#56196a"/>
<circle cx="362.00" cy="362.20" r="1.42" fill="#56196a"/>
<circle cx="393.45" cy="318.12" r="1.55" fill="#2ab142"/>
<circle cx="410.95" cy="324.75" r="1.55" fill="#2ab142"/>
<circle cx="363.70" cy="338.50" r="1.55" fill="#2ab142"/>
<circle cx="369.32" cy="338.12" r="1.55" fill="#2ab142"/>
<circle cx="372.45" cy="338.12" r="1.55" fill="#2ab142"/>
<circle cx="411.45" cy="324.38" r="1.55" fill="#2ab142"/>
<circle cx="420.57" cy="325.88" r="1.55" fill="#2ab142"/>
<circle cx="428.45" cy="321.25" r="1.55" fill="#2ab142"/>
<circle cx="441.57" cy="318.75" r="1.55" fill="#2ab142"/>
<circle cx="443.07" cy="322.75" r="1.55" fill="#2ab142"/>
<circle cx="444.70" cy="323.50" r="1.55" fill="#2ab142"/>
<circle cx="446.20" cy="337.25" r="1.55" fill="#2ab142"/>
<circle cx="452.70" cy="341.50" r="1.55" fill="#2ab142"/>
<circle cx="429.07" cy="347.88" r="1.55" fill="#2ab142"/>
<circle cx="459.07" cy="346.62" r="1.55" fill="#2ab142"/>
<circle cx="462.20" cy="346.25" r="1.55" fill="#2ab142"/>
<circle cx="435.20" cy="357.50" r="1.55" fill="#2ab142"/>
<circle cx="357.05" cy="314.30" r="1.55" fill="#2ab142"/>
<circle cx="361.90" cy="320.80" r="1.55" fill="#2ab142"/>
<circle cx="375.50" cy="322.80" r="1.55" fill="#2ab142"/>
<circle cx="363.70" cy="325.40" r="1.55" fill="#2ab142"/>
<circle cx="369.70" cy="326.30" r="1.55" fill="#2ab142"/>
<circle cx="357.05" cy="330.20" r="1.55" fill="#2ab142"/>
<circle cx="356.80" cy="334.60" r="1.55" fill="#2ab142"/>
<circle cx="360.00" cy="334.60" r="1.55" fill="#2ab142"/>
<circle cx="364.60" cy="362.80" r="1.55" fill="#2ab142"/>
<circle cx="380.20" cy="323.12" r="1.42" fill="#0a4984"/>
<circle cx="388.70" cy="326.88" r="1.42" fill="#0a4984"/>
<circle cx="402.07" cy="331.88" r="1.42" fill="#0a4984"/>
<circle cx="412.70" cy="325.25" r="1.42" fill="#0a4984"/>
<circle cx="419.95" cy="330.38" r="1.42" fill="#0a4984"/>
<circle cx="429.95" cy="318.12" r="1.42" fill="#0a4984"/>
<circle cx="428.70" cy="325.00" r="1.42" fill="#0a4984"/>
<circle cx="428.70" cy="330.88" r="1.42" fill="#0a4984"/>
<circle cx="441.20" cy="329.62" r="1.42" fill="#0a4984"/>
<circle cx="454.70" cy="318.50" r="1.42" fill="#0a4984"/>
<circle cx="434.95" cy="349.00" r="1.42" fill="#0a4984"/>
<circle cx="441.82" cy="359.00" r="1.42" fill="#0a4984"/>
<circle cx="428.70" cy="362.75" r="1.42" fill="#0a4984"/>
<circle cx="358.20" cy="323.80" r="1.42" fill="#0a4984"/>
<circle cx="361.90" cy="323.50" r="1.42" fill="#0a4984"/>
<circle cx="370.70" cy="329.30" r="1.42" fill="#0a4984"/>
<circle cx="359.10" cy="332.30" r="1.42" fill="#0a4984"/>
<circle cx="358.55" cy="342.60" r="1.42" fill="#0a4984"/>
<circle cx="357.10" cy="345.80" r="1.42" fill="#0a4984"/>
<circle cx="357.70" cy="347.20" r="1.42" fill="#0a4984"/>
<circle cx="370.40" cy="355.30" r="1.42" fill="#0a4984"/>
<circle cx="357.40" cy="359.00" r="1.42" fill="#0a4984"/>
<circle cx="359.10" cy="359.30" r="1.42" fill="#0a4984"/>
<circle cx="358.00" cy="360.80" r="1.42" fill="#0a4984"/>
<circle cx="359.70" cy="361.10" r="1.42" fill="#0a4984"/>
<circle cx="357.40" cy="362.20" r="1.42" fill="#0a4984"/>
<circle cx="359.10" cy="362.20" r="1.42" fill="#0a4984"/>
<circle cx="360.85" cy="361.90" r="1.42" fill="#0a4984"/>
<circle cx="424.70" cy="337.25" r="1.42" fill="#c6052d"/>
<circle cx="416.82" cy="356.62" r="1.42" fill="#c6052d"/>
<circle cx="425.57" cy="357.25" r="1.42" fill="#c6052d"/>
<circle cx="431.82" cy="362.75" r="1.42" fill="#c6052d"/>
<circle cx="370.10" cy="362.80" r="1.42" fill="#c6052d"/>
<circle cx="36.50" cy="470.47" r="1.55" fill="#2ab142"/>
<circle cx="36.50" cy="472.80" r="1.42" fill="#c6052d"/>
<circle cx="36.50" cy="474.13" r="1.42" fill="#c6052d"/>
<circle cx="36.50" cy="475.46" r="1.42" fill="#c6052d"/>
<circle cx="36.50" cy="476.80" r="1.42" fill="#c6052d"/>
<circle cx="36.50" cy="478.13" r="1.42" fill="#c6052d"/>
<circle cx="36.50" cy="479.47" r="1.42" fill="#c6052d"/>
<circle cx="36.50" cy="480.80" r="1.42" fill="#c6052d"/>
<circle cx="36.50" cy="482.28" r="1.55" fill="#2ab142"/>
<circle cx="36.50" cy="482.92" r="1.42" fill="#c6052d"/>
<circle cx="36.50" cy="484.26" r="1.42" fill="#c6052d"/>
<circle cx="36.50" cy="485.59" r="1.42" fill="#c6052d"/>
<circle cx="36.50" cy="486.92" r="1.42" fill="#c6052d"/>
<circle cx="36.50" cy="488.26" r="1.42" fill="#c6052d"/>
<circle cx="36.50" cy="489.59" r="1.42" fill="#c6052d"/>
<circle cx="36.50" cy="490.93" r="1.42" fill="#c6052d"/>
<circle cx="36.50" cy="492.26" r="1.42" fill="#c6052d"/>
<circle cx="36.50" cy="493.59" r="1.42" fill="#c6052d"/>
<circle cx="36.50" cy="494.93" r="1.42" fill="#c6052d"/>
<circle cx="36.50" cy="496.26" r="1.42" fill="#c6052d"/>
<circle cx="36.50" cy="497.99" r="1.42" fill="#0a4984"/>
<circle cx="36.50" cy="498.58" r="1.42" fill="#c6052d"/>
<circle cx="36.50" cy="499.92" r="1.42" fill="#c6052d"/>
<circle cx="36.50" cy="501.25" r="1.42" fill="#c6052d"/>
<circle cx="36.50" cy="502.58" r="1.42" fill="#c6052d"/>
<circle cx="36.50" cy="503.92" r="1.42" fill="#c6052d"/>
<circle cx="36.50" cy="505.25" r="1.42" fill="#c6052d"/>
<circle cx="36.50" cy="506.49" r="1.55" fill="#2ab142"/>
<circle cx="36.50" cy="507.82" r="1.55" fill="#2ab142"/>
<circle cx="36.50" cy="510.09" r="1.42" fill="#c6052d"/>
<circle cx="36.50" cy="511.43" r="1.42" fill="#c6052d"/>
<circle cx="36.50" cy="513.80" r="1.55" fill="#2ab142"/>
<circle cx="36.50" cy="515.13" r="1.55" fill="#2ab142"/>
<circle cx="36.50" cy="516.76" r="1.42" fill="#0a4984"/>
<circle cx="36.50" cy="518.10" r="1.42" fill="#0a4984"/>
<circle cx="36.50" cy="519.23" r="1.55" fill="#2ab142"/>
<circle cx="36.50" cy="520.57" r="1.55" fill="#2ab142"/>
<circle cx="36.50" cy="521.90" r="1.55" fill="#2ab142"/>
<circle cx="36.50" cy="522.44" r="1.42" fill="#c6052d"/>
<circle cx="36.50" cy="523.78" r="1.42" fill="#c6052d"/>
<circle cx="36.50" cy="525.11" r="1.42" fill="#c6052d"/>
<circle cx="36.50" cy="525.90" r="1.42" fill="#0a4984"/>
<circle cx="36.50" cy="526.39" r="1.42" fill="#0a4984"/>
<circle cx="36.50" cy="527.73" r="1.55" fill="#2ab142"/>
<circle cx="36.50" cy="530.10" r="1.42" fill="#c6052d"/>
<circle cx="55.84" cy="488.11" r="1.42" fill="#56196a"/>
<circle cx="99.60" cy="507.62" r="1.42" fill="#56196a"/>
<circle cx="42.58" cy="474.77" r="1.55" fill="#2ab142"/>
<circle cx="42.58" cy="489.59" r="1.55" fill="#2ab142"/>
<circle cx="48.54" cy="485.89" r="1.55" fill="#2ab142"/>
<circle cx="44.23" cy="530.10" r="1.55" fill="#2ab142"/>
<circle cx="112.52" cy="477.24" r="1.55" fill="#2ab142"/>
<circle cx="113.85" cy="477.74" r="1.55" fill="#2ab142"/>
<circle cx="108.88" cy="492.56" r="1.55" fill="#2ab142"/>
<circle cx="42.58" cy="478.38" r="1.42" fill="#0a4984"/>
<circle cx="42.02" cy="485.39" r="1.42" fill="#0a4984"/>
<circle cx="68.32" cy="476.25" r="1.42" fill="#0a4984"/>
<circle cx="67.22" cy="490.09" r="1.42" fill="#0a4984"/>
<circle cx="44.90" cy="505.99" r="1.42" fill="#0a4984"/>
<circle cx="44.23" cy="523.68" r="1.42" fill="#0a4984"/>
<circle cx="102.03" cy="477.88" r="1.42" fill="#0a4984"/>
<circle cx="100.37" cy="491.91" r="1.42" fill="#0a4984"/>
<circle cx="110.87" cy="522.79" r="1.42" fill="#0a4984"/>
<circle cx="40.48" cy="482.18" r="1.42" fill="#c6052d"/>
<circle cx="42.02" cy="483.17" r="1.42" fill="#c6052d"/>
<circle cx="44.23" cy="487.62" r="1.42" fill="#c6052d"/>
<circle cx="48.99" cy="481.69" r="1.42" fill="#c6052d"/>
<circle cx="50.09" cy="490.33" r="1.42" fill="#c6052d"/>
<circle cx="57.72" cy="495.12" r="1.42" fill="#c6052d"/>
<circle cx="64.12" cy="477.88" r="1.42" fill="#c6052d"/>
<circle cx="63.46" cy="480.70" r="1.42" fill="#c6052d"/>
<circle cx="67.00" cy="486.38" r="1.42" fill="#c6052d"/>
<circle cx="68.32" cy="488.36" r="1.42" fill="#c6052d"/>
<circle cx="77.05" cy="478.97" r="1.42" fill="#c6052d"/>
<circle cx="78.60" cy="483.52" r="1.42" fill="#c6052d"/>
<circle cx="74.73" cy="489.10" r="1.42" fill="#c6052d"/>
<circle cx="78.60" cy="491.22" r="1.42" fill="#c6052d"/>
<circle cx="82.36" cy="494.38" r="1.42" fill="#c6052d"/>
<circle cx="83.90" cy="485.15" r="1.42" fill="#c6052d"/>
<circle cx="88.66" cy="484.65" r="1.42" fill="#c6052d"/>
<circle cx="93.41" cy="481.69" r="1.42" fill="#c6052d"/>
<circle cx="93.41" cy="500.46" r="1.42" fill="#c6052d"/>
<circle cx="82.69" cy="502.04" r="1.42" fill="#c6052d"/>
<circle cx="78.60" cy="514.29" r="1.42" fill="#c6052d"/>
<circle cx="73.74" cy="520.42" r="1.42" fill="#c6052d"/>
<circle cx="47.33" cy="530.10" r="1.42" fill="#c6052d"/>
<circle cx="93.96" cy="530.10" r="1.42" fill="#c6052d"/>
<circle cx="95.62" cy="480.70" r="1.42" fill="#c6052d"/>
<circle cx="98.38" cy="478.72" r="1.42" fill="#c6052d"/>
<circle cx="103.24" cy="476.25" r="1.42" fill="#c6052d"/>
<circle cx="106.45" cy="476.75" r="1.42" fill="#c6052d"/>
<circle cx="110.09" cy="478.97" r="1.42" fill="#c6052d"/>
<circle cx="115.40" cy="480.01" r="1.42" fill="#c6052d"/>
<circle cx="117.61" cy="481.69" r="1.42" fill="#c6052d"/>
<circle cx="102.03" cy="481.69" r="1.42" fill="#c6052d"/>
<circle cx="104.79" cy="481.19" r="1.42" fill="#c6052d"/>
<circle cx="109.65" cy="481.94" r="1.42" fill="#c6052d"/>
<circle cx="99.60" cy="483.52" r="1.42" fill="#c6052d"/>
<circle cx="106.89" cy="483.81" r="1.42" fill="#c6052d"/>
<circle cx="112.52" cy="484.80" r="1.42" fill="#c6052d"/>
<circle cx="98.82" cy="485.89" r="1.42" fill="#c6052d"/>
<circle cx="100.37" cy="486.38" r="1.42" fill="#c6052d"/>
<circle cx="97.72" cy="487.52" r="1.42" fill="#c6052d"/>
<circle cx="99.60" cy="489.10" r="1.42" fill="#c6052d"/>
<circle cx="109.32" cy="488.80" r="1.42" fill="#c6052d"/>
<circle cx="111.75" cy="489.59" r="1.42" fill="#c6052d"/>
<circle cx="118.60" cy="490.33" r="1.42" fill="#c6052d"/>
<circle cx="102.80" cy="493.54" r="1.42" fill="#c6052d"/>
<circle cx="132.52" cy="482.92" r="1.42" fill="#c6052d"/>
<circle cx="93.19" cy="500.46" r="1.42" fill="#c6052d"/>
<circle cx="97.72" cy="503.92" r="1.42" fill="#c6052d"/>
<circle cx="120.04" cy="530.10" r="1.42" fill="#c6052d"/>
<circle cx="195.00" cy="456.35" r="1.42" fill="#c6052d"/>
<circle cx="195.00" cy="464.40" r="1.42" fill="#c6052d"/>
<circle cx="195.00" cy="467.86" r="1.42" fill="#c6052d"/>
<circle cx="195.00" cy="469.19" r="1.42" fill="#c6052d"/>
<circle cx="195.00" cy="470.52" r="1.42" fill="#c6052d"/>
<circle cx="195.00" cy="471.86" r="1.42" fill="#c6052d"/>
<circle cx="195.00" cy="473.19" r="1.42" fill="#c6052d"/>
<circle cx="195.00" cy="474.53" r="1.42" fill="#c6052d"/>
<circle cx="195.00" cy="477.24" r="1.42" fill="#c6052d"/>
<circle cx="195.00" cy="481.69" r="1.42" fill="#c6052d"/>
<circle cx="195.00" cy="489.59" r="1.42" fill="#c6052d"/>
<circle cx="195.00" cy="491.07" r="1.42" fill="#c6052d"/>
<circle cx="195.00" cy="493.05" r="1.42" fill="#c6052d"/>
<circle cx="195.00" cy="495.52" r="1.42" fill="#c6052d"/>
<circle cx="195.00" cy="506.14" r="1.42" fill="#0a4984"/>
<circle cx="195.00" cy="507.47" r="1.42" fill="#0a4984"/>
<circle cx="195.00" cy="508.81" r="1.42" fill="#0a4984"/>
<circle cx="195.00" cy="510.14" r="1.42" fill="#0a4984"/>
<circle cx="195.00" cy="513.80" r="1.55" fill="#2ab142"/>
<circle cx="195.00" cy="515.53" r="1.55" fill="#2ab142"/>
<circle cx="195.00" cy="516.76" r="1.42" fill="#c6052d"/>
<circle cx="195.00" cy="518.10" r="1.42" fill="#c6052d"/>
<circle cx="195.00" cy="519.43" r="1.42" fill="#c6052d"/>
<circle cx="195.00" cy="520.76" r="1.42" fill="#c6052d"/>
<circle cx="195.00" cy="522.10" r="1.42" fill="#c6052d"/>
<circle cx="195.00" cy="523.43" r="1.42" fill="#c6052d"/>
<circle cx="195.00" cy="524.76" r="1.42" fill="#c6052d"/>
<circle cx="195.00" cy="526.10" r="1.42" fill="#c6052d"/>
<circle cx="195.00" cy="527.43" r="1.42" fill="#c6052d"/>
<circle cx="195.00" cy="528.77" r="1.42" fill="#c6052d"/>
<circle cx="195.00" cy="530.10" r="1.42" fill="#c6052d"/>
<circle cx="214.56" cy="530.10" r="1.42" fill="#56196a"/>
<circle cx="206.93" cy="530.10" r="1.55" fill="#2ab142"/>
<circle cx="266.94" cy="530.10" r="1.55" fill="#2ab142"/>
<circle cx="271.25" cy="530.10" r="1.55" fill="#2ab142"/>
<circle cx="272.13" cy="530.10" r="1.55" fill="#2ab142"/>
<circle cx="200.53" cy="530.10" r="1.42" fill="#0a4984"/>
<circle cx="226.16" cy="530.10" r="1.42" fill="#0a4984"/>
<circle cx="257.65" cy="530.10" r="1.42" fill="#0a4984"/>
<circle cx="259.20" cy="530.10" r="1.42" fill="#0a4984"/>
<circle cx="262.07" cy="530.10" r="1.42" fill="#0a4984"/>
<circle cx="268.81" cy="530.10" r="1.42" fill="#0a4984"/>
<circle cx="208.37" cy="461.43" r="1.42" fill="#c6052d"/>
<circle cx="198.87" cy="477.24" r="1.42" fill="#c6052d"/>
<circle cx="206.93" cy="482.68" r="1.42" fill="#c6052d"/>
<circle cx="215.55" cy="466.87" r="1.42" fill="#c6052d"/>
<circle cx="222.18" cy="462.67" r="1.42" fill="#c6052d"/>
<circle cx="221.41" cy="471.51" r="1.42" fill="#c6052d"/>
<circle cx="225.28" cy="475.76" r="1.42" fill="#c6052d"/>
<circle cx="226.49" cy="491.22" r="1.42" fill="#c6052d"/>
<circle cx="232.13" cy="496.01" r="1.42" fill="#c6052d"/>
<circle cx="232.57" cy="468.35" r="1.42" fill="#c6052d"/>
<circle cx="235.44" cy="465.88" r="1.42" fill="#c6052d"/>
<circle cx="236.66" cy="474.43" r="1.42" fill="#c6052d"/>
<circle cx="236.99" cy="478.43" r="1.42" fill="#c6052d"/>
<circle cx="236.66" cy="483.17" r="1.42" fill="#c6052d"/>
<circle cx="240.31" cy="464.60" r="1.42" fill="#c6052d"/>
<circle cx="241.85" cy="465.88" r="1.42" fill="#c6052d"/>
<circle cx="241.08" cy="473.59" r="1.42" fill="#c6052d"/>
<circle cx="247.16" cy="459.11" r="1.42" fill="#c6052d"/>
<circle cx="251.47" cy="460.20" r="1.42" fill="#c6052d"/>
<circle cx="251.47" cy="468.35" r="1.42" fill="#c6052d"/>
<circle cx="252.24" cy="466.37" r="1.42" fill="#c6052d"/>
<circle cx="199.20" cy="507.62" r="1.42" fill="#c6052d"/>
<circle cx="200.53" cy="510.83" r="1.42" fill="#c6052d"/>
<circle cx="205.72" cy="509.99" r="1.42" fill="#c6052d"/>
<circle cx="207.60" cy="514.29" r="1.42" fill="#c6052d"/>
<circle cx="202.74" cy="530.10" r="1.42" fill="#c6052d"/>
<circle cx="251.24" cy="460.25" r="1.42" fill="#c6052d"/>
<circle cx="256.33" cy="463.41" r="1.42" fill="#c6052d"/>
<circle cx="252.46" cy="465.88" r="1.42" fill="#c6052d"/>
<circle cx="251.24" cy="467.86" r="1.42" fill="#c6052d"/>
<circle cx="258.87" cy="466.67" r="1.42" fill="#c6052d"/>
<circle cx="254.12" cy="470.33" r="1.42" fill="#c6052d"/>
<circle cx="257.32" cy="472.60" r="1.42" fill="#c6052d"/>
<circle cx="260.19" cy="470.67" r="1.42" fill="#c6052d"/>
<circle cx="256.00" cy="477.59" r="1.42" fill="#c6052d"/>
<circle cx="261.19" cy="476.75" r="1.42" fill="#c6052d"/>
<circle cx="268.04" cy="462.92" r="1.42" fill="#c6052d"/>
<circle cx="270.91" cy="461.09" r="1.42" fill="#c6052d"/>
<circle cx="272.90" cy="465.09" r="1.42" fill="#c6052d"/>
<circle cx="267.27" cy="473.88" r="1.42" fill="#c6052d"/>
<circle cx="276.55" cy="475.81" r="1.42" fill="#c6052d"/>
<circle cx="267.71" cy="479.71" r="1.42" fill="#c6052d"/>
<circle cx="264.84" cy="482.18" r="1.42" fill="#c6052d"/>
<circle cx="275.67" cy="485.94" r="1.42" fill="#c6052d"/>
<circle cx="264.62" cy="492.06" r="1.42" fill="#c6052d"/>
<circle cx="291.02" cy="500.71" r="1.42" fill="#c6052d"/>
<circle cx="257.65" cy="507.28" r="1.42" fill="#c6052d"/>
<circle cx="256.55" cy="514.00" r="1.42" fill="#c6052d"/>
<circle cx="278.54" cy="509.70" r="1.42" fill="#c6052d"/>
<circle cx="263.29" cy="519.23" r="1.42" fill="#c6052d"/>
<circle cx="261.63" cy="522.39" r="1.42" fill="#c6052d"/>
<circle cx="270.14" cy="519.97" r="1.42" fill="#c6052d"/>
<circle cx="274.45" cy="530.10" r="1.42" fill="#c6052d"/>
<circle cx="354.00" cy="456.10" r="1.42" fill="#c6052d"/>
<circle cx="354.00" cy="457.43" r="1.42" fill="#c6052d"/>
<circle cx="354.00" cy="458.77" r="1.42" fill="#c6052d"/>
<circle cx="354.00" cy="460.10" r="1.42" fill="#c6052d"/>
<circle cx="354.00" cy="461.43" r="1.42" fill="#c6052d"/>
<circle cx="354.00" cy="462.77" r="1.42" fill="#c6052d"/>
<circle cx="354.00" cy="464.10" r="1.42" fill="#c6052d"/>
<circle cx="354.00" cy="465.44" r="1.42" fill="#c6052d"/>
<circle cx="354.00" cy="466.77" r="1.42" fill="#c6052d"/>
<circle cx="354.00" cy="468.10" r="1.42" fill="#c6052d"/>
<circle cx="354.00" cy="469.44" r="1.42" fill="#c6052d"/>
<circle cx="354.00" cy="470.77" r="1.42" fill="#c6052d"/>
<circle cx="354.00" cy="472.10" r="1.42" fill="#c6052d"/>
<circle cx="354.00" cy="473.44" r="1.42" fill="#c6052d"/>
<circle cx="354.00" cy="474.77" r="1.42" fill="#c6052d"/>
<circle cx="354.00" cy="475.41" r="1.42" fill="#0a4984"/>
<circle cx="354.00" cy="476.75" r="1.42" fill="#c6052d"/>
<circle cx="354.00" cy="478.08" r="1.42" fill="#c6052d"/>
<circle cx="354.00" cy="479.42" r="1.42" fill="#c6052d"/>
<circle cx="354.00" cy="480.75" r="1.42" fill="#c6052d"/>
<circle cx="354.00" cy="481.69" r="1.42" fill="#0a4984"/>
<circle cx="354.00" cy="483.02" r="1.42" fill="#c6052d"/>
<circle cx="354.00" cy="483.42" r="1.42" fill="#c6052d"/>
<circle cx="354.00" cy="484.75" r="1.42" fill="#c6052d"/>
<circle cx="354.00" cy="485.64" r="1.42" fill="#0a4984"/>
<circle cx="354.00" cy="486.97" r="1.42" fill="#0a4984"/>
<circle cx="354.00" cy="487.62" r="1.42" fill="#c6052d"/>
<circle cx="354.00" cy="488.95" r="1.42" fill="#c6052d"/>
<circle cx="354.00" cy="490.28" r="1.42" fill="#c6052d"/>
<circle cx="354.00" cy="491.62" r="1.42" fill="#c6052d"/>
<circle cx="354.00" cy="492.95" r="1.42" fill="#0a4984"/>
<circle cx="354.00" cy="494.29" r="1.42" fill="#c6052d"/>
<circle cx="354.00" cy="494.88" r="1.55" fill="#2ab142"/>
<circle cx="354.00" cy="496.01" r="1.42" fill="#0a4984"/>
<circle cx="354.00" cy="497.35" r="1.42" fill="#0a4984"/>
<circle cx="354.00" cy="498.68" r="1.42" fill="#0a4984"/>
<circle cx="354.00" cy="500.02" r="1.42" fill="#0a4984"/>
<circle cx="354.00" cy="501.35" r="1.42" fill="#0a4984"/>
<circle cx="354.00" cy="502.68" r="1.42" fill="#0a4984"/>
<circle cx="354.00" cy="504.02" r="1.42" fill="#0a4984"/>
<circle cx="354.00" cy="505.35" r="1.42" fill="#0a4984"/>
<circle cx="354.00" cy="506.49" r="1.42" fill="#c6052d"/>
<circle cx="354.00" cy="507.82" r="1.42" fill="#c6052d"/>
<circle cx="354.00" cy="509.15" r="1.42" fill="#c6052d"/>
<circle cx="354.00" cy="510.49" r="1.42" fill="#c6052d"/>
<circle cx="354.00" cy="511.82" r="1.42" fill="#c6052d"/>
<circle cx="354.00" cy="513.16" r="1.42" fill="#c6052d"/>
<circle cx="354.00" cy="513.80" r="1.55" fill="#2ab142"/>
<circle cx="354.00" cy="515.13" r="1.55" fill="#2ab142"/>
<circle cx="354.00" cy="516.76" r="1.42" fill="#c6052d"/>
<circle cx="354.00" cy="518.10" r="1.42" fill="#c6052d"/>
<circle cx="354.00" cy="519.23" r="1.55" fill="#2ab142"/>
<circle cx="354.00" cy="520.57" r="1.42" fill="#0a4984"/>
<circle cx="354.00" cy="521.21" r="1.42" fill="#0a4984"/>
<circle cx="354.00" cy="522.54" r="1.42" fill="#0a4984"/>
<circle cx="354.00" cy="523.88" r="1.42" fill="#0a4984"/>
<circle cx="354.00" cy="525.21" r="1.42" fill="#0a4984"/>
<circle cx="354.00" cy="526.54" r="1.42" fill="#0a4984"/>
<circle cx="354.00" cy="527.88" r="1.42" fill="#0a4984"/>
<circle cx="354.00" cy="529.21" r="1.42" fill="#0a4984"/>
<circle cx="373.45" cy="530.10" r="1.42" fill="#56196a"/>
<circle cx="417.10" cy="530.10" r="1.42" fill="#56196a"/>
<circle cx="361.40" cy="473.88" r="1.55" fill="#2ab142"/>
<circle cx="365.82" cy="476.25" r="1.55" fill="#2ab142"/>
<circle cx="360.30" cy="483.52" r="1.55" fill="#2ab142"/>
<circle cx="359.86" cy="530.10" r="1.55" fill="#2ab142"/>
<circle cx="430.58" cy="495.08" r="1.55" fill="#2ab142"/>
<circle cx="429.47" cy="504.36" r="1.55" fill="#2ab142"/>
<circle cx="426.60" cy="524.76" r="1.55" fill="#2ab142"/>
<circle cx="362.29" cy="474.28" r="1.42" fill="#0a4984"/>
<circle cx="359.30" cy="485.44" r="1.42" fill="#0a4984"/>
<circle cx="360.96" cy="484.80" r="1.42" fill="#0a4984"/>
<circle cx="361.74" cy="526.54" r="1.42" fill="#0a4984"/>
<circle cx="385.05" cy="527.68" r="1.42" fill="#0a4984"/>
<circle cx="385.49" cy="486.73" r="1.42" fill="#0a4984"/>
<circle cx="419.86" cy="479.02" r="1.42" fill="#0a4984"/>
<circle cx="418.20" cy="486.38" r="1.42" fill="#0a4984"/>
<circle cx="421.96" cy="495.08" r="1.42" fill="#0a4984"/>
<circle cx="428.37" cy="497.99" r="1.42" fill="#0a4984"/>
<circle cx="358.20" cy="461.04" r="1.42" fill="#c6052d"/>
<circle cx="359.86" cy="469.34" r="1.42" fill="#c6052d"/>
<circle cx="358.75" cy="475.27" r="1.42" fill="#c6052d"/>
<circle cx="366.71" cy="473.54" r="1.42" fill="#c6052d"/>
<circle cx="365.82" cy="464.60" r="1.42" fill="#c6052d"/>
<circle cx="367.37" cy="459.11" r="1.42" fill="#c6052d"/>
<circle cx="374.77" cy="459.11" r="1.42" fill="#c6052d"/>
<circle cx="364.61" cy="503.92" r="1.42" fill="#c6052d"/>
<circle cx="361.74" cy="512.41" r="1.42" fill="#c6052d"/>
<circle cx="380.74" cy="461.93" r="1.42" fill="#c6052d"/>
<circle cx="384.39" cy="461.93" r="1.42" fill="#c6052d"/>
<circle cx="381.85" cy="465.53" r="1.42" fill="#c6052d"/>
<circle cx="385.49" cy="466.67" r="1.42" fill="#c6052d"/>
<circle cx="391.46" cy="469.34" r="1.42" fill="#c6052d"/>
<circle cx="391.90" cy="458.17" r="1.42" fill="#c6052d"/>
<circle cx="394.33" cy="461.34" r="1.42" fill="#c6052d"/>
<circle cx="396.32" cy="462.92" r="1.42" fill="#c6052d"/>
<circle cx="395.99" cy="465.53" r="1.42" fill="#c6052d"/>
<circle cx="399.97" cy="463.46" r="1.42" fill="#c6052d"/>
<circle cx="400.74" cy="459.75" r="1.42" fill="#c6052d"/>
<circle cx="405.94" cy="458.17" r="1.42" fill="#c6052d"/>
<circle cx="410.36" cy="459.11" r="1.42" fill="#c6052d"/>
<circle cx="406.49" cy="458.17" r="1.42" fill="#c6052d"/>
<circle cx="410.69" cy="457.83" r="1.42" fill="#c6052d"/>
<circle cx="411.79" cy="460.25" r="1.42" fill="#c6052d"/>
<circle cx="413.45" cy="459.46" r="1.42" fill="#c6052d"/>
<circle cx="415.00" cy="460.74" r="1.42" fill="#c6052d"/>
<circle cx="416.65" cy="462.42" r="1.42" fill="#c6052d"/>
<circle cx="415.55" cy="464.60" r="1.42" fill="#c6052d"/>
<circle cx="417.10" cy="465.88" r="1.42" fill="#c6052d"/>
<circle cx="418.97" cy="463.95" r="1.42" fill="#c6052d"/>
<circle cx="420.30" cy="464.60" r="1.42" fill="#c6052d"/>
<circle cx="422.29" cy="466.67" r="1.42" fill="#c6052d"/>
<circle cx="420.96" cy="469.83" r="1.42" fill="#c6052d"/>
<circle cx="424.61" cy="463.46" r="1.42" fill="#c6052d"/>
<circle cx="427.37" cy="460.25" r="1.42" fill="#c6052d"/>
<circle cx="427.04" cy="464.25" r="1.42" fill="#c6052d"/>
<circle cx="429.47" cy="466.18" r="1.42" fill="#c6052d"/>
<circle cx="430.25" cy="463.46" r="1.42" fill="#c6052d"/>
<circle cx="432.23" cy="460.25" r="1.42" fill="#c6052d"/>
<circle cx="433.78" cy="466.18" r="1.42" fill="#c6052d"/>
<circle cx="435.11" cy="464.25" r="1.42" fill="#c6052d"/>
<circle cx="435.88" cy="462.97" r="1.42" fill="#c6052d"/>
<circle cx="450.36" cy="464.25" r="1.42" fill="#c6052d"/>
<circle cx="423.95" cy="477.88" r="1.42" fill="#c6052d"/>
<circle cx="417.10" cy="486.38" r="1.42" fill="#c6052d"/>
<circle cx="415.77" cy="488.31" r="1.42" fill="#c6052d"/>
<circle cx="437.54" cy="500.71" r="1.42" fill="#c6052d"/>
</svg></body></html>
